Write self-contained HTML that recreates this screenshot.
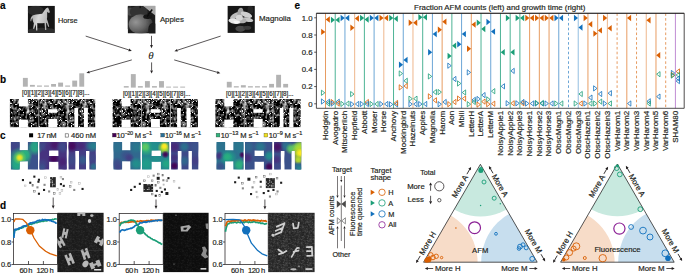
<!DOCTYPE html>
<html><head><meta charset="utf-8"><style>
html,body{margin:0;padding:0;background:#fff;overflow:hidden}
svg{display:block}
text{font-family:"Liberation Sans",sans-serif;stroke:#231f20;stroke-width:0.18px}
</style></head><body>
<svg width="685" height="277" viewBox="0 0 685 277">
<defs>
<filter id="nblur" x="0" y="0" width="100%" height="100%"><feGaussianBlur stdDeviation="0.25"/></filter>
<filter id="pblur" x="-20%" y="-20%" width="140%" height="140%"><feGaussianBlur stdDeviation="0.35"/></filter>
<linearGradient id="horseg" x1="0" y1="0" x2="1" y2="0.3"><stop offset="0" stop-color="#9a9a9a"/><stop offset="0.5" stop-color="#d8d8d8"/><stop offset="1" stop-color="#b0b0b0"/></linearGradient>
<radialGradient id="appleg" cx="0.3" cy="0.4" r="0.75"><stop offset="0" stop-color="#959595"/><stop offset="0.55" stop-color="#666"/><stop offset="1" stop-color="#2e2e2e"/></radialGradient>
<pattern id="noise" x="0" y="0" width="40" height="40" patternUnits="userSpaceOnUse"><rect width="40" height="40" fill="#000"/><rect x="0" y="0" width="1" height="1" fill="#353535"/><rect x="1" y="0" width="1" height="1" fill="#494949"/><rect x="4" y="0" width="1" height="1" fill="#666666"/><rect x="5" y="0" width="1" height="1" fill="#8f8f8f"/><rect x="6" y="0" width="1" height="1" fill="#121212"/><rect x="12" y="0" width="1" height="1" fill="#252525"/><rect x="13" y="0" width="1" height="1" fill="#131313"/><rect x="14" y="0" width="1" height="1" fill="#565656"/><rect x="15" y="0" width="1" height="1" fill="#4b4b4b"/><rect x="17" y="0" width="1" height="1" fill="#1d1d1d"/><rect x="18" y="0" width="1" height="1" fill="#2a2a2a"/><rect x="19" y="0" width="1" height="1" fill="#e4e4e4"/><rect x="20" y="0" width="1" height="1" fill="#171717"/><rect x="21" y="0" width="1" height="1" fill="#e9e9e9"/><rect x="22" y="0" width="1" height="1" fill="#161616"/><rect x="25" y="0" width="1" height="1" fill="#dfdfdf"/><rect x="26" y="0" width="1" height="1" fill="#ebebeb"/><rect x="28" y="0" width="1" height="1" fill="#343434"/><rect x="29" y="0" width="1" height="1" fill="#7e7e7e"/><rect x="30" y="0" width="1" height="1" fill="#999999"/><rect x="31" y="0" width="1" height="1" fill="#7f7f7f"/><rect x="32" y="0" width="1" height="1" fill="#9f9f9f"/><rect x="33" y="0" width="1" height="1" fill="#848484"/><rect x="34" y="0" width="1" height="1" fill="#141414"/><rect x="1" y="1" width="1" height="1" fill="#111111"/><rect x="3" y="1" width="1" height="1" fill="#1d1d1d"/><rect x="4" y="1" width="1" height="1" fill="#666666"/><rect x="5" y="1" width="1" height="1" fill="#898989"/><rect x="6" y="1" width="1" height="1" fill="#3a3a3a"/><rect x="9" y="1" width="1" height="1" fill="#0f0f0f"/><rect x="12" y="1" width="1" height="1" fill="#232323"/><rect x="13" y="1" width="1" height="1" fill="#090909"/><rect x="14" y="1" width="1" height="1" fill="#2f2f2f"/><rect x="15" y="1" width="1" height="1" fill="#454545"/><rect x="16" y="1" width="1" height="1" fill="#4b4b4b"/><rect x="17" y="1" width="1" height="1" fill="#5a5a5a"/><rect x="18" y="1" width="1" height="1" fill="#4d4d4d"/><rect x="19" y="1" width="1" height="1" fill="#272727"/><rect x="20" y="1" width="1" height="1" fill="#151515"/><rect x="21" y="1" width="1" height="1" fill="#484848"/><rect x="22" y="1" width="1" height="1" fill="#3f3f3f"/><rect x="23" y="1" width="1" height="1" fill="#3c3c3c"/><rect x="24" y="1" width="1" height="1" fill="#343434"/><rect x="25" y="1" width="1" height="1" fill="#0f0f0f"/><rect x="27" y="1" width="1" height="1" fill="#f1f1f1"/><rect x="28" y="1" width="1" height="1" fill="#6f6f6f"/><rect x="29" y="1" width="1" height="1" fill="#6b6b6b"/><rect x="30" y="1" width="1" height="1" fill="#757575"/><rect x="31" y="1" width="1" height="1" fill="#727272"/><rect x="32" y="1" width="1" height="1" fill="#646464"/><rect x="33" y="1" width="1" height="1" fill="#353535"/><rect x="1" y="2" width="1" height="1" fill="#111111"/><rect x="2" y="2" width="1" height="1" fill="#1a1a1a"/><rect x="3" y="2" width="1" height="1" fill="#545454"/><rect x="4" y="2" width="1" height="1" fill="#606060"/><rect x="5" y="2" width="1" height="1" fill="#747474"/><rect x="6" y="2" width="1" height="1" fill="#686868"/><rect x="7" y="2" width="1" height="1" fill="#1d1d1d"/><rect x="8" y="2" width="1" height="1" fill="#373737"/><rect x="9" y="2" width="1" height="1" fill="#474747"/><rect x="10" y="2" width="1" height="1" fill="#323232"/><rect x="11" y="2" width="1" height="1" fill="#484848"/><rect x="12" y="2" width="1" height="1" fill="#717171"/><rect x="13" y="2" width="1" height="1" fill="#656565"/><rect x="14" y="2" width="1" height="1" fill="#505050"/><rect x="15" y="2" width="1" height="1" fill="#676767"/><rect x="16" y="2" width="1" height="1" fill="#707070"/><rect x="17" y="2" width="1" height="1" fill="#575757"/><rect x="18" y="2" width="1" height="1" fill="#282828"/><rect x="20" y="2" width="1" height="1" fill="#080808"/><rect x="21" y="2" width="1" height="1" fill="#555555"/><rect x="22" y="2" width="1" height="1" fill="#7f7f7f"/><rect x="23" y="2" width="1" height="1" fill="#8d8d8d"/><rect x="24" y="2" width="1" height="1" fill="#838383"/><rect x="25" y="2" width="1" height="1" fill="#414141"/><rect x="27" y="2" width="1" height="1" fill="#202020"/><rect x="28" y="2" width="1" height="1" fill="#8b8b8b"/><rect x="29" y="2" width="1" height="1" fill="#5e5e5e"/><rect x="30" y="2" width="1" height="1" fill="#333333"/><rect x="31" y="2" width="1" height="1" fill="#2a2a2a"/><rect x="32" y="2" width="1" height="1" fill="#101010"/><rect x="35" y="2" width="1" height="1" fill="#545454"/><rect x="36" y="2" width="1" height="1" fill="#363636"/><rect x="1" y="3" width="1" height="1" fill="#5e5e5e"/><rect x="2" y="3" width="1" height="1" fill="#5d5d5d"/><rect x="3" y="3" width="1" height="1" fill="#3d3d3d"/><rect x="4" y="3" width="1" height="1" fill="#292929"/><rect x="5" y="3" width="1" height="1" fill="#f0f0f0"/><rect x="6" y="3" width="1" height="1" fill="#909090"/><rect x="7" y="3" width="1" height="1" fill="#131313"/><rect x="8" y="3" width="1" height="1" fill="#e0e0e0"/><rect x="10" y="3" width="1" height="1" fill="#1e1e1e"/><rect x="11" y="3" width="1" height="1" fill="#e4e4e4"/><rect x="12" y="3" width="1" height="1" fill="#676767"/><rect x="13" y="3" width="1" height="1" fill="#606060"/><rect x="14" y="3" width="1" height="1" fill="#151515"/><rect x="15" y="3" width="1" height="1" fill="#161616"/><rect x="16" y="3" width="1" height="1" fill="#f1f1f1"/><rect x="17" y="3" width="1" height="1" fill="#747474"/><rect x="18" y="3" width="1" height="1" fill="#1b1b1b"/><rect x="20" y="3" width="1" height="1" fill="#444444"/><rect x="21" y="3" width="1" height="1" fill="#545454"/><rect x="22" y="3" width="1" height="1" fill="#5f5f5f"/><rect x="23" y="3" width="1" height="1" fill="#626262"/><rect x="24" y="3" width="1" height="1" fill="#8c8c8c"/><rect x="25" y="3" width="1" height="1" fill="#868686"/><rect x="26" y="3" width="1" height="1" fill="#272727"/><rect x="27" y="3" width="1" height="1" fill="#141414"/><rect x="28" y="3" width="1" height="1" fill="#4f4f4f"/><rect x="29" y="3" width="1" height="1" fill="#111111"/><rect x="31" y="3" width="1" height="1" fill="#ececec"/><rect x="32" y="3" width="1" height="1" fill="#474747"/><rect x="33" y="3" width="1" height="1" fill="#1a1a1a"/><rect x="34" y="3" width="1" height="1" fill="#585858"/><rect x="35" y="3" width="1" height="1" fill="#858585"/><rect x="36" y="3" width="1" height="1" fill="#6e6e6e"/><rect x="0" y="4" width="1" height="1" fill="#454545"/><rect x="1" y="4" width="1" height="1" fill="#767676"/><rect x="2" y="4" width="1" height="1" fill="#5e5e5e"/><rect x="3" y="4" width="1" height="1" fill="#0c0c0c"/><rect x="5" y="4" width="1" height="1" fill="#686868"/><rect x="6" y="4" width="1" height="1" fill="#7a7a7a"/><rect x="9" y="4" width="1" height="1" fill="#353535"/><rect x="10" y="4" width="1" height="1" fill="#4e4e4e"/><rect x="11" y="4" width="1" height="1" fill="#1a1a1a"/><rect x="12" y="4" width="1" height="1" fill="#0b0b0b"/><rect x="13" y="4" width="1" height="1" fill="#2b2b2b"/><rect x="16" y="4" width="1" height="1" fill="#424242"/><rect x="17" y="4" width="1" height="1" fill="#dddddd"/><rect x="18" y="4" width="1" height="1" fill="#171717"/><rect x="20" y="4" width="1" height="1" fill="#616161"/><rect x="21" y="4" width="1" height="1" fill="#585858"/><rect x="22" y="4" width="1" height="1" fill="#535353"/><rect x="23" y="4" width="1" height="1" fill="#eaeaea"/><rect x="24" y="4" width="1" height="1" fill="#989898"/><rect x="25" y="4" width="1" height="1" fill="#787878"/><rect x="27" y="4" width="1" height="1" fill="#eaeaea"/><rect x="28" y="4" width="1" height="1" fill="#1e1e1e"/><rect x="32" y="4" width="1" height="1" fill="#595959"/><rect x="33" y="4" width="1" height="1" fill="#e4e4e4"/><rect x="34" y="4" width="1" height="1" fill="#545454"/><rect x="35" y="4" width="1" height="1" fill="#292929"/><rect x="36" y="4" width="1" height="1" fill="#2e2e2e"/><rect x="38" y="4" width="1" height="1" fill="#181818"/><rect x="39" y="4" width="1" height="1" fill="#292929"/><rect x="5" y="5" width="1" height="1" fill="#131313"/><rect x="6" y="5" width="1" height="1" fill="#414141"/><rect x="7" y="5" width="1" height="1" fill="#151515"/><rect x="8" y="5" width="1" height="1" fill="#212121"/><rect x="9" y="5" width="1" height="1" fill="#5d5d5d"/><rect x="10" y="5" width="1" height="1" fill="#606060"/><rect x="12" y="5" width="1" height="1" fill="#0b0b0b"/><rect x="13" y="5" width="1" height="1" fill="#393939"/><rect x="17" y="5" width="1" height="1" fill="#101010"/><rect x="19" y="5" width="1" height="1" fill="#e3e3e3"/><rect x="20" y="5" width="1" height="1" fill="#282828"/><rect x="21" y="5" width="1" height="1" fill="#222222"/><rect x="22" y="5" width="1" height="1" fill="#585858"/><rect x="23" y="5" width="1" height="1" fill="#8d8d8d"/><rect x="24" y="5" width="1" height="1" fill="#7e7e7e"/><rect x="25" y="5" width="1" height="1" fill="#4a4a4a"/><rect x="28" y="5" width="1" height="1" fill="#1e1e1e"/><rect x="29" y="5" width="1" height="1" fill="#090909"/><rect x="31" y="5" width="1" height="1" fill="#f0f0f0"/><rect x="32" y="5" width="1" height="1" fill="#0e0e0e"/><rect x="33" y="5" width="1" height="1" fill="#343434"/><rect x="34" y="5" width="1" height="1" fill="#242424"/><rect x="35" y="5" width="1" height="1" fill="#202020"/><rect x="36" y="5" width="1" height="1" fill="#4f4f4f"/><rect x="39" y="5" width="1" height="1" fill="#242424"/><rect x="0" y="6" width="1" height="1" fill="#1d1d1d"/><rect x="1" y="6" width="1" height="1" fill="#202020"/><rect x="6" y="6" width="1" height="1" fill="#3f3f3f"/><rect x="7" y="6" width="1" height="1" fill="#171717"/><rect x="8" y="6" width="1" height="1" fill="#292929"/><rect x="9" y="6" width="1" height="1" fill="#7f7f7f"/><rect x="10" y="6" width="1" height="1" fill="#7c7c7c"/><rect x="11" y="6" width="1" height="1" fill="#404040"/><rect x="12" y="6" width="1" height="1" fill="#3d3d3d"/><rect x="13" y="6" width="1" height="1" fill="#414141"/><rect x="14" y="6" width="1" height="1" fill="#101010"/><rect x="15" y="6" width="1" height="1" fill="#0f0f0f"/><rect x="16" y="6" width="1" height="1" fill="#0a0a0a"/><rect x="17" y="6" width="1" height="1" fill="#262626"/><rect x="19" y="6" width="1" height="1" fill="#4d4d4d"/><rect x="20" y="6" width="1" height="1" fill="#606060"/><rect x="21" y="6" width="1" height="1" fill="#272727"/><rect x="22" y="6" width="1" height="1" fill="#4f4f4f"/><rect x="23" y="6" width="1" height="1" fill="#666666"/><rect x="24" y="6" width="1" height="1" fill="#5c5c5c"/><rect x="25" y="6" width="1" height="1" fill="#1d1d1d"/><rect x="26" y="6" width="1" height="1" fill="#323232"/><rect x="27" y="6" width="1" height="1" fill="#737373"/><rect x="28" y="6" width="1" height="1" fill="#686868"/><rect x="29" y="6" width="1" height="1" fill="#101010"/><rect x="30" y="6" width="1" height="1" fill="#0b0b0b"/><rect x="31" y="6" width="1" height="1" fill="#e6e6e6"/><rect x="35" y="6" width="1" height="1" fill="#0c0c0c"/><rect x="36" y="6" width="1" height="1" fill="#353535"/><rect x="37" y="6" width="1" height="1" fill="#121212"/><rect x="38" y="6" width="1" height="1" fill="#101010"/><rect x="39" y="6" width="1" height="1" fill="#e0e0e0"/><rect x="0" y="7" width="1" height="1" fill="#505050"/><rect x="1" y="7" width="1" height="1" fill="#747474"/><rect x="2" y="7" width="1" height="1" fill="#696969"/><rect x="3" y="7" width="1" height="1" fill="#666666"/><rect x="4" y="7" width="1" height="1" fill="#535353"/><rect x="5" y="7" width="1" height="1" fill="#323232"/><rect x="6" y="7" width="1" height="1" fill="#717171"/><rect x="7" y="7" width="1" height="1" fill="#626262"/><rect x="8" y="7" width="1" height="1" fill="#595959"/><rect x="9" y="7" width="1" height="1" fill="#585858"/><rect x="10" y="7" width="1" height="1" fill="#232323"/><rect x="11" y="7" width="1" height="1" fill="#3f3f3f"/><rect x="12" y="7" width="1" height="1" fill="#303030"/><rect x="16" y="7" width="1" height="1" fill="#0f0f0f"/><rect x="17" y="7" width="1" height="1" fill="#434343"/><rect x="18" y="7" width="1" height="1" fill="#5e5e5e"/><rect x="19" y="7" width="1" height="1" fill="#9c9c9c"/><rect x="20" y="7" width="1" height="1" fill="#919191"/><rect x="21" y="7" width="1" height="1" fill="#363636"/><rect x="22" y="7" width="1" height="1" fill="#3c3c3c"/><rect x="23" y="7" width="1" height="1" fill="#4a4a4a"/><rect x="24" y="7" width="1" height="1" fill="#3c3c3c"/><rect x="25" y="7" width="1" height="1" fill="#2c2c2c"/><rect x="26" y="7" width="1" height="1" fill="#5a5a5a"/><rect x="27" y="7" width="1" height="1" fill="#a8a8a8"/><rect x="28" y="7" width="1" height="1" fill="#787878"/><rect x="29" y="7" width="1" height="1" fill="#1c1c1c"/><rect x="38" y="7" width="1" height="1" fill="#181818"/><rect x="39" y="7" width="1" height="1" fill="#4c4c4c"/><rect x="0" y="8" width="1" height="1" fill="#909090"/><rect x="1" y="8" width="1" height="1" fill="#777777"/><rect x="2" y="8" width="1" height="1" fill="#787878"/><rect x="3" y="8" width="1" height="1" fill="#747474"/><rect x="4" y="8" width="1" height="1" fill="#707070"/><rect x="5" y="8" width="1" height="1" fill="#4e4e4e"/><rect x="6" y="8" width="1" height="1" fill="#434343"/><rect x="7" y="8" width="1" height="1" fill="#3a3a3a"/><rect x="8" y="8" width="1" height="1" fill="#6a6a6a"/><rect x="9" y="8" width="1" height="1" fill="#e4e4e4"/><rect x="11" y="8" width="1" height="1" fill="#323232"/><rect x="12" y="8" width="1" height="1" fill="#414141"/><rect x="13" y="8" width="1" height="1" fill="#e3e3e3"/><rect x="14" y="8" width="1" height="1" fill="#f0f0f0"/><rect x="15" y="8" width="1" height="1" fill="#151515"/><rect x="17" y="8" width="1" height="1" fill="#383838"/><rect x="18" y="8" width="1" height="1" fill="#6a6a6a"/><rect x="19" y="8" width="1" height="1" fill="#717171"/><rect x="20" y="8" width="1" height="1" fill="#6a6a6a"/><rect x="21" y="8" width="1" height="1" fill="#666666"/><rect x="22" y="8" width="1" height="1" fill="#2e2e2e"/><rect x="23" y="8" width="1" height="1" fill="#292929"/><rect x="25" y="8" width="1" height="1" fill="#212121"/><rect x="26" y="8" width="1" height="1" fill="#686868"/><rect x="27" y="8" width="1" height="1" fill="#adadad"/><rect x="28" y="8" width="1" height="1" fill="#868686"/><rect x="29" y="8" width="1" height="1" fill="#080808"/><rect x="36" y="8" width="1" height="1" fill="#d9d9d9"/><rect x="38" y="8" width="1" height="1" fill="#0c0c0c"/><rect x="39" y="8" width="1" height="1" fill="#838383"/><rect x="0" y="9" width="1" height="1" fill="#8f8f8f"/><rect x="1" y="9" width="1" height="1" fill="#606060"/><rect x="2" y="9" width="1" height="1" fill="#525252"/><rect x="3" y="9" width="1" height="1" fill="#767676"/><rect x="4" y="9" width="1" height="1" fill="#ededed"/><rect x="5" y="9" width="1" height="1" fill="#3c3c3c"/><rect x="6" y="9" width="1" height="1" fill="#171717"/><rect x="8" y="9" width="1" height="1" fill="#3b3b3b"/><rect x="9" y="9" width="1" height="1" fill="#3b3b3b"/><rect x="11" y="9" width="1" height="1" fill="#252525"/><rect x="12" y="9" width="1" height="1" fill="#191919"/><rect x="13" y="9" width="1" height="1" fill="#252525"/><rect x="14" y="9" width="1" height="1" fill="#4b4b4b"/><rect x="15" y="9" width="1" height="1" fill="#444444"/><rect x="17" y="9" width="1" height="1" fill="#0a0a0a"/><rect x="18" y="9" width="1" height="1" fill="#2f2f2f"/><rect x="19" y="9" width="1" height="1" fill="#0d0d0d"/><rect x="20" y="9" width="1" height="1" fill="#0b0b0b"/><rect x="21" y="9" width="1" height="1" fill="#5c5c5c"/><rect x="22" y="9" width="1" height="1" fill="#2e2e2e"/><rect x="23" y="9" width="1" height="1" fill="#ececec"/><rect x="25" y="9" width="1" height="1" fill="#252525"/><rect x="26" y="9" width="1" height="1" fill="#6e6e6e"/><rect x="27" y="9" width="1" height="1" fill="#686868"/><rect x="28" y="9" width="1" height="1" fill="#454545"/><rect x="29" y="9" width="1" height="1" fill="#1c1c1c"/><rect x="30" y="9" width="1" height="1" fill="#4d4d4d"/><rect x="31" y="9" width="1" height="1" fill="#4d4d4d"/><rect x="32" y="9" width="1" height="1" fill="#2c2c2c"/><rect x="33" y="9" width="1" height="1" fill="#111111"/><rect x="34" y="9" width="1" height="1" fill="#0f0f0f"/><rect x="35" y="9" width="1" height="1" fill="#1a1a1a"/><rect x="36" y="9" width="1" height="1" fill="#f1f1f1"/><rect x="39" y="9" width="1" height="1" fill="#6c6c6c"/><rect x="0" y="10" width="1" height="1" fill="#656565"/><rect x="1" y="10" width="1" height="1" fill="#535353"/><rect x="2" y="10" width="1" height="1" fill="#747474"/><rect x="3" y="10" width="1" height="1" fill="#949494"/><rect x="4" y="10" width="1" height="1" fill="#5e5e5e"/><rect x="5" y="10" width="1" height="1" fill="#3b3b3b"/><rect x="6" y="10" width="1" height="1" fill="#333333"/><rect x="7" y="10" width="1" height="1" fill="#3b3b3b"/><rect x="8" y="10" width="1" height="1" fill="#7d7d7d"/><rect x="9" y="10" width="1" height="1" fill="#9f9f9f"/><rect x="10" y="10" width="1" height="1" fill="#717171"/><rect x="11" y="10" width="1" height="1" fill="#3c3c3c"/><rect x="12" y="10" width="1" height="1" fill="#161616"/><rect x="13" y="10" width="1" height="1" fill="#363636"/><rect x="14" y="10" width="1" height="1" fill="#666666"/><rect x="15" y="10" width="1" height="1" fill="#3b3b3b"/><rect x="21" y="10" width="1" height="1" fill="#565656"/><rect x="22" y="10" width="1" height="1" fill="#575757"/><rect x="23" y="10" width="1" height="1" fill="#151515"/><rect x="25" y="10" width="1" height="1" fill="#1b1b1b"/><rect x="26" y="10" width="1" height="1" fill="#393939"/><rect x="27" y="10" width="1" height="1" fill="#2c2c2c"/><rect x="29" y="10" width="1" height="1" fill="#dedede"/><rect x="30" y="10" width="1" height="1" fill="#5a5a5a"/><rect x="31" y="10" width="1" height="1" fill="#717171"/><rect x="32" y="10" width="1" height="1" fill="#797979"/><rect x="33" y="10" width="1" height="1" fill="#797979"/><rect x="34" y="10" width="1" height="1" fill="#494949"/><rect x="35" y="10" width="1" height="1" fill="#363636"/><rect x="36" y="10" width="1" height="1" fill="#131313"/><rect x="37" y="10" width="1" height="1" fill="#0e0e0e"/><rect x="38" y="10" width="1" height="1" fill="#212121"/><rect x="39" y="10" width="1" height="1" fill="#5f5f5f"/><rect x="0" y="11" width="1" height="1" fill="#1b1b1b"/><rect x="1" y="11" width="1" height="1" fill="#101010"/><rect x="2" y="11" width="1" height="1" fill="#5b5b5b"/><rect x="3" y="11" width="1" height="1" fill="#a1a1a1"/><rect x="4" y="11" width="1" height="1" fill="#909090"/><rect x="5" y="11" width="1" height="1" fill="#292929"/><rect x="7" y="11" width="1" height="1" fill="#373737"/><rect x="8" y="11" width="1" height="1" fill="#7a7a7a"/><rect x="9" y="11" width="1" height="1" fill="#898989"/><rect x="10" y="11" width="1" height="1" fill="#6e6e6e"/><rect x="11" y="11" width="1" height="1" fill="#515151"/><rect x="12" y="11" width="1" height="1" fill="#363636"/><rect x="13" y="11" width="1" height="1" fill="#202020"/><rect x="14" y="11" width="1" height="1" fill="#f0f0f0"/><rect x="15" y="11" width="1" height="1" fill="#353535"/><rect x="17" y="11" width="1" height="1" fill="#2e2e2e"/><rect x="21" y="11" width="1" height="1" fill="#4a4a4a"/><rect x="22" y="11" width="1" height="1" fill="#555555"/><rect x="23" y="11" width="1" height="1" fill="#4e4e4e"/><rect x="24" y="11" width="1" height="1" fill="#343434"/><rect x="25" y="11" width="1" height="1" fill="#171717"/><rect x="26" y="11" width="1" height="1" fill="#3c3c3c"/><rect x="27" y="11" width="1" height="1" fill="#4d4d4d"/><rect x="28" y="11" width="1" height="1" fill="#252525"/><rect x="29" y="11" width="1" height="1" fill="#464646"/><rect x="30" y="11" width="1" height="1" fill="#343434"/><rect x="31" y="11" width="1" height="1" fill="#4a4a4a"/><rect x="32" y="11" width="1" height="1" fill="#595959"/><rect x="33" y="11" width="1" height="1" fill="#7b7b7b"/><rect x="34" y="11" width="1" height="1" fill="#7a7a7a"/><rect x="35" y="11" width="1" height="1" fill="#484848"/><rect x="2" y="12" width="1" height="1" fill="#242424"/><rect x="3" y="12" width="1" height="1" fill="#5f5f5f"/><rect x="4" y="12" width="1" height="1" fill="#7c7c7c"/><rect x="5" y="12" width="1" height="1" fill="#e7e7e7"/><rect x="9" y="12" width="1" height="1" fill="#1b1b1b"/><rect x="10" y="12" width="1" height="1" fill="#717171"/><rect x="11" y="12" width="1" height="1" fill="#8c8c8c"/><rect x="12" y="12" width="1" height="1" fill="#464646"/><rect x="13" y="12" width="1" height="1" fill="#1f1f1f"/><rect x="14" y="12" width="1" height="1" fill="#545454"/><rect x="15" y="12" width="1" height="1" fill="#484848"/><rect x="16" y="12" width="1" height="1" fill="#515151"/><rect x="17" y="12" width="1" height="1" fill="#dbdbdb"/><rect x="18" y="12" width="1" height="1" fill="#2b2b2b"/><rect x="19" y="12" width="1" height="1" fill="#373737"/><rect x="20" y="12" width="1" height="1" fill="#0a0a0a"/><rect x="21" y="12" width="1" height="1" fill="#343434"/><rect x="22" y="12" width="1" height="1" fill="#676767"/><rect x="23" y="12" width="1" height="1" fill="#656565"/><rect x="24" y="12" width="1" height="1" fill="#4c4c4c"/><rect x="25" y="12" width="1" height="1" fill="#5a5a5a"/><rect x="26" y="12" width="1" height="1" fill="#e8e8e8"/><rect x="27" y="12" width="1" height="1" fill="#ececec"/><rect x="28" y="12" width="1" height="1" fill="#262626"/><rect x="29" y="12" width="1" height="1" fill="#474747"/><rect x="30" y="12" width="1" height="1" fill="#1d1d1d"/><rect x="31" y="12" width="1" height="1" fill="#434343"/><rect x="32" y="12" width="1" height="1" fill="#6a6a6a"/><rect x="33" y="12" width="1" height="1" fill="#3a3a3a"/><rect x="34" y="12" width="1" height="1" fill="#4d4d4d"/><rect x="35" y="12" width="1" height="1" fill="#282828"/><rect x="37" y="12" width="1" height="1" fill="#e6e6e6"/><rect x="0" y="13" width="1" height="1" fill="#f2f2f2"/><rect x="1" y="13" width="1" height="1" fill="#0d0d0d"/><rect x="2" y="13" width="1" height="1" fill="#565656"/><rect x="3" y="13" width="1" height="1" fill="#5a5a5a"/><rect x="4" y="13" width="1" height="1" fill="#767676"/><rect x="5" y="13" width="1" height="1" fill="#656565"/><rect x="6" y="13" width="1" height="1" fill="#383838"/><rect x="10" y="13" width="1" height="1" fill="#4f4f4f"/><rect x="11" y="13" width="1" height="1" fill="#787878"/><rect x="12" y="13" width="1" height="1" fill="#2d2d2d"/><rect x="13" y="13" width="1" height="1" fill="#080808"/><rect x="14" y="13" width="1" height="1" fill="#0a0a0a"/><rect x="15" y="13" width="1" height="1" fill="#444444"/><rect x="16" y="13" width="1" height="1" fill="#9c9c9c"/><rect x="17" y="13" width="1" height="1" fill="#bdbdbd"/><rect x="18" y="13" width="1" height="1" fill="#999999"/><rect x="19" y="13" width="1" height="1" fill="#8d8d8d"/><rect x="20" y="13" width="1" height="1" fill="#383838"/><rect x="22" y="13" width="1" height="1" fill="#202020"/><rect x="23" y="13" width="1" height="1" fill="#555555"/><rect x="24" y="13" width="1" height="1" fill="#474747"/><rect x="25" y="13" width="1" height="1" fill="#444444"/><rect x="26" y="13" width="1" height="1" fill="#2b2b2b"/><rect x="27" y="13" width="1" height="1" fill="#151515"/><rect x="28" y="13" width="1" height="1" fill="#454545"/><rect x="29" y="13" width="1" height="1" fill="#3d3d3d"/><rect x="30" y="13" width="1" height="1" fill="#373737"/><rect x="31" y="13" width="1" height="1" fill="#1c1c1c"/><rect x="32" y="13" width="1" height="1" fill="#505050"/><rect x="33" y="13" width="1" height="1" fill="#2e2e2e"/><rect x="34" y="13" width="1" height="1" fill="#343434"/><rect x="36" y="13" width="1" height="1" fill="#e3e3e3"/><rect x="38" y="13" width="1" height="1" fill="#171717"/><rect x="1" y="14" width="1" height="1" fill="#363636"/><rect x="2" y="14" width="1" height="1" fill="#595959"/><rect x="3" y="14" width="1" height="1" fill="#232323"/><rect x="4" y="14" width="1" height="1" fill="#626262"/><rect x="5" y="14" width="1" height="1" fill="#8c8c8c"/><rect x="6" y="14" width="1" height="1" fill="#707070"/><rect x="7" y="14" width="1" height="1" fill="#2f2f2f"/><rect x="8" y="14" width="1" height="1" fill="#3f3f3f"/><rect x="9" y="14" width="1" height="1" fill="#2e2e2e"/><rect x="10" y="14" width="1" height="1" fill="#4f4f4f"/><rect x="11" y="14" width="1" height="1" fill="#323232"/><rect x="12" y="14" width="1" height="1" fill="#0f0f0f"/><rect x="13" y="14" width="1" height="1" fill="#1e1e1e"/><rect x="14" y="14" width="1" height="1" fill="#171717"/><rect x="15" y="14" width="1" height="1" fill="#5c5c5c"/><rect x="16" y="14" width="1" height="1" fill="#818181"/><rect x="17" y="14" width="1" height="1" fill="#a9a9a9"/><rect x="18" y="14" width="1" height="1" fill="#a1a1a1"/><rect x="19" y="14" width="1" height="1" fill="#565656"/><rect x="23" y="14" width="1" height="1" fill="#232323"/><rect x="28" y="14" width="1" height="1" fill="#373737"/><rect x="29" y="14" width="1" height="1" fill="#343434"/><rect x="30" y="14" width="1" height="1" fill="#1d1d1d"/><rect x="34" y="14" width="1" height="1" fill="#1d1d1d"/><rect x="36" y="14" width="1" height="1" fill="#0f0f0f"/><rect x="37" y="14" width="1" height="1" fill="#515151"/><rect x="38" y="14" width="1" height="1" fill="#454545"/><rect x="1" y="15" width="1" height="1" fill="#dfdfdf"/><rect x="2" y="15" width="1" height="1" fill="#e8e8e8"/><rect x="4" y="15" width="1" height="1" fill="#595959"/><rect x="5" y="15" width="1" height="1" fill="#919191"/><rect x="6" y="15" width="1" height="1" fill="#e1e1e1"/><rect x="7" y="15" width="1" height="1" fill="#e2e2e2"/><rect x="8" y="15" width="1" height="1" fill="#5b5b5b"/><rect x="9" y="15" width="1" height="1" fill="#636363"/><rect x="10" y="15" width="1" height="1" fill="#303030"/><rect x="11" y="15" width="1" height="1" fill="#0c0c0c"/><rect x="12" y="15" width="1" height="1" fill="#dddddd"/><rect x="13" y="15" width="1" height="1" fill="#212121"/><rect x="14" y="15" width="1" height="1" fill="#5a5a5a"/><rect x="15" y="15" width="1" height="1" fill="#838383"/><rect x="16" y="15" width="1" height="1" fill="#4c4c4c"/><rect x="17" y="15" width="1" height="1" fill="#535353"/><rect x="18" y="15" width="1" height="1" fill="#7c7c7c"/><rect x="19" y="15" width="1" height="1" fill="#444444"/><rect x="21" y="15" width="1" height="1" fill="#eeeeee"/><rect x="23" y="15" width="1" height="1" fill="#232323"/><rect x="24" y="15" width="1" height="1" fill="#232323"/><rect x="25" y="15" width="1" height="1" fill="#2f2f2f"/><rect x="26" y="15" width="1" height="1" fill="#222222"/><rect x="27" y="15" width="1" height="1" fill="#0c0c0c"/><rect x="28" y="15" width="1" height="1" fill="#171717"/><rect x="29" y="15" width="1" height="1" fill="#e1e1e1"/><rect x="30" y="15" width="1" height="1" fill="#0f0f0f"/><rect x="34" y="15" width="1" height="1" fill="#161616"/><rect x="35" y="15" width="1" height="1" fill="#080808"/><rect x="36" y="15" width="1" height="1" fill="#1a1a1a"/><rect x="37" y="15" width="1" height="1" fill="#6b6b6b"/><rect x="38" y="15" width="1" height="1" fill="#777777"/><rect x="39" y="15" width="1" height="1" fill="#e1e1e1"/><rect x="0" y="16" width="1" height="1" fill="#232323"/><rect x="5" y="16" width="1" height="1" fill="#282828"/><rect x="6" y="16" width="1" height="1" fill="#747474"/><rect x="7" y="16" width="1" height="1" fill="#646464"/><rect x="8" y="16" width="1" height="1" fill="#6a6a6a"/><rect x="9" y="16" width="1" height="1" fill="#4e4e4e"/><rect x="11" y="16" width="1" height="1" fill="#0c0c0c"/><rect x="12" y="16" width="1" height="1" fill="#dadada"/><rect x="14" y="16" width="1" height="1" fill="#535353"/><rect x="15" y="16" width="1" height="1" fill="#838383"/><rect x="16" y="16" width="1" height="1" fill="#474747"/><rect x="17" y="16" width="1" height="1" fill="#373737"/><rect x="18" y="16" width="1" height="1" fill="#545454"/><rect x="19" y="16" width="1" height="1" fill="#101010"/><rect x="22" y="16" width="1" height="1" fill="#3d3d3d"/><rect x="23" y="16" width="1" height="1" fill="#ededed"/><rect x="24" y="16" width="1" height="1" fill="#3d3d3d"/><rect x="25" y="16" width="1" height="1" fill="#282828"/><rect x="26" y="16" width="1" height="1" fill="#0e0e0e"/><rect x="27" y="16" width="1" height="1" fill="#161616"/><rect x="28" y="16" width="1" height="1" fill="#2f2f2f"/><rect x="29" y="16" width="1" height="1" fill="#292929"/><rect x="31" y="16" width="1" height="1" fill="#ededed"/><rect x="32" y="16" width="1" height="1" fill="#1b1b1b"/><rect x="33" y="16" width="1" height="1" fill="#555555"/><rect x="34" y="16" width="1" height="1" fill="#454545"/><rect x="35" y="16" width="1" height="1" fill="#292929"/><rect x="36" y="16" width="1" height="1" fill="#4f4f4f"/><rect x="37" y="16" width="1" height="1" fill="#585858"/><rect x="38" y="16" width="1" height="1" fill="#555555"/><rect x="39" y="16" width="1" height="1" fill="#494949"/><rect x="2" y="17" width="1" height="1" fill="#1b1b1b"/><rect x="6" y="17" width="1" height="1" fill="#696969"/><rect x="7" y="17" width="1" height="1" fill="#7f7f7f"/><rect x="8" y="17" width="1" height="1" fill="#5f5f5f"/><rect x="9" y="17" width="1" height="1" fill="#5d5d5d"/><rect x="10" y="17" width="1" height="1" fill="#111111"/><rect x="13" y="17" width="1" height="1" fill="#090909"/><rect x="14" y="17" width="1" height="1" fill="#4c4c4c"/><rect x="15" y="17" width="1" height="1" fill="#323232"/><rect x="17" y="17" width="1" height="1" fill="#2a2a2a"/><rect x="18" y="17" width="1" height="1" fill="#191919"/><rect x="22" y="17" width="1" height="1" fill="#2a2a2a"/><rect x="23" y="17" width="1" height="1" fill="#414141"/><rect x="24" y="17" width="1" height="1" fill="#6a6a6a"/><rect x="25" y="17" width="1" height="1" fill="#212121"/><rect x="26" y="17" width="1" height="1" fill="#131313"/><rect x="31" y="17" width="1" height="1" fill="#121212"/><rect x="32" y="17" width="1" height="1" fill="#1e1e1e"/><rect x="33" y="17" width="1" height="1" fill="#838383"/><rect x="34" y="17" width="1" height="1" fill="#7e7e7e"/><rect x="35" y="17" width="1" height="1" fill="#7d7d7d"/><rect x="36" y="17" width="1" height="1" fill="#6e6e6e"/><rect x="37" y="17" width="1" height="1" fill="#525252"/><rect x="38" y="17" width="1" height="1" fill="#545454"/><rect x="39" y="17" width="1" height="1" fill="#ececec"/><rect x="0" y="18" width="1" height="1" fill="#191919"/><rect x="1" y="18" width="1" height="1" fill="#414141"/><rect x="2" y="18" width="1" height="1" fill="#373737"/><rect x="5" y="18" width="1" height="1" fill="#3e3e3e"/><rect x="6" y="18" width="1" height="1" fill="#636363"/><rect x="7" y="18" width="1" height="1" fill="#efefef"/><rect x="8" y="18" width="1" height="1" fill="#434343"/><rect x="9" y="18" width="1" height="1" fill="#686868"/><rect x="10" y="18" width="1" height="1" fill="#1a1a1a"/><rect x="13" y="18" width="1" height="1" fill="#4f4f4f"/><rect x="14" y="18" width="1" height="1" fill="#989898"/><rect x="15" y="18" width="1" height="1" fill="#545454"/><rect x="16" y="18" width="1" height="1" fill="#1b1b1b"/><rect x="17" y="18" width="1" height="1" fill="#303030"/><rect x="18" y="18" width="1" height="1" fill="#080808"/><rect x="19" y="18" width="1" height="1" fill="#252525"/><rect x="22" y="18" width="1" height="1" fill="#222222"/><rect x="23" y="18" width="1" height="1" fill="#666666"/><rect x="24" y="18" width="1" height="1" fill="#888888"/><rect x="25" y="18" width="1" height="1" fill="#3e3e3e"/><rect x="26" y="18" width="1" height="1" fill="#222222"/><rect x="27" y="18" width="1" height="1" fill="#0f0f0f"/><rect x="30" y="18" width="1" height="1" fill="#1f1f1f"/><rect x="33" y="18" width="1" height="1" fill="#464646"/><rect x="34" y="18" width="1" height="1" fill="#6c6c6c"/><rect x="35" y="18" width="1" height="1" fill="#5d5d5d"/><rect x="36" y="18" width="1" height="1" fill="#2a2a2a"/><rect x="37" y="18" width="1" height="1" fill="#727272"/><rect x="38" y="18" width="1" height="1" fill="#a1a1a1"/><rect x="39" y="18" width="1" height="1" fill="#595959"/><rect x="0" y="19" width="1" height="1" fill="#1a1a1a"/><rect x="1" y="19" width="1" height="1" fill="#585858"/><rect x="2" y="19" width="1" height="1" fill="#dadada"/><rect x="4" y="19" width="1" height="1" fill="#3e3e3e"/><rect x="5" y="19" width="1" height="1" fill="#818181"/><rect x="6" y="19" width="1" height="1" fill="#3e3e3e"/><rect x="7" y="19" width="1" height="1" fill="#3a3a3a"/><rect x="8" y="19" width="1" height="1" fill="#4c4c4c"/><rect x="9" y="19" width="1" height="1" fill="#4c4c4c"/><rect x="12" y="19" width="1" height="1" fill="#363636"/><rect x="13" y="19" width="1" height="1" fill="#707070"/><rect x="14" y="19" width="1" height="1" fill="#b8b8b8"/><rect x="15" y="19" width="1" height="1" fill="#929292"/><rect x="16" y="19" width="1" height="1" fill="#4e4e4e"/><rect x="17" y="19" width="1" height="1" fill="#404040"/><rect x="18" y="19" width="1" height="1" fill="#2d2d2d"/><rect x="19" y="19" width="1" height="1" fill="#585858"/><rect x="20" y="19" width="1" height="1" fill="#1b1b1b"/><rect x="22" y="19" width="1" height="1" fill="#4f4f4f"/><rect x="23" y="19" width="1" height="1" fill="#7e7e7e"/><rect x="24" y="19" width="1" height="1" fill="#656565"/><rect x="25" y="19" width="1" height="1" fill="#151515"/><rect x="26" y="19" width="1" height="1" fill="#282828"/><rect x="27" y="19" width="1" height="1" fill="#2a2a2a"/><rect x="28" y="19" width="1" height="1" fill="#343434"/><rect x="31" y="19" width="1" height="1" fill="#dbdbdb"/><rect x="33" y="19" width="1" height="1" fill="#dadada"/><rect x="34" y="19" width="1" height="1" fill="#545454"/><rect x="35" y="19" width="1" height="1" fill="#4d4d4d"/><rect x="36" y="19" width="1" height="1" fill="#3c3c3c"/><rect x="37" y="19" width="1" height="1" fill="#8a8a8a"/><rect x="38" y="19" width="1" height="1" fill="#e6e6e6"/><rect x="39" y="19" width="1" height="1" fill="#6a6a6a"/><rect x="0" y="20" width="1" height="1" fill="#101010"/><rect x="1" y="20" width="1" height="1" fill="#f2f2f2"/><rect x="2" y="20" width="1" height="1" fill="#585858"/><rect x="3" y="20" width="1" height="1" fill="#e6e6e6"/><rect x="4" y="20" width="1" height="1" fill="#7e7e7e"/><rect x="5" y="20" width="1" height="1" fill="#a0a0a0"/><rect x="6" y="20" width="1" height="1" fill="#464646"/><rect x="7" y="20" width="1" height="1" fill="#272727"/><rect x="8" y="20" width="1" height="1" fill="#2f2f2f"/><rect x="9" y="20" width="1" height="1" fill="#0d0d0d"/><rect x="12" y="20" width="1" height="1" fill="#f2f2f2"/><rect x="13" y="20" width="1" height="1" fill="#464646"/><rect x="14" y="20" width="1" height="1" fill="#a1a1a1"/><rect x="15" y="20" width="1" height="1" fill="#979797"/><rect x="16" y="20" width="1" height="1" fill="#393939"/><rect x="17" y="20" width="1" height="1" fill="#444444"/><rect x="18" y="20" width="1" height="1" fill="#868686"/><rect x="19" y="20" width="1" height="1" fill="#737373"/><rect x="20" y="20" width="1" height="1" fill="#181818"/><rect x="21" y="20" width="1" height="1" fill="#202020"/><rect x="22" y="20" width="1" height="1" fill="#545454"/><rect x="23" y="20" width="1" height="1" fill="#828282"/><rect x="24" y="20" width="1" height="1" fill="#6d6d6d"/><rect x="25" y="20" width="1" height="1" fill="#333333"/><rect x="26" y="20" width="1" height="1" fill="#333333"/><rect x="27" y="20" width="1" height="1" fill="#dcdcdc"/><rect x="28" y="20" width="1" height="1" fill="#484848"/><rect x="29" y="20" width="1" height="1" fill="#ededed"/><rect x="30" y="20" width="1" height="1" fill="#212121"/><rect x="31" y="20" width="1" height="1" fill="#191919"/><rect x="32" y="20" width="1" height="1" fill="#303030"/><rect x="33" y="20" width="1" height="1" fill="#0c0c0c"/><rect x="34" y="20" width="1" height="1" fill="#3c3c3c"/><rect x="35" y="20" width="1" height="1" fill="#6b6b6b"/><rect x="36" y="20" width="1" height="1" fill="#767676"/><rect x="37" y="20" width="1" height="1" fill="#535353"/><rect x="38" y="20" width="1" height="1" fill="#323232"/><rect x="39" y="20" width="1" height="1" fill="#171717"/><rect x="0" y="21" width="1" height="1" fill="#727272"/><rect x="1" y="21" width="1" height="1" fill="#868686"/><rect x="2" y="21" width="1" height="1" fill="#545454"/><rect x="3" y="21" width="1" height="1" fill="#333333"/><rect x="4" y="21" width="1" height="1" fill="#828282"/><rect x="5" y="21" width="1" height="1" fill="#787878"/><rect x="6" y="21" width="1" height="1" fill="#161616"/><rect x="7" y="21" width="1" height="1" fill="#181818"/><rect x="8" y="21" width="1" height="1" fill="#5d5d5d"/><rect x="9" y="21" width="1" height="1" fill="#e0e0e0"/><rect x="10" y="21" width="1" height="1" fill="#2f2f2f"/><rect x="13" y="21" width="1" height="1" fill="#4a4a4a"/><rect x="14" y="21" width="1" height="1" fill="#757575"/><rect x="15" y="21" width="1" height="1" fill="#535353"/><rect x="16" y="21" width="1" height="1" fill="#141414"/><rect x="17" y="21" width="1" height="1" fill="#3e3e3e"/><rect x="18" y="21" width="1" height="1" fill="#bebebe"/><rect x="19" y="21" width="1" height="1" fill="#a1a1a1"/><rect x="20" y="21" width="1" height="1" fill="#dfdfdf"/><rect x="22" y="21" width="1" height="1" fill="#2b2b2b"/><rect x="23" y="21" width="1" height="1" fill="#878787"/><rect x="24" y="21" width="1" height="1" fill="#989898"/><rect x="25" y="21" width="1" height="1" fill="#ececec"/><rect x="26" y="21" width="1" height="1" fill="#565656"/><rect x="27" y="21" width="1" height="1" fill="#474747"/><rect x="28" y="21" width="1" height="1" fill="#6d6d6d"/><rect x="29" y="21" width="1" height="1" fill="#3f3f3f"/><rect x="30" y="21" width="1" height="1" fill="#191919"/><rect x="31" y="21" width="1" height="1" fill="#3c3c3c"/><rect x="32" y="21" width="1" height="1" fill="#4e4e4e"/><rect x="33" y="21" width="1" height="1" fill="#e6e6e6"/><rect x="36" y="21" width="1" height="1" fill="#dfdfdf"/><rect x="0" y="22" width="1" height="1" fill="#a7a7a7"/><rect x="1" y="22" width="1" height="1" fill="#a1a1a1"/><rect x="2" y="22" width="1" height="1" fill="#545454"/><rect x="3" y="22" width="1" height="1" fill="#202020"/><rect x="4" y="22" width="1" height="1" fill="#656565"/><rect x="5" y="22" width="1" height="1" fill="#e1e1e1"/><rect x="6" y="22" width="1" height="1" fill="#585858"/><rect x="7" y="22" width="1" height="1" fill="#5a5a5a"/><rect x="8" y="22" width="1" height="1" fill="#949494"/><rect x="9" y="22" width="1" height="1" fill="#8e8e8e"/><rect x="10" y="22" width="1" height="1" fill="#6d6d6d"/><rect x="11" y="22" width="1" height="1" fill="#262626"/><rect x="13" y="22" width="1" height="1" fill="#5f5f5f"/><rect x="14" y="22" width="1" height="1" fill="#7f7f7f"/><rect x="15" y="22" width="1" height="1" fill="#393939"/><rect x="16" y="22" width="1" height="1" fill="#0f0f0f"/><rect x="17" y="22" width="1" height="1" fill="#7a7a7a"/><rect x="18" y="22" width="1" height="1" fill="#d1d1d1"/><rect x="19" y="22" width="1" height="1" fill="#a3a3a3"/><rect x="20" y="22" width="1" height="1" fill="#626262"/><rect x="21" y="22" width="1" height="1" fill="#535353"/><rect x="22" y="22" width="1" height="1" fill="#323232"/><rect x="23" y="22" width="1" height="1" fill="#5c5c5c"/><rect x="24" y="22" width="1" height="1" fill="#979797"/><rect x="25" y="22" width="1" height="1" fill="#b0b0b0"/><rect x="26" y="22" width="1" height="1" fill="#979797"/><rect x="27" y="22" width="1" height="1" fill="#808080"/><rect x="28" y="22" width="1" height="1" fill="#6f6f6f"/><rect x="29" y="22" width="1" height="1" fill="#ededed"/><rect x="31" y="22" width="1" height="1" fill="#4f4f4f"/><rect x="32" y="22" width="1" height="1" fill="#ededed"/><rect x="39" y="22" width="1" height="1" fill="#1e1e1e"/><rect x="0" y="23" width="1" height="1" fill="#6f6f6f"/><rect x="1" y="23" width="1" height="1" fill="#434343"/><rect x="2" y="23" width="1" height="1" fill="#666666"/><rect x="3" y="23" width="1" height="1" fill="#626262"/><rect x="4" y="23" width="1" height="1" fill="#939393"/><rect x="5" y="23" width="1" height="1" fill="#bbbbbb"/><rect x="6" y="23" width="1" height="1" fill="#7a7a7a"/><rect x="7" y="23" width="1" height="1" fill="#1f1f1f"/><rect x="8" y="23" width="1" height="1" fill="#444444"/><rect x="9" y="23" width="1" height="1" fill="#565656"/><rect x="10" y="23" width="1" height="1" fill="#ededed"/><rect x="11" y="23" width="1" height="1" fill="#dadada"/><rect x="12" y="23" width="1" height="1" fill="#313131"/><rect x="13" y="23" width="1" height="1" fill="#313131"/><rect x="14" y="23" width="1" height="1" fill="#272727"/><rect x="15" y="23" width="1" height="1" fill="#0c0c0c"/><rect x="16" y="23" width="1" height="1" fill="#090909"/><rect x="17" y="23" width="1" height="1" fill="#797979"/><rect x="18" y="23" width="1" height="1" fill="#858585"/><rect x="19" y="23" width="1" height="1" fill="#f0f0f0"/><rect x="20" y="23" width="1" height="1" fill="#5d5d5d"/><rect x="21" y="23" width="1" height="1" fill="#717171"/><rect x="22" y="23" width="1" height="1" fill="#ededed"/><rect x="23" y="23" width="1" height="1" fill="#2f2f2f"/><rect x="24" y="23" width="1" height="1" fill="#272727"/><rect x="25" y="23" width="1" height="1" fill="#343434"/><rect x="26" y="23" width="1" height="1" fill="#7a7a7a"/><rect x="27" y="23" width="1" height="1" fill="#a8a8a8"/><rect x="28" y="23" width="1" height="1" fill="#969696"/><rect x="29" y="23" width="1" height="1" fill="#3b3b3b"/><rect x="30" y="23" width="1" height="1" fill="#242424"/><rect x="31" y="23" width="1" height="1" fill="#4b4b4b"/><rect x="32" y="23" width="1" height="1" fill="#575757"/><rect x="33" y="23" width="1" height="1" fill="#0c0c0c"/><rect x="34" y="23" width="1" height="1" fill="#1d1d1d"/><rect x="35" y="23" width="1" height="1" fill="#303030"/><rect x="36" y="23" width="1" height="1" fill="#131313"/><rect x="39" y="23" width="1" height="1" fill="#1d1d1d"/><rect x="0" y="24" width="1" height="1" fill="#303030"/><rect x="2" y="24" width="1" height="1" fill="#505050"/><rect x="3" y="24" width="1" height="1" fill="#929292"/><rect x="4" y="24" width="1" height="1" fill="#b1b1b1"/><rect x="5" y="24" width="1" height="1" fill="#c7c7c7"/><rect x="6" y="24" width="1" height="1" fill="#909090"/><rect x="7" y="24" width="1" height="1" fill="#222222"/><rect x="8" y="24" width="1" height="1" fill="#111111"/><rect x="9" y="24" width="1" height="1" fill="#444444"/><rect x="10" y="24" width="1" height="1" fill="#171717"/><rect x="11" y="24" width="1" height="1" fill="#0e0e0e"/><rect x="12" y="24" width="1" height="1" fill="#404040"/><rect x="13" y="24" width="1" height="1" fill="#1a1a1a"/><rect x="15" y="24" width="1" height="1" fill="#dfdfdf"/><rect x="16" y="24" width="1" height="1" fill="#dedede"/><rect x="17" y="24" width="1" height="1" fill="#4e4e4e"/><rect x="18" y="24" width="1" height="1" fill="#0e0e0e"/><rect x="20" y="24" width="1" height="1" fill="#eaeaea"/><rect x="21" y="24" width="1" height="1" fill="#636363"/><rect x="22" y="24" width="1" height="1" fill="#727272"/><rect x="23" y="24" width="1" height="1" fill="#404040"/><rect x="24" y="24" width="1" height="1" fill="#232323"/><rect x="25" y="24" width="1" height="1" fill="#131313"/><rect x="26" y="24" width="1" height="1" fill="#4b4b4b"/><rect x="27" y="24" width="1" height="1" fill="#999999"/><rect x="28" y="24" width="1" height="1" fill="#dbdbdb"/><rect x="29" y="24" width="1" height="1" fill="#8c8c8c"/><rect x="30" y="24" width="1" height="1" fill="#7e7e7e"/><rect x="31" y="24" width="1" height="1" fill="#858585"/><rect x="32" y="24" width="1" height="1" fill="#8f8f8f"/><rect x="33" y="24" width="1" height="1" fill="#222222"/><rect x="35" y="24" width="1" height="1" fill="#121212"/><rect x="0" y="25" width="1" height="1" fill="#1b1b1b"/><rect x="2" y="25" width="1" height="1" fill="#272727"/><rect x="3" y="25" width="1" height="1" fill="#737373"/><rect x="4" y="25" width="1" height="1" fill="#a3a3a3"/><rect x="5" y="25" width="1" height="1" fill="#979797"/><rect x="6" y="25" width="1" height="1" fill="#5f5f5f"/><rect x="7" y="25" width="1" height="1" fill="#616161"/><rect x="8" y="25" width="1" height="1" fill="#181818"/><rect x="9" y="25" width="1" height="1" fill="#212121"/><rect x="10" y="25" width="1" height="1" fill="#414141"/><rect x="11" y="25" width="1" height="1" fill="#616161"/><rect x="12" y="25" width="1" height="1" fill="#686868"/><rect x="13" y="25" width="1" height="1" fill="#202020"/><rect x="20" y="25" width="1" height="1" fill="#343434"/><rect x="21" y="25" width="1" height="1" fill="#686868"/><rect x="22" y="25" width="1" height="1" fill="#454545"/><rect x="23" y="25" width="1" height="1" fill="#222222"/><rect x="24" y="25" width="1" height="1" fill="#343434"/><rect x="25" y="25" width="1" height="1" fill="#6d6d6d"/><rect x="26" y="25" width="1" height="1" fill="#9e9e9e"/><rect x="27" y="25" width="1" height="1" fill="#9f9f9f"/><rect x="28" y="25" width="1" height="1" fill="#999999"/><rect x="29" y="25" width="1" height="1" fill="#5e5e5e"/><rect x="30" y="25" width="1" height="1" fill="#4f4f4f"/><rect x="31" y="25" width="1" height="1" fill="#5f5f5f"/><rect x="32" y="25" width="1" height="1" fill="#8a8a8a"/><rect x="33" y="25" width="1" height="1" fill="#454545"/><rect x="34" y="25" width="1" height="1" fill="#3d3d3d"/><rect x="35" y="25" width="1" height="1" fill="#313131"/><rect x="38" y="25" width="1" height="1" fill="#0e0e0e"/><rect x="39" y="25" width="1" height="1" fill="#363636"/><rect x="0" y="26" width="1" height="1" fill="#2b2b2b"/><rect x="1" y="26" width="1" height="1" fill="#131313"/><rect x="2" y="26" width="1" height="1" fill="#4b4b4b"/><rect x="3" y="26" width="1" height="1" fill="#888888"/><rect x="4" y="26" width="1" height="1" fill="#aeaeae"/><rect x="5" y="26" width="1" height="1" fill="#727272"/><rect x="6" y="26" width="1" height="1" fill="#373737"/><rect x="7" y="26" width="1" height="1" fill="#606060"/><rect x="10" y="26" width="1" height="1" fill="#585858"/><rect x="11" y="26" width="1" height="1" fill="#838383"/><rect x="12" y="26" width="1" height="1" fill="#797979"/><rect x="13" y="26" width="1" height="1" fill="#2d2d2d"/><rect x="16" y="26" width="1" height="1" fill="#2c2c2c"/><rect x="21" y="26" width="1" height="1" fill="#373737"/><rect x="22" y="26" width="1" height="1" fill="#0e0e0e"/><rect x="23" y="26" width="1" height="1" fill="#121212"/><rect x="24" y="26" width="1" height="1" fill="#383838"/><rect x="25" y="26" width="1" height="1" fill="#565656"/><rect x="26" y="26" width="1" height="1" fill="#a0a0a0"/><rect x="27" y="26" width="1" height="1" fill="#9b9b9b"/><rect x="28" y="26" width="1" height="1" fill="#7d7d7d"/><rect x="29" y="26" width="1" height="1" fill="#3e3e3e"/><rect x="30" y="26" width="1" height="1" fill="#292929"/><rect x="31" y="26" width="1" height="1" fill="#313131"/><rect x="32" y="26" width="1" height="1" fill="#f2f2f2"/><rect x="35" y="26" width="1" height="1" fill="#3e3e3e"/><rect x="36" y="26" width="1" height="1" fill="#5a5a5a"/><rect x="37" y="26" width="1" height="1" fill="#3f3f3f"/><rect x="38" y="26" width="1" height="1" fill="#262626"/><rect x="39" y="26" width="1" height="1" fill="#333333"/><rect x="0" y="27" width="1" height="1" fill="#2d2d2d"/><rect x="1" y="27" width="1" height="1" fill="#262626"/><rect x="2" y="27" width="1" height="1" fill="#e2e2e2"/><rect x="3" y="27" width="1" height="1" fill="#888888"/><rect x="4" y="27" width="1" height="1" fill="#9f9f9f"/><rect x="5" y="27" width="1" height="1" fill="#8a8a8a"/><rect x="6" y="27" width="1" height="1" fill="#767676"/><rect x="7" y="27" width="1" height="1" fill="#606060"/><rect x="8" y="27" width="1" height="1" fill="#0c0c0c"/><rect x="10" y="27" width="1" height="1" fill="#e5e5e5"/><rect x="11" y="27" width="1" height="1" fill="#616161"/><rect x="12" y="27" width="1" height="1" fill="#8c8c8c"/><rect x="13" y="27" width="1" height="1" fill="#535353"/><rect x="14" y="27" width="1" height="1" fill="#1b1b1b"/><rect x="15" y="27" width="1" height="1" fill="#5a5a5a"/><rect x="16" y="27" width="1" height="1" fill="#5f5f5f"/><rect x="17" y="27" width="1" height="1" fill="#0f0f0f"/><rect x="23" y="27" width="1" height="1" fill="#434343"/><rect x="24" y="27" width="1" height="1" fill="#3c3c3c"/><rect x="25" y="27" width="1" height="1" fill="#454545"/><rect x="26" y="27" width="1" height="1" fill="#8b8b8b"/><rect x="27" y="27" width="1" height="1" fill="#949494"/><rect x="28" y="27" width="1" height="1" fill="#939393"/><rect x="29" y="27" width="1" height="1" fill="#464646"/><rect x="30" y="27" width="1" height="1" fill="#3d3d3d"/><rect x="31" y="27" width="1" height="1" fill="#e7e7e7"/><rect x="35" y="27" width="1" height="1" fill="#252525"/><rect x="36" y="27" width="1" height="1" fill="#6f6f6f"/><rect x="37" y="27" width="1" height="1" fill="#707070"/><rect x="38" y="27" width="1" height="1" fill="#696969"/><rect x="39" y="27" width="1" height="1" fill="#595959"/><rect x="1" y="28" width="1" height="1" fill="#484848"/><rect x="2" y="28" width="1" height="1" fill="#3f3f3f"/><rect x="3" y="28" width="1" height="1" fill="#4c4c4c"/><rect x="4" y="28" width="1" height="1" fill="#878787"/><rect x="5" y="28" width="1" height="1" fill="#8c8c8c"/><rect x="6" y="28" width="1" height="1" fill="#6b6b6b"/><rect x="7" y="28" width="1" height="1" fill="#6f6f6f"/><rect x="8" y="28" width="1" height="1" fill="#363636"/><rect x="10" y="28" width="1" height="1" fill="#2c2c2c"/><rect x="11" y="28" width="1" height="1" fill="#404040"/><rect x="12" y="28" width="1" height="1" fill="#7e7e7e"/><rect x="13" y="28" width="1" height="1" fill="#808080"/><rect x="14" y="28" width="1" height="1" fill="#686868"/><rect x="15" y="28" width="1" height="1" fill="#939393"/><rect x="16" y="28" width="1" height="1" fill="#5e5e5e"/><rect x="17" y="28" width="1" height="1" fill="#090909"/><rect x="18" y="28" width="1" height="1" fill="#2a2a2a"/><rect x="19" y="28" width="1" height="1" fill="#dbdbdb"/><rect x="20" y="28" width="1" height="1" fill="#4b4b4b"/><rect x="22" y="28" width="1" height="1" fill="#2e2e2e"/><rect x="23" y="28" width="1" height="1" fill="#363636"/><rect x="24" y="28" width="1" height="1" fill="#0e0e0e"/><rect x="25" y="28" width="1" height="1" fill="#424242"/><rect x="26" y="28" width="1" height="1" fill="#656565"/><rect x="27" y="28" width="1" height="1" fill="#858585"/><rect x="28" y="28" width="1" height="1" fill="#969696"/><rect x="29" y="28" width="1" height="1" fill="#242424"/><rect x="30" y="28" width="1" height="1" fill="#181818"/><rect x="31" y="28" width="1" height="1" fill="#181818"/><rect x="32" y="28" width="1" height="1" fill="#131313"/><rect x="34" y="28" width="1" height="1" fill="#242424"/><rect x="35" y="28" width="1" height="1" fill="#383838"/><rect x="36" y="28" width="1" height="1" fill="#272727"/><rect x="37" y="28" width="1" height="1" fill="#eaeaea"/><rect x="38" y="28" width="1" height="1" fill="#535353"/><rect x="39" y="28" width="1" height="1" fill="#0a0a0a"/><rect x="0" y="29" width="1" height="1" fill="#1a1a1a"/><rect x="1" y="29" width="1" height="1" fill="#646464"/><rect x="2" y="29" width="1" height="1" fill="#111111"/><rect x="3" y="29" width="1" height="1" fill="#181818"/><rect x="4" y="29" width="1" height="1" fill="#616161"/><rect x="5" y="29" width="1" height="1" fill="#f1f1f1"/><rect x="6" y="29" width="1" height="1" fill="#242424"/><rect x="7" y="29" width="1" height="1" fill="#373737"/><rect x="10" y="29" width="1" height="1" fill="#0b0b0b"/><rect x="12" y="29" width="1" height="1" fill="#161616"/><rect x="13" y="29" width="1" height="1" fill="#5a5a5a"/><rect x="14" y="29" width="1" height="1" fill="#585858"/><rect x="15" y="29" width="1" height="1" fill="#6b6b6b"/><rect x="16" y="29" width="1" height="1" fill="#5a5a5a"/><rect x="17" y="29" width="1" height="1" fill="#393939"/><rect x="18" y="29" width="1" height="1" fill="#848484"/><rect x="19" y="29" width="1" height="1" fill="#797979"/><rect x="20" y="29" width="1" height="1" fill="#e9e9e9"/><rect x="21" y="29" width="1" height="1" fill="#222222"/><rect x="22" y="29" width="1" height="1" fill="#5e5e5e"/><rect x="23" y="29" width="1" height="1" fill="#1a1a1a"/><rect x="25" y="29" width="1" height="1" fill="#1c1c1c"/><rect x="26" y="29" width="1" height="1" fill="#414141"/><rect x="27" y="29" width="1" height="1" fill="#a6a6a6"/><rect x="28" y="29" width="1" height="1" fill="#b5b5b5"/><rect x="29" y="29" width="1" height="1" fill="#2d2d2d"/><rect x="31" y="29" width="1" height="1" fill="#3b3b3b"/><rect x="32" y="29" width="1" height="1" fill="#767676"/><rect x="33" y="29" width="1" height="1" fill="#333333"/><rect x="34" y="29" width="1" height="1" fill="#202020"/><rect x="35" y="29" width="1" height="1" fill="#0c0c0c"/><rect x="36" y="29" width="1" height="1" fill="#212121"/><rect x="37" y="29" width="1" height="1" fill="#545454"/><rect x="38" y="29" width="1" height="1" fill="#181818"/><rect x="0" y="30" width="1" height="1" fill="#646464"/><rect x="1" y="30" width="1" height="1" fill="#6f6f6f"/><rect x="2" y="30" width="1" height="1" fill="#f0f0f0"/><rect x="4" y="30" width="1" height="1" fill="#232323"/><rect x="5" y="30" width="1" height="1" fill="#686868"/><rect x="6" y="30" width="1" height="1" fill="#2f2f2f"/><rect x="10" y="30" width="1" height="1" fill="#141414"/><rect x="13" y="30" width="1" height="1" fill="#262626"/><rect x="14" y="30" width="1" height="1" fill="#323232"/><rect x="15" y="30" width="1" height="1" fill="#2a2a2a"/><rect x="16" y="30" width="1" height="1" fill="#2f2f2f"/><rect x="17" y="30" width="1" height="1" fill="#636363"/><rect x="18" y="30" width="1" height="1" fill="#989898"/><rect x="19" y="30" width="1" height="1" fill="#5e5e5e"/><rect x="20" y="30" width="1" height="1" fill="#161616"/><rect x="21" y="30" width="1" height="1" fill="#535353"/><rect x="22" y="30" width="1" height="1" fill="#6c6c6c"/><rect x="26" y="30" width="1" height="1" fill="#252525"/><rect x="27" y="30" width="1" height="1" fill="#b4b4b4"/><rect x="28" y="30" width="1" height="1" fill="#d4d4d4"/><rect x="29" y="30" width="1" height="1" fill="#686868"/><rect x="30" y="30" width="1" height="1" fill="#3f3f3f"/><rect x="31" y="30" width="1" height="1" fill="#7e7e7e"/><rect x="32" y="30" width="1" height="1" fill="#9b9b9b"/><rect x="33" y="30" width="1" height="1" fill="#585858"/><rect x="34" y="30" width="1" height="1" fill="#303030"/><rect x="35" y="30" width="1" height="1" fill="#0a0a0a"/><rect x="36" y="30" width="1" height="1" fill="#2a2a2a"/><rect x="37" y="30" width="1" height="1" fill="#1a1a1a"/><rect x="39" y="30" width="1" height="1" fill="#3d3d3d"/><rect x="0" y="31" width="1" height="1" fill="#eeeeee"/><rect x="1" y="31" width="1" height="1" fill="#676767"/><rect x="2" y="31" width="1" height="1" fill="#f1f1f1"/><rect x="3" y="31" width="1" height="1" fill="#0d0d0d"/><rect x="5" y="31" width="1" height="1" fill="#5d5d5d"/><rect x="6" y="31" width="1" height="1" fill="#5e5e5e"/><rect x="10" y="31" width="1" height="1" fill="#1e1e1e"/><rect x="11" y="31" width="1" height="1" fill="#202020"/><rect x="13" y="31" width="1" height="1" fill="#494949"/><rect x="14" y="31" width="1" height="1" fill="#616161"/><rect x="15" y="31" width="1" height="1" fill="#404040"/><rect x="16" y="31" width="1" height="1" fill="#2e2e2e"/><rect x="17" y="31" width="1" height="1" fill="#dddddd"/><rect x="18" y="31" width="1" height="1" fill="#424242"/><rect x="19" y="31" width="1" height="1" fill="#242424"/><rect x="25" y="31" width="1" height="1" fill="#161616"/><rect x="26" y="31" width="1" height="1" fill="#616161"/><rect x="27" y="31" width="1" height="1" fill="#dcdcdc"/><rect x="28" y="31" width="1" height="1" fill="#dedede"/><rect x="29" y="31" width="1" height="1" fill="#8b8b8b"/><rect x="30" y="31" width="1" height="1" fill="#717171"/><rect x="31" y="31" width="1" height="1" fill="#7a7a7a"/><rect x="32" y="31" width="1" height="1" fill="#7b7b7b"/><rect x="33" y="31" width="1" height="1" fill="#616161"/><rect x="34" y="31" width="1" height="1" fill="#535353"/><rect x="35" y="31" width="1" height="1" fill="#191919"/><rect x="36" y="31" width="1" height="1" fill="#414141"/><rect x="37" y="31" width="1" height="1" fill="#090909"/><rect x="39" y="31" width="1" height="1" fill="#3d3d3d"/><rect x="0" y="32" width="1" height="1" fill="#2b2b2b"/><rect x="1" y="32" width="1" height="1" fill="#5c5c5c"/><rect x="2" y="32" width="1" height="1" fill="#616161"/><rect x="4" y="32" width="1" height="1" fill="#e7e7e7"/><rect x="5" y="32" width="1" height="1" fill="#0e0e0e"/><rect x="6" y="32" width="1" height="1" fill="#2b2b2b"/><rect x="7" y="32" width="1" height="1" fill="#171717"/><rect x="8" y="32" width="1" height="1" fill="#333333"/><rect x="11" y="32" width="1" height="1" fill="#dfdfdf"/><rect x="12" y="32" width="1" height="1" fill="#393939"/><rect x="13" y="32" width="1" height="1" fill="#272727"/><rect x="14" y="32" width="1" height="1" fill="#4b4b4b"/><rect x="15" y="32" width="1" height="1" fill="#666666"/><rect x="16" y="32" width="1" height="1" fill="#444444"/><rect x="18" y="32" width="1" height="1" fill="#252525"/><rect x="19" y="32" width="1" height="1" fill="#404040"/><rect x="23" y="32" width="1" height="1" fill="#f0f0f0"/><rect x="25" y="32" width="1" height="1" fill="#252525"/><rect x="26" y="32" width="1" height="1" fill="#9c9c9c"/><rect x="27" y="32" width="1" height="1" fill="#d4d4d4"/><rect x="28" y="32" width="1" height="1" fill="#b2b2b2"/><rect x="29" y="32" width="1" height="1" fill="#515151"/><rect x="30" y="32" width="1" height="1" fill="#292929"/><rect x="32" y="32" width="1" height="1" fill="#ebebeb"/><rect x="33" y="32" width="1" height="1" fill="#313131"/><rect x="34" y="32" width="1" height="1" fill="#424242"/><rect x="35" y="32" width="1" height="1" fill="#111111"/><rect x="36" y="32" width="1" height="1" fill="#1b1b1b"/><rect x="37" y="32" width="1" height="1" fill="#0d0d0d"/><rect x="38" y="32" width="1" height="1" fill="#151515"/><rect x="39" y="32" width="1" height="1" fill="#1b1b1b"/><rect x="1" y="33" width="1" height="1" fill="#515151"/><rect x="2" y="33" width="1" height="1" fill="#7d7d7d"/><rect x="3" y="33" width="1" height="1" fill="#dfdfdf"/><rect x="4" y="33" width="1" height="1" fill="#434343"/><rect x="5" y="33" width="1" height="1" fill="#2f2f2f"/><rect x="7" y="33" width="1" height="1" fill="#181818"/><rect x="8" y="33" width="1" height="1" fill="#ececec"/><rect x="9" y="33" width="1" height="1" fill="#393939"/><rect x="10" y="33" width="1" height="1" fill="#1a1a1a"/><rect x="11" y="33" width="1" height="1" fill="#414141"/><rect x="12" y="33" width="1" height="1" fill="#5a5a5a"/><rect x="13" y="33" width="1" height="1" fill="#1c1c1c"/><rect x="14" y="33" width="1" height="1" fill="#545454"/><rect x="15" y="33" width="1" height="1" fill="#474747"/><rect x="16" y="33" width="1" height="1" fill="#393939"/><rect x="18" y="33" width="1" height="1" fill="#4a4a4a"/><rect x="19" y="33" width="1" height="1" fill="#474747"/><rect x="23" y="33" width="1" height="1" fill="#393939"/><rect x="25" y="33" width="1" height="1" fill="#171717"/><rect x="26" y="33" width="1" height="1" fill="#7f7f7f"/><rect x="27" y="33" width="1" height="1" fill="#787878"/><rect x="28" y="33" width="1" height="1" fill="#616161"/><rect x="29" y="33" width="1" height="1" fill="#292929"/><rect x="30" y="33" width="1" height="1" fill="#f0f0f0"/><rect x="33" y="33" width="1" height="1" fill="#0a0a0a"/><rect x="34" y="33" width="1" height="1" fill="#efefef"/><rect x="35" y="33" width="1" height="1" fill="#272727"/><rect x="37" y="33" width="1" height="1" fill="#121212"/><rect x="38" y="33" width="1" height="1" fill="#2e2e2e"/><rect x="39" y="33" width="1" height="1" fill="#111111"/><rect x="0" y="34" width="1" height="1" fill="#090909"/><rect x="1" y="34" width="1" height="1" fill="#494949"/><rect x="2" y="34" width="1" height="1" fill="#7f7f7f"/><rect x="3" y="34" width="1" height="1" fill="#626262"/><rect x="4" y="34" width="1" height="1" fill="#505050"/><rect x="5" y="34" width="1" height="1" fill="#4a4a4a"/><rect x="6" y="34" width="1" height="1" fill="#f2f2f2"/><rect x="8" y="34" width="1" height="1" fill="#4c4c4c"/><rect x="9" y="34" width="1" height="1" fill="#565656"/><rect x="10" y="34" width="1" height="1" fill="#0f0f0f"/><rect x="12" y="34" width="1" height="1" fill="#303030"/><rect x="13" y="34" width="1" height="1" fill="#131313"/><rect x="14" y="34" width="1" height="1" fill="#383838"/><rect x="15" y="34" width="1" height="1" fill="#1a1a1a"/><rect x="16" y="34" width="1" height="1" fill="#0b0b0b"/><rect x="18" y="34" width="1" height="1" fill="#636363"/><rect x="19" y="34" width="1" height="1" fill="#676767"/><rect x="20" y="34" width="1" height="1" fill="#333333"/><rect x="21" y="34" width="1" height="1" fill="#4e4e4e"/><rect x="22" y="34" width="1" height="1" fill="#6b6b6b"/><rect x="23" y="34" width="1" height="1" fill="#777777"/><rect x="26" y="34" width="1" height="1" fill="#626262"/><rect x="27" y="34" width="1" height="1" fill="#2b2b2b"/><rect x="28" y="34" width="1" height="1" fill="#1f1f1f"/><rect x="29" y="34" width="1" height="1" fill="#dddddd"/><rect x="30" y="34" width="1" height="1" fill="#2b2b2b"/><rect x="34" y="34" width="1" height="1" fill="#545454"/><rect x="35" y="34" width="1" height="1" fill="#575757"/><rect x="36" y="34" width="1" height="1" fill="#3c3c3c"/><rect x="37" y="34" width="1" height="1" fill="#7d7d7d"/><rect x="38" y="34" width="1" height="1" fill="#7d7d7d"/><rect x="39" y="34" width="1" height="1" fill="#333333"/><rect x="0" y="35" width="1" height="1" fill="#414141"/><rect x="1" y="35" width="1" height="1" fill="#1d1d1d"/><rect x="2" y="35" width="1" height="1" fill="#3d3d3d"/><rect x="3" y="35" width="1" height="1" fill="#5b5b5b"/><rect x="4" y="35" width="1" height="1" fill="#414141"/><rect x="5" y="35" width="1" height="1" fill="#1f1f1f"/><rect x="9" y="35" width="1" height="1" fill="#1e1e1e"/><rect x="12" y="35" width="1" height="1" fill="#212121"/><rect x="15" y="35" width="1" height="1" fill="#3e3e3e"/><rect x="16" y="35" width="1" height="1" fill="#0e0e0e"/><rect x="18" y="35" width="1" height="1" fill="#2c2c2c"/><rect x="19" y="35" width="1" height="1" fill="#151515"/><rect x="20" y="35" width="1" height="1" fill="#0d0d0d"/><rect x="21" y="35" width="1" height="1" fill="#585858"/><rect x="22" y="35" width="1" height="1" fill="#434343"/><rect x="23" y="35" width="1" height="1" fill="#414141"/><rect x="25" y="35" width="1" height="1" fill="#181818"/><rect x="26" y="35" width="1" height="1" fill="#6a6a6a"/><rect x="27" y="35" width="1" height="1" fill="#171717"/><rect x="29" y="35" width="1" height="1" fill="#2f2f2f"/><rect x="30" y="35" width="1" height="1" fill="#343434"/><rect x="31" y="35" width="1" height="1" fill="#090909"/><rect x="34" y="35" width="1" height="1" fill="#131313"/><rect x="35" y="35" width="1" height="1" fill="#4d4d4d"/><rect x="36" y="35" width="1" height="1" fill="#828282"/><rect x="37" y="35" width="1" height="1" fill="#8f8f8f"/><rect x="38" y="35" width="1" height="1" fill="#6c6c6c"/><rect x="39" y="35" width="1" height="1" fill="#666666"/><rect x="0" y="36" width="1" height="1" fill="#ebebeb"/><rect x="1" y="36" width="1" height="1" fill="#363636"/><rect x="2" y="36" width="1" height="1" fill="#3d3d3d"/><rect x="3" y="36" width="1" height="1" fill="#141414"/><rect x="4" y="36" width="1" height="1" fill="#111111"/><rect x="6" y="36" width="1" height="1" fill="#0c0c0c"/><rect x="7" y="36" width="1" height="1" fill="#404040"/><rect x="8" y="36" width="1" height="1" fill="#323232"/><rect x="9" y="36" width="1" height="1" fill="#1b1b1b"/><rect x="12" y="36" width="1" height="1" fill="#424242"/><rect x="13" y="36" width="1" height="1" fill="#323232"/><rect x="14" y="36" width="1" height="1" fill="#1d1d1d"/><rect x="15" y="36" width="1" height="1" fill="#545454"/><rect x="16" y="36" width="1" height="1" fill="#333333"/><rect x="17" y="36" width="1" height="1" fill="#5b5b5b"/><rect x="18" y="36" width="1" height="1" fill="#5a5a5a"/><rect x="19" y="36" width="1" height="1" fill="#363636"/><rect x="20" y="36" width="1" height="1" fill="#0a0a0a"/><rect x="21" y="36" width="1" height="1" fill="#2a2a2a"/><rect x="22" y="36" width="1" height="1" fill="#1b1b1b"/><rect x="25" y="36" width="1" height="1" fill="#4b4b4b"/><rect x="26" y="36" width="1" height="1" fill="#757575"/><rect x="29" y="36" width="1" height="1" fill="#494949"/><rect x="30" y="36" width="1" height="1" fill="#464646"/><rect x="31" y="36" width="1" height="1" fill="#282828"/><rect x="32" y="36" width="1" height="1" fill="#4e4e4e"/><rect x="33" y="36" width="1" height="1" fill="#191919"/><rect x="35" y="36" width="1" height="1" fill="#232323"/><rect x="36" y="36" width="1" height="1" fill="#505050"/><rect x="37" y="36" width="1" height="1" fill="#282828"/><rect x="1" y="37" width="1" height="1" fill="#424242"/><rect x="2" y="37" width="1" height="1" fill="#353535"/><rect x="6" y="37" width="1" height="1" fill="#4c4c4c"/><rect x="7" y="37" width="1" height="1" fill="#4a4a4a"/><rect x="8" y="37" width="1" height="1" fill="#535353"/><rect x="9" y="37" width="1" height="1" fill="#414141"/><rect x="11" y="37" width="1" height="1" fill="#e1e1e1"/><rect x="12" y="37" width="1" height="1" fill="#535353"/><rect x="13" y="37" width="1" height="1" fill="#434343"/><rect x="14" y="37" width="1" height="1" fill="#707070"/><rect x="15" y="37" width="1" height="1" fill="#5d5d5d"/><rect x="16" y="37" width="1" height="1" fill="#565656"/><rect x="17" y="37" width="1" height="1" fill="#828282"/><rect x="18" y="37" width="1" height="1" fill="#4b4b4b"/><rect x="19" y="37" width="1" height="1" fill="#474747"/><rect x="20" y="37" width="1" height="1" fill="#ececec"/><rect x="21" y="37" width="1" height="1" fill="#1f1f1f"/><rect x="25" y="37" width="1" height="1" fill="#636363"/><rect x="26" y="37" width="1" height="1" fill="#868686"/><rect x="29" y="37" width="1" height="1" fill="#4a4a4a"/><rect x="30" y="37" width="1" height="1" fill="#949494"/><rect x="31" y="37" width="1" height="1" fill="#939393"/><rect x="32" y="37" width="1" height="1" fill="#949494"/><rect x="33" y="37" width="1" height="1" fill="#4c4c4c"/><rect x="35" y="37" width="1" height="1" fill="#ededed"/><rect x="36" y="37" width="1" height="1" fill="#222222"/><rect x="37" y="37" width="1" height="1" fill="#151515"/><rect x="1" y="38" width="1" height="1" fill="#3b3b3b"/><rect x="2" y="38" width="1" height="1" fill="#575757"/><rect x="3" y="38" width="1" height="1" fill="#dadada"/><rect x="4" y="38" width="1" height="1" fill="#151515"/><rect x="5" y="38" width="1" height="1" fill="#e1e1e1"/><rect x="6" y="38" width="1" height="1" fill="#505050"/><rect x="7" y="38" width="1" height="1" fill="#1b1b1b"/><rect x="8" y="38" width="1" height="1" fill="#272727"/><rect x="9" y="38" width="1" height="1" fill="#343434"/><rect x="10" y="38" width="1" height="1" fill="#1a1a1a"/><rect x="11" y="38" width="1" height="1" fill="#515151"/><rect x="12" y="38" width="1" height="1" fill="#323232"/><rect x="13" y="38" width="1" height="1" fill="#434343"/><rect x="14" y="38" width="1" height="1" fill="#9a9a9a"/><rect x="15" y="38" width="1" height="1" fill="#6b6b6b"/><rect x="16" y="38" width="1" height="1" fill="#4a4a4a"/><rect x="17" y="38" width="1" height="1" fill="#575757"/><rect x="18" y="38" width="1" height="1" fill="#343434"/><rect x="19" y="38" width="1" height="1" fill="#1a1a1a"/><rect x="20" y="38" width="1" height="1" fill="#323232"/><rect x="21" y="38" width="1" height="1" fill="#414141"/><rect x="22" y="38" width="1" height="1" fill="#1c1c1c"/><rect x="23" y="38" width="1" height="1" fill="#080808"/><rect x="25" y="38" width="1" height="1" fill="#141414"/><rect x="26" y="38" width="1" height="1" fill="#505050"/><rect x="28" y="38" width="1" height="1" fill="#161616"/><rect x="29" y="38" width="1" height="1" fill="#202020"/><rect x="30" y="38" width="1" height="1" fill="#e0e0e0"/><rect x="31" y="38" width="1" height="1" fill="#585858"/><rect x="32" y="38" width="1" height="1" fill="#656565"/><rect x="33" y="38" width="1" height="1" fill="#2a2a2a"/><rect x="0" y="39" width="1" height="1" fill="#4d4d4d"/><rect x="1" y="39" width="1" height="1" fill="#5d5d5d"/><rect x="2" y="39" width="1" height="1" fill="#252525"/><rect x="4" y="39" width="1" height="1" fill="#1a1a1a"/><rect x="5" y="39" width="1" height="1" fill="#717171"/><rect x="6" y="39" width="1" height="1" fill="#3a3a3a"/><rect x="7" y="39" width="1" height="1" fill="#141414"/><rect x="8" y="39" width="1" height="1" fill="#272727"/><rect x="9" y="39" width="1" height="1" fill="#383838"/><rect x="10" y="39" width="1" height="1" fill="#333333"/><rect x="11" y="39" width="1" height="1" fill="#434343"/><rect x="12" y="39" width="1" height="1" fill="#2e2e2e"/><rect x="13" y="39" width="1" height="1" fill="#3e3e3e"/><rect x="14" y="39" width="1" height="1" fill="#9d9d9d"/><rect x="15" y="39" width="1" height="1" fill="#878787"/><rect x="16" y="39" width="1" height="1" fill="#1d1d1d"/><rect x="17" y="39" width="1" height="1" fill="#181818"/><rect x="18" y="39" width="1" height="1" fill="#3c3c3c"/><rect x="19" y="39" width="1" height="1" fill="#181818"/><rect x="20" y="39" width="1" height="1" fill="#e8e8e8"/><rect x="21" y="39" width="1" height="1" fill="#2d2d2d"/><rect x="22" y="39" width="1" height="1" fill="#1e1e1e"/><rect x="28" y="39" width="1" height="1" fill="#212121"/><rect x="29" y="39" width="1" height="1" fill="#3b3b3b"/><rect x="30" y="39" width="1" height="1" fill="#4b4b4b"/><rect x="31" y="39" width="1" height="1" fill="#2d2d2d"/><rect x="32" y="39" width="1" height="1" fill="#6a6a6a"/><rect x="33" y="39" width="1" height="1" fill="#636363"/></pattern>
<pattern id="afmn" width="24" height="24" patternUnits="userSpaceOnUse"><rect x="0.0" y="0.0" width="0.8" height="0.8" fill="#000" fill-opacity="0.21"/><rect x="0.0" y="1.6" width="0.8" height="0.8" fill="#000" fill-opacity="0.20"/><rect x="0.0" y="3.2" width="0.8" height="0.8" fill="#fff" fill-opacity="0.13"/><rect x="0.0" y="5.6" width="0.8" height="0.8" fill="#fff" fill-opacity="0.10"/><rect x="0.0" y="6.4" width="0.8" height="0.8" fill="#fff" fill-opacity="0.17"/><rect x="0.0" y="8.0" width="0.8" height="0.8" fill="#fff" fill-opacity="0.20"/><rect x="0.0" y="11.2" width="0.8" height="0.8" fill="#fff" fill-opacity="0.05"/><rect x="0.0" y="12.8" width="0.8" height="0.8" fill="#fff" fill-opacity="0.08"/><rect x="0.0" y="13.6" width="0.8" height="0.8" fill="#fff" fill-opacity="0.05"/><rect x="0.0" y="14.4" width="0.8" height="0.8" fill="#000" fill-opacity="0.19"/><rect x="0.0" y="17.6" width="0.8" height="0.8" fill="#000" fill-opacity="0.23"/><rect x="0.0" y="18.4" width="0.8" height="0.8" fill="#000" fill-opacity="0.16"/><rect x="0.0" y="22.4" width="0.8" height="0.8" fill="#000" fill-opacity="0.15"/><rect x="0.0" y="23.2" width="0.8" height="0.8" fill="#fff" fill-opacity="0.06"/><rect x="0.8" y="0.8" width="0.8" height="0.8" fill="#000" fill-opacity="0.27"/><rect x="0.8" y="1.6" width="0.8" height="0.8" fill="#000" fill-opacity="0.29"/><rect x="0.8" y="3.2" width="0.8" height="0.8" fill="#fff" fill-opacity="0.08"/><rect x="0.8" y="4.8" width="0.8" height="0.8" fill="#000" fill-opacity="0.30"/><rect x="0.8" y="5.6" width="0.8" height="0.8" fill="#000" fill-opacity="0.11"/><rect x="0.8" y="8.0" width="0.8" height="0.8" fill="#fff" fill-opacity="0.06"/><rect x="0.8" y="8.8" width="0.8" height="0.8" fill="#000" fill-opacity="0.29"/><rect x="0.8" y="10.4" width="0.8" height="0.8" fill="#fff" fill-opacity="0.09"/><rect x="0.8" y="11.2" width="0.8" height="0.8" fill="#fff" fill-opacity="0.06"/><rect x="0.8" y="12.8" width="0.8" height="0.8" fill="#fff" fill-opacity="0.13"/><rect x="0.8" y="13.6" width="0.8" height="0.8" fill="#000" fill-opacity="0.14"/><rect x="0.8" y="15.2" width="0.8" height="0.8" fill="#fff" fill-opacity="0.15"/><rect x="0.8" y="16.0" width="0.8" height="0.8" fill="#fff" fill-opacity="0.11"/><rect x="0.8" y="16.8" width="0.8" height="0.8" fill="#fff" fill-opacity="0.09"/><rect x="0.8" y="19.2" width="0.8" height="0.8" fill="#000" fill-opacity="0.28"/><rect x="0.8" y="20.0" width="0.8" height="0.8" fill="#fff" fill-opacity="0.11"/><rect x="0.8" y="22.4" width="0.8" height="0.8" fill="#fff" fill-opacity="0.20"/><rect x="0.8" y="23.2" width="0.8" height="0.8" fill="#fff" fill-opacity="0.09"/><rect x="1.6" y="0.8" width="0.8" height="0.8" fill="#000" fill-opacity="0.16"/><rect x="1.6" y="1.6" width="0.8" height="0.8" fill="#fff" fill-opacity="0.06"/><rect x="1.6" y="3.2" width="0.8" height="0.8" fill="#fff" fill-opacity="0.14"/><rect x="1.6" y="4.0" width="0.8" height="0.8" fill="#000" fill-opacity="0.19"/><rect x="1.6" y="5.6" width="0.8" height="0.8" fill="#000" fill-opacity="0.21"/><rect x="1.6" y="7.2" width="0.8" height="0.8" fill="#fff" fill-opacity="0.07"/><rect x="1.6" y="9.6" width="0.8" height="0.8" fill="#fff" fill-opacity="0.08"/><rect x="1.6" y="12.0" width="0.8" height="0.8" fill="#fff" fill-opacity="0.19"/><rect x="1.6" y="14.4" width="0.8" height="0.8" fill="#000" fill-opacity="0.12"/><rect x="1.6" y="15.2" width="0.8" height="0.8" fill="#fff" fill-opacity="0.19"/><rect x="1.6" y="16.0" width="0.8" height="0.8" fill="#fff" fill-opacity="0.16"/><rect x="1.6" y="16.8" width="0.8" height="0.8" fill="#fff" fill-opacity="0.17"/><rect x="1.6" y="18.4" width="0.8" height="0.8" fill="#fff" fill-opacity="0.08"/><rect x="1.6" y="20.0" width="0.8" height="0.8" fill="#fff" fill-opacity="0.08"/><rect x="1.6" y="23.2" width="0.8" height="0.8" fill="#fff" fill-opacity="0.19"/><rect x="2.4" y="0.0" width="0.8" height="0.8" fill="#fff" fill-opacity="0.05"/><rect x="2.4" y="0.8" width="0.8" height="0.8" fill="#fff" fill-opacity="0.12"/><rect x="2.4" y="1.6" width="0.8" height="0.8" fill="#fff" fill-opacity="0.08"/><rect x="2.4" y="2.4" width="0.8" height="0.8" fill="#000" fill-opacity="0.21"/><rect x="2.4" y="3.2" width="0.8" height="0.8" fill="#fff" fill-opacity="0.10"/><rect x="2.4" y="8.0" width="0.8" height="0.8" fill="#fff" fill-opacity="0.06"/><rect x="2.4" y="8.8" width="0.8" height="0.8" fill="#fff" fill-opacity="0.19"/><rect x="2.4" y="11.2" width="0.8" height="0.8" fill="#fff" fill-opacity="0.15"/><rect x="2.4" y="12.0" width="0.8" height="0.8" fill="#000" fill-opacity="0.25"/><rect x="2.4" y="12.8" width="0.8" height="0.8" fill="#000" fill-opacity="0.30"/><rect x="2.4" y="13.6" width="0.8" height="0.8" fill="#fff" fill-opacity="0.13"/><rect x="2.4" y="19.2" width="0.8" height="0.8" fill="#000" fill-opacity="0.24"/><rect x="2.4" y="21.6" width="0.8" height="0.8" fill="#000" fill-opacity="0.26"/><rect x="3.2" y="0.8" width="0.8" height="0.8" fill="#000" fill-opacity="0.22"/><rect x="3.2" y="2.4" width="0.8" height="0.8" fill="#fff" fill-opacity="0.15"/><rect x="3.2" y="5.6" width="0.8" height="0.8" fill="#000" fill-opacity="0.25"/><rect x="3.2" y="7.2" width="0.8" height="0.8" fill="#000" fill-opacity="0.27"/><rect x="3.2" y="8.0" width="0.8" height="0.8" fill="#fff" fill-opacity="0.16"/><rect x="3.2" y="8.8" width="0.8" height="0.8" fill="#fff" fill-opacity="0.14"/><rect x="3.2" y="9.6" width="0.8" height="0.8" fill="#000" fill-opacity="0.15"/><rect x="3.2" y="11.2" width="0.8" height="0.8" fill="#000" fill-opacity="0.22"/><rect x="3.2" y="12.8" width="0.8" height="0.8" fill="#fff" fill-opacity="0.05"/><rect x="3.2" y="13.6" width="0.8" height="0.8" fill="#000" fill-opacity="0.24"/><rect x="3.2" y="14.4" width="0.8" height="0.8" fill="#fff" fill-opacity="0.08"/><rect x="3.2" y="16.8" width="0.8" height="0.8" fill="#000" fill-opacity="0.28"/><rect x="3.2" y="17.6" width="0.8" height="0.8" fill="#000" fill-opacity="0.23"/><rect x="3.2" y="18.4" width="0.8" height="0.8" fill="#fff" fill-opacity="0.11"/><rect x="3.2" y="21.6" width="0.8" height="0.8" fill="#000" fill-opacity="0.22"/><rect x="3.2" y="22.4" width="0.8" height="0.8" fill="#000" fill-opacity="0.13"/><rect x="3.2" y="23.2" width="0.8" height="0.8" fill="#000" fill-opacity="0.27"/><rect x="4.0" y="2.4" width="0.8" height="0.8" fill="#fff" fill-opacity="0.08"/><rect x="4.0" y="3.2" width="0.8" height="0.8" fill="#000" fill-opacity="0.16"/><rect x="4.0" y="4.0" width="0.8" height="0.8" fill="#fff" fill-opacity="0.11"/><rect x="4.0" y="5.6" width="0.8" height="0.8" fill="#000" fill-opacity="0.16"/><rect x="4.0" y="8.0" width="0.8" height="0.8" fill="#000" fill-opacity="0.11"/><rect x="4.0" y="8.8" width="0.8" height="0.8" fill="#fff" fill-opacity="0.18"/><rect x="4.0" y="9.6" width="0.8" height="0.8" fill="#fff" fill-opacity="0.16"/><rect x="4.0" y="11.2" width="0.8" height="0.8" fill="#000" fill-opacity="0.26"/><rect x="4.0" y="12.0" width="0.8" height="0.8" fill="#fff" fill-opacity="0.07"/><rect x="4.0" y="12.8" width="0.8" height="0.8" fill="#000" fill-opacity="0.10"/><rect x="4.0" y="14.4" width="0.8" height="0.8" fill="#fff" fill-opacity="0.07"/><rect x="4.0" y="15.2" width="0.8" height="0.8" fill="#fff" fill-opacity="0.14"/><rect x="4.0" y="16.0" width="0.8" height="0.8" fill="#000" fill-opacity="0.23"/><rect x="4.0" y="20.0" width="0.8" height="0.8" fill="#fff" fill-opacity="0.12"/><rect x="4.0" y="20.8" width="0.8" height="0.8" fill="#fff" fill-opacity="0.05"/><rect x="4.0" y="21.6" width="0.8" height="0.8" fill="#000" fill-opacity="0.24"/><rect x="4.0" y="22.4" width="0.8" height="0.8" fill="#fff" fill-opacity="0.09"/><rect x="4.0" y="23.2" width="0.8" height="0.8" fill="#000" fill-opacity="0.24"/><rect x="4.8" y="2.4" width="0.8" height="0.8" fill="#000" fill-opacity="0.26"/><rect x="4.8" y="4.0" width="0.8" height="0.8" fill="#fff" fill-opacity="0.19"/><rect x="4.8" y="5.6" width="0.8" height="0.8" fill="#fff" fill-opacity="0.12"/><rect x="4.8" y="8.0" width="0.8" height="0.8" fill="#000" fill-opacity="0.21"/><rect x="4.8" y="11.2" width="0.8" height="0.8" fill="#000" fill-opacity="0.23"/><rect x="4.8" y="12.0" width="0.8" height="0.8" fill="#fff" fill-opacity="0.16"/><rect x="4.8" y="15.2" width="0.8" height="0.8" fill="#fff" fill-opacity="0.18"/><rect x="4.8" y="19.2" width="0.8" height="0.8" fill="#000" fill-opacity="0.28"/><rect x="4.8" y="20.8" width="0.8" height="0.8" fill="#000" fill-opacity="0.12"/><rect x="4.8" y="21.6" width="0.8" height="0.8" fill="#000" fill-opacity="0.21"/><rect x="4.8" y="23.2" width="0.8" height="0.8" fill="#000" fill-opacity="0.11"/><rect x="5.6" y="0.8" width="0.8" height="0.8" fill="#fff" fill-opacity="0.17"/><rect x="5.6" y="1.6" width="0.8" height="0.8" fill="#fff" fill-opacity="0.10"/><rect x="5.6" y="3.2" width="0.8" height="0.8" fill="#fff" fill-opacity="0.07"/><rect x="5.6" y="8.0" width="0.8" height="0.8" fill="#000" fill-opacity="0.29"/><rect x="5.6" y="8.8" width="0.8" height="0.8" fill="#fff" fill-opacity="0.08"/><rect x="5.6" y="10.4" width="0.8" height="0.8" fill="#fff" fill-opacity="0.16"/><rect x="5.6" y="14.4" width="0.8" height="0.8" fill="#000" fill-opacity="0.18"/><rect x="5.6" y="16.8" width="0.8" height="0.8" fill="#fff" fill-opacity="0.18"/><rect x="5.6" y="20.0" width="0.8" height="0.8" fill="#fff" fill-opacity="0.13"/><rect x="5.6" y="22.4" width="0.8" height="0.8" fill="#fff" fill-opacity="0.20"/><rect x="6.4" y="0.0" width="0.8" height="0.8" fill="#000" fill-opacity="0.26"/><rect x="6.4" y="1.6" width="0.8" height="0.8" fill="#000" fill-opacity="0.24"/><rect x="6.4" y="2.4" width="0.8" height="0.8" fill="#fff" fill-opacity="0.13"/><rect x="6.4" y="3.2" width="0.8" height="0.8" fill="#000" fill-opacity="0.29"/><rect x="6.4" y="4.8" width="0.8" height="0.8" fill="#fff" fill-opacity="0.12"/><rect x="6.4" y="5.6" width="0.8" height="0.8" fill="#fff" fill-opacity="0.12"/><rect x="6.4" y="8.0" width="0.8" height="0.8" fill="#000" fill-opacity="0.16"/><rect x="6.4" y="8.8" width="0.8" height="0.8" fill="#fff" fill-opacity="0.14"/><rect x="6.4" y="10.4" width="0.8" height="0.8" fill="#fff" fill-opacity="0.17"/><rect x="6.4" y="11.2" width="0.8" height="0.8" fill="#fff" fill-opacity="0.08"/><rect x="6.4" y="12.0" width="0.8" height="0.8" fill="#fff" fill-opacity="0.15"/><rect x="6.4" y="12.8" width="0.8" height="0.8" fill="#000" fill-opacity="0.17"/><rect x="6.4" y="14.4" width="0.8" height="0.8" fill="#fff" fill-opacity="0.16"/><rect x="6.4" y="15.2" width="0.8" height="0.8" fill="#fff" fill-opacity="0.13"/><rect x="6.4" y="16.0" width="0.8" height="0.8" fill="#fff" fill-opacity="0.08"/><rect x="6.4" y="17.6" width="0.8" height="0.8" fill="#000" fill-opacity="0.18"/><rect x="6.4" y="18.4" width="0.8" height="0.8" fill="#000" fill-opacity="0.21"/><rect x="6.4" y="19.2" width="0.8" height="0.8" fill="#fff" fill-opacity="0.08"/><rect x="7.2" y="0.8" width="0.8" height="0.8" fill="#fff" fill-opacity="0.16"/><rect x="7.2" y="3.2" width="0.8" height="0.8" fill="#000" fill-opacity="0.16"/><rect x="7.2" y="4.8" width="0.8" height="0.8" fill="#fff" fill-opacity="0.20"/><rect x="7.2" y="6.4" width="0.8" height="0.8" fill="#fff" fill-opacity="0.09"/><rect x="7.2" y="8.0" width="0.8" height="0.8" fill="#fff" fill-opacity="0.06"/><rect x="7.2" y="9.6" width="0.8" height="0.8" fill="#000" fill-opacity="0.26"/><rect x="7.2" y="10.4" width="0.8" height="0.8" fill="#fff" fill-opacity="0.11"/><rect x="7.2" y="12.0" width="0.8" height="0.8" fill="#fff" fill-opacity="0.08"/><rect x="7.2" y="15.2" width="0.8" height="0.8" fill="#fff" fill-opacity="0.13"/><rect x="7.2" y="18.4" width="0.8" height="0.8" fill="#fff" fill-opacity="0.06"/><rect x="7.2" y="19.2" width="0.8" height="0.8" fill="#fff" fill-opacity="0.06"/><rect x="7.2" y="22.4" width="0.8" height="0.8" fill="#fff" fill-opacity="0.08"/><rect x="7.2" y="23.2" width="0.8" height="0.8" fill="#fff" fill-opacity="0.18"/><rect x="8.0" y="1.6" width="0.8" height="0.8" fill="#fff" fill-opacity="0.06"/><rect x="8.0" y="3.2" width="0.8" height="0.8" fill="#000" fill-opacity="0.25"/><rect x="8.0" y="4.0" width="0.8" height="0.8" fill="#000" fill-opacity="0.19"/><rect x="8.0" y="5.6" width="0.8" height="0.8" fill="#000" fill-opacity="0.22"/><rect x="8.0" y="6.4" width="0.8" height="0.8" fill="#fff" fill-opacity="0.16"/><rect x="8.0" y="8.0" width="0.8" height="0.8" fill="#fff" fill-opacity="0.12"/><rect x="8.0" y="9.6" width="0.8" height="0.8" fill="#000" fill-opacity="0.14"/><rect x="8.0" y="10.4" width="0.8" height="0.8" fill="#fff" fill-opacity="0.13"/><rect x="8.0" y="11.2" width="0.8" height="0.8" fill="#fff" fill-opacity="0.18"/><rect x="8.0" y="15.2" width="0.8" height="0.8" fill="#000" fill-opacity="0.22"/><rect x="8.0" y="18.4" width="0.8" height="0.8" fill="#fff" fill-opacity="0.19"/><rect x="8.0" y="21.6" width="0.8" height="0.8" fill="#000" fill-opacity="0.28"/><rect x="8.8" y="1.6" width="0.8" height="0.8" fill="#000" fill-opacity="0.24"/><rect x="8.8" y="2.4" width="0.8" height="0.8" fill="#fff" fill-opacity="0.10"/><rect x="8.8" y="3.2" width="0.8" height="0.8" fill="#000" fill-opacity="0.10"/><rect x="8.8" y="4.0" width="0.8" height="0.8" fill="#000" fill-opacity="0.23"/><rect x="8.8" y="5.6" width="0.8" height="0.8" fill="#fff" fill-opacity="0.19"/><rect x="8.8" y="7.2" width="0.8" height="0.8" fill="#000" fill-opacity="0.23"/><rect x="8.8" y="9.6" width="0.8" height="0.8" fill="#000" fill-opacity="0.30"/><rect x="8.8" y="13.6" width="0.8" height="0.8" fill="#fff" fill-opacity="0.14"/><rect x="8.8" y="15.2" width="0.8" height="0.8" fill="#fff" fill-opacity="0.11"/><rect x="8.8" y="16.0" width="0.8" height="0.8" fill="#fff" fill-opacity="0.08"/><rect x="8.8" y="16.8" width="0.8" height="0.8" fill="#000" fill-opacity="0.12"/><rect x="8.8" y="17.6" width="0.8" height="0.8" fill="#fff" fill-opacity="0.19"/><rect x="9.6" y="0.0" width="0.8" height="0.8" fill="#fff" fill-opacity="0.14"/><rect x="9.6" y="1.6" width="0.8" height="0.8" fill="#fff" fill-opacity="0.19"/><rect x="9.6" y="2.4" width="0.8" height="0.8" fill="#fff" fill-opacity="0.12"/><rect x="9.6" y="3.2" width="0.8" height="0.8" fill="#fff" fill-opacity="0.12"/><rect x="9.6" y="4.8" width="0.8" height="0.8" fill="#fff" fill-opacity="0.19"/><rect x="9.6" y="5.6" width="0.8" height="0.8" fill="#000" fill-opacity="0.21"/><rect x="9.6" y="7.2" width="0.8" height="0.8" fill="#000" fill-opacity="0.16"/><rect x="9.6" y="9.6" width="0.8" height="0.8" fill="#fff" fill-opacity="0.16"/><rect x="9.6" y="10.4" width="0.8" height="0.8" fill="#fff" fill-opacity="0.05"/><rect x="9.6" y="11.2" width="0.8" height="0.8" fill="#fff" fill-opacity="0.06"/><rect x="9.6" y="12.0" width="0.8" height="0.8" fill="#fff" fill-opacity="0.16"/><rect x="9.6" y="12.8" width="0.8" height="0.8" fill="#000" fill-opacity="0.28"/><rect x="9.6" y="14.4" width="0.8" height="0.8" fill="#fff" fill-opacity="0.20"/><rect x="9.6" y="16.0" width="0.8" height="0.8" fill="#fff" fill-opacity="0.19"/><rect x="9.6" y="16.8" width="0.8" height="0.8" fill="#000" fill-opacity="0.20"/><rect x="9.6" y="18.4" width="0.8" height="0.8" fill="#fff" fill-opacity="0.13"/><rect x="9.6" y="20.8" width="0.8" height="0.8" fill="#000" fill-opacity="0.30"/><rect x="9.6" y="23.2" width="0.8" height="0.8" fill="#fff" fill-opacity="0.14"/><rect x="10.4" y="0.0" width="0.8" height="0.8" fill="#000" fill-opacity="0.14"/><rect x="10.4" y="0.8" width="0.8" height="0.8" fill="#fff" fill-opacity="0.13"/><rect x="10.4" y="1.6" width="0.8" height="0.8" fill="#fff" fill-opacity="0.12"/><rect x="10.4" y="3.2" width="0.8" height="0.8" fill="#000" fill-opacity="0.15"/><rect x="10.4" y="4.8" width="0.8" height="0.8" fill="#000" fill-opacity="0.26"/><rect x="10.4" y="8.8" width="0.8" height="0.8" fill="#fff" fill-opacity="0.07"/><rect x="10.4" y="12.0" width="0.8" height="0.8" fill="#000" fill-opacity="0.15"/><rect x="10.4" y="16.8" width="0.8" height="0.8" fill="#fff" fill-opacity="0.09"/><rect x="10.4" y="20.0" width="0.8" height="0.8" fill="#fff" fill-opacity="0.06"/><rect x="10.4" y="20.8" width="0.8" height="0.8" fill="#fff" fill-opacity="0.11"/><rect x="10.4" y="22.4" width="0.8" height="0.8" fill="#fff" fill-opacity="0.13"/><rect x="10.4" y="23.2" width="0.8" height="0.8" fill="#fff" fill-opacity="0.06"/><rect x="11.2" y="2.4" width="0.8" height="0.8" fill="#000" fill-opacity="0.20"/><rect x="11.2" y="3.2" width="0.8" height="0.8" fill="#fff" fill-opacity="0.10"/><rect x="11.2" y="5.6" width="0.8" height="0.8" fill="#fff" fill-opacity="0.07"/><rect x="11.2" y="8.8" width="0.8" height="0.8" fill="#fff" fill-opacity="0.11"/><rect x="11.2" y="9.6" width="0.8" height="0.8" fill="#fff" fill-opacity="0.17"/><rect x="11.2" y="10.4" width="0.8" height="0.8" fill="#000" fill-opacity="0.23"/><rect x="11.2" y="12.0" width="0.8" height="0.8" fill="#000" fill-opacity="0.21"/><rect x="11.2" y="14.4" width="0.8" height="0.8" fill="#000" fill-opacity="0.17"/><rect x="11.2" y="15.2" width="0.8" height="0.8" fill="#fff" fill-opacity="0.18"/><rect x="11.2" y="16.0" width="0.8" height="0.8" fill="#fff" fill-opacity="0.06"/><rect x="11.2" y="17.6" width="0.8" height="0.8" fill="#000" fill-opacity="0.24"/><rect x="11.2" y="18.4" width="0.8" height="0.8" fill="#fff" fill-opacity="0.17"/><rect x="11.2" y="19.2" width="0.8" height="0.8" fill="#fff" fill-opacity="0.08"/><rect x="11.2" y="20.8" width="0.8" height="0.8" fill="#fff" fill-opacity="0.10"/><rect x="11.2" y="23.2" width="0.8" height="0.8" fill="#fff" fill-opacity="0.07"/><rect x="12.0" y="0.0" width="0.8" height="0.8" fill="#000" fill-opacity="0.25"/><rect x="12.0" y="0.8" width="0.8" height="0.8" fill="#000" fill-opacity="0.12"/><rect x="12.0" y="5.6" width="0.8" height="0.8" fill="#000" fill-opacity="0.26"/><rect x="12.0" y="6.4" width="0.8" height="0.8" fill="#000" fill-opacity="0.16"/><rect x="12.0" y="7.2" width="0.8" height="0.8" fill="#000" fill-opacity="0.29"/><rect x="12.0" y="8.8" width="0.8" height="0.8" fill="#fff" fill-opacity="0.10"/><rect x="12.0" y="9.6" width="0.8" height="0.8" fill="#000" fill-opacity="0.17"/><rect x="12.0" y="10.4" width="0.8" height="0.8" fill="#000" fill-opacity="0.18"/><rect x="12.0" y="11.2" width="0.8" height="0.8" fill="#fff" fill-opacity="0.13"/><rect x="12.0" y="15.2" width="0.8" height="0.8" fill="#fff" fill-opacity="0.16"/><rect x="12.0" y="16.8" width="0.8" height="0.8" fill="#fff" fill-opacity="0.05"/><rect x="12.0" y="22.4" width="0.8" height="0.8" fill="#fff" fill-opacity="0.13"/><rect x="12.8" y="0.0" width="0.8" height="0.8" fill="#fff" fill-opacity="0.06"/><rect x="12.8" y="2.4" width="0.8" height="0.8" fill="#fff" fill-opacity="0.15"/><rect x="12.8" y="3.2" width="0.8" height="0.8" fill="#fff" fill-opacity="0.16"/><rect x="12.8" y="4.8" width="0.8" height="0.8" fill="#fff" fill-opacity="0.08"/><rect x="12.8" y="8.0" width="0.8" height="0.8" fill="#000" fill-opacity="0.17"/><rect x="12.8" y="10.4" width="0.8" height="0.8" fill="#000" fill-opacity="0.21"/><rect x="12.8" y="13.6" width="0.8" height="0.8" fill="#000" fill-opacity="0.27"/><rect x="12.8" y="22.4" width="0.8" height="0.8" fill="#000" fill-opacity="0.18"/><rect x="12.8" y="23.2" width="0.8" height="0.8" fill="#fff" fill-opacity="0.16"/><rect x="13.6" y="0.8" width="0.8" height="0.8" fill="#000" fill-opacity="0.13"/><rect x="13.6" y="1.6" width="0.8" height="0.8" fill="#fff" fill-opacity="0.11"/><rect x="13.6" y="2.4" width="0.8" height="0.8" fill="#fff" fill-opacity="0.20"/><rect x="13.6" y="3.2" width="0.8" height="0.8" fill="#fff" fill-opacity="0.10"/><rect x="13.6" y="4.0" width="0.8" height="0.8" fill="#fff" fill-opacity="0.15"/><rect x="13.6" y="5.6" width="0.8" height="0.8" fill="#fff" fill-opacity="0.06"/><rect x="13.6" y="6.4" width="0.8" height="0.8" fill="#000" fill-opacity="0.22"/><rect x="13.6" y="8.0" width="0.8" height="0.8" fill="#fff" fill-opacity="0.07"/><rect x="13.6" y="8.8" width="0.8" height="0.8" fill="#fff" fill-opacity="0.08"/><rect x="13.6" y="9.6" width="0.8" height="0.8" fill="#fff" fill-opacity="0.16"/><rect x="13.6" y="11.2" width="0.8" height="0.8" fill="#fff" fill-opacity="0.08"/><rect x="13.6" y="12.0" width="0.8" height="0.8" fill="#fff" fill-opacity="0.08"/><rect x="13.6" y="13.6" width="0.8" height="0.8" fill="#000" fill-opacity="0.21"/><rect x="13.6" y="15.2" width="0.8" height="0.8" fill="#000" fill-opacity="0.15"/><rect x="13.6" y="17.6" width="0.8" height="0.8" fill="#000" fill-opacity="0.21"/><rect x="13.6" y="19.2" width="0.8" height="0.8" fill="#000" fill-opacity="0.14"/><rect x="13.6" y="20.0" width="0.8" height="0.8" fill="#fff" fill-opacity="0.19"/><rect x="13.6" y="21.6" width="0.8" height="0.8" fill="#000" fill-opacity="0.21"/><rect x="13.6" y="23.2" width="0.8" height="0.8" fill="#fff" fill-opacity="0.20"/><rect x="14.4" y="0.8" width="0.8" height="0.8" fill="#fff" fill-opacity="0.05"/><rect x="14.4" y="1.6" width="0.8" height="0.8" fill="#000" fill-opacity="0.17"/><rect x="14.4" y="4.8" width="0.8" height="0.8" fill="#fff" fill-opacity="0.07"/><rect x="14.4" y="5.6" width="0.8" height="0.8" fill="#000" fill-opacity="0.15"/><rect x="14.4" y="9.6" width="0.8" height="0.8" fill="#fff" fill-opacity="0.13"/><rect x="14.4" y="10.4" width="0.8" height="0.8" fill="#fff" fill-opacity="0.17"/><rect x="14.4" y="11.2" width="0.8" height="0.8" fill="#fff" fill-opacity="0.17"/><rect x="14.4" y="13.6" width="0.8" height="0.8" fill="#fff" fill-opacity="0.09"/><rect x="14.4" y="15.2" width="0.8" height="0.8" fill="#fff" fill-opacity="0.12"/><rect x="14.4" y="16.0" width="0.8" height="0.8" fill="#000" fill-opacity="0.29"/><rect x="14.4" y="18.4" width="0.8" height="0.8" fill="#000" fill-opacity="0.26"/><rect x="14.4" y="19.2" width="0.8" height="0.8" fill="#000" fill-opacity="0.28"/><rect x="14.4" y="20.0" width="0.8" height="0.8" fill="#fff" fill-opacity="0.17"/><rect x="14.4" y="20.8" width="0.8" height="0.8" fill="#fff" fill-opacity="0.13"/><rect x="14.4" y="22.4" width="0.8" height="0.8" fill="#fff" fill-opacity="0.17"/><rect x="14.4" y="23.2" width="0.8" height="0.8" fill="#000" fill-opacity="0.16"/><rect x="15.2" y="0.0" width="0.8" height="0.8" fill="#fff" fill-opacity="0.10"/><rect x="15.2" y="0.8" width="0.8" height="0.8" fill="#000" fill-opacity="0.24"/><rect x="15.2" y="1.6" width="0.8" height="0.8" fill="#000" fill-opacity="0.24"/><rect x="15.2" y="2.4" width="0.8" height="0.8" fill="#fff" fill-opacity="0.11"/><rect x="15.2" y="3.2" width="0.8" height="0.8" fill="#000" fill-opacity="0.29"/><rect x="15.2" y="5.6" width="0.8" height="0.8" fill="#fff" fill-opacity="0.11"/><rect x="15.2" y="7.2" width="0.8" height="0.8" fill="#fff" fill-opacity="0.13"/><rect x="15.2" y="8.0" width="0.8" height="0.8" fill="#000" fill-opacity="0.10"/><rect x="15.2" y="10.4" width="0.8" height="0.8" fill="#fff" fill-opacity="0.14"/><rect x="15.2" y="11.2" width="0.8" height="0.8" fill="#fff" fill-opacity="0.11"/><rect x="15.2" y="12.8" width="0.8" height="0.8" fill="#fff" fill-opacity="0.10"/><rect x="15.2" y="13.6" width="0.8" height="0.8" fill="#000" fill-opacity="0.23"/><rect x="15.2" y="14.4" width="0.8" height="0.8" fill="#fff" fill-opacity="0.08"/><rect x="15.2" y="16.0" width="0.8" height="0.8" fill="#000" fill-opacity="0.29"/><rect x="15.2" y="18.4" width="0.8" height="0.8" fill="#000" fill-opacity="0.27"/><rect x="15.2" y="19.2" width="0.8" height="0.8" fill="#fff" fill-opacity="0.07"/><rect x="15.2" y="20.0" width="0.8" height="0.8" fill="#fff" fill-opacity="0.15"/><rect x="15.2" y="21.6" width="0.8" height="0.8" fill="#fff" fill-opacity="0.11"/><rect x="16.0" y="0.0" width="0.8" height="0.8" fill="#fff" fill-opacity="0.08"/><rect x="16.0" y="0.8" width="0.8" height="0.8" fill="#fff" fill-opacity="0.07"/><rect x="16.0" y="1.6" width="0.8" height="0.8" fill="#000" fill-opacity="0.11"/><rect x="16.0" y="3.2" width="0.8" height="0.8" fill="#000" fill-opacity="0.20"/><rect x="16.0" y="6.4" width="0.8" height="0.8" fill="#000" fill-opacity="0.17"/><rect x="16.0" y="7.2" width="0.8" height="0.8" fill="#000" fill-opacity="0.10"/><rect x="16.0" y="8.0" width="0.8" height="0.8" fill="#000" fill-opacity="0.24"/><rect x="16.0" y="12.0" width="0.8" height="0.8" fill="#fff" fill-opacity="0.10"/><rect x="16.0" y="12.8" width="0.8" height="0.8" fill="#000" fill-opacity="0.23"/><rect x="16.0" y="13.6" width="0.8" height="0.8" fill="#fff" fill-opacity="0.11"/><rect x="16.0" y="17.6" width="0.8" height="0.8" fill="#fff" fill-opacity="0.16"/><rect x="16.0" y="20.0" width="0.8" height="0.8" fill="#000" fill-opacity="0.20"/><rect x="16.0" y="20.8" width="0.8" height="0.8" fill="#fff" fill-opacity="0.16"/><rect x="16.8" y="0.8" width="0.8" height="0.8" fill="#fff" fill-opacity="0.19"/><rect x="16.8" y="2.4" width="0.8" height="0.8" fill="#fff" fill-opacity="0.06"/><rect x="16.8" y="3.2" width="0.8" height="0.8" fill="#fff" fill-opacity="0.14"/><rect x="16.8" y="4.8" width="0.8" height="0.8" fill="#000" fill-opacity="0.29"/><rect x="16.8" y="5.6" width="0.8" height="0.8" fill="#000" fill-opacity="0.19"/><rect x="16.8" y="6.4" width="0.8" height="0.8" fill="#fff" fill-opacity="0.20"/><rect x="16.8" y="7.2" width="0.8" height="0.8" fill="#fff" fill-opacity="0.19"/><rect x="16.8" y="10.4" width="0.8" height="0.8" fill="#fff" fill-opacity="0.19"/><rect x="16.8" y="13.6" width="0.8" height="0.8" fill="#fff" fill-opacity="0.17"/><rect x="16.8" y="14.4" width="0.8" height="0.8" fill="#fff" fill-opacity="0.18"/><rect x="16.8" y="15.2" width="0.8" height="0.8" fill="#fff" fill-opacity="0.14"/><rect x="16.8" y="16.8" width="0.8" height="0.8" fill="#fff" fill-opacity="0.13"/><rect x="16.8" y="17.6" width="0.8" height="0.8" fill="#fff" fill-opacity="0.05"/><rect x="16.8" y="18.4" width="0.8" height="0.8" fill="#fff" fill-opacity="0.20"/><rect x="16.8" y="20.8" width="0.8" height="0.8" fill="#000" fill-opacity="0.23"/><rect x="16.8" y="22.4" width="0.8" height="0.8" fill="#000" fill-opacity="0.22"/><rect x="17.6" y="0.0" width="0.8" height="0.8" fill="#fff" fill-opacity="0.08"/><rect x="17.6" y="0.8" width="0.8" height="0.8" fill="#000" fill-opacity="0.13"/><rect x="17.6" y="1.6" width="0.8" height="0.8" fill="#000" fill-opacity="0.21"/><rect x="17.6" y="2.4" width="0.8" height="0.8" fill="#fff" fill-opacity="0.13"/><rect x="17.6" y="3.2" width="0.8" height="0.8" fill="#fff" fill-opacity="0.14"/><rect x="17.6" y="4.0" width="0.8" height="0.8" fill="#000" fill-opacity="0.23"/><rect x="17.6" y="4.8" width="0.8" height="0.8" fill="#fff" fill-opacity="0.15"/><rect x="17.6" y="5.6" width="0.8" height="0.8" fill="#fff" fill-opacity="0.19"/><rect x="17.6" y="7.2" width="0.8" height="0.8" fill="#000" fill-opacity="0.18"/><rect x="17.6" y="11.2" width="0.8" height="0.8" fill="#000" fill-opacity="0.30"/><rect x="17.6" y="13.6" width="0.8" height="0.8" fill="#000" fill-opacity="0.19"/><rect x="17.6" y="17.6" width="0.8" height="0.8" fill="#000" fill-opacity="0.28"/><rect x="17.6" y="18.4" width="0.8" height="0.8" fill="#000" fill-opacity="0.11"/><rect x="17.6" y="23.2" width="0.8" height="0.8" fill="#000" fill-opacity="0.22"/><rect x="18.4" y="0.0" width="0.8" height="0.8" fill="#fff" fill-opacity="0.07"/><rect x="18.4" y="0.8" width="0.8" height="0.8" fill="#000" fill-opacity="0.20"/><rect x="18.4" y="1.6" width="0.8" height="0.8" fill="#000" fill-opacity="0.11"/><rect x="18.4" y="4.0" width="0.8" height="0.8" fill="#fff" fill-opacity="0.10"/><rect x="18.4" y="4.8" width="0.8" height="0.8" fill="#000" fill-opacity="0.15"/><rect x="18.4" y="5.6" width="0.8" height="0.8" fill="#fff" fill-opacity="0.19"/><rect x="18.4" y="8.8" width="0.8" height="0.8" fill="#000" fill-opacity="0.26"/><rect x="18.4" y="9.6" width="0.8" height="0.8" fill="#fff" fill-opacity="0.16"/><rect x="18.4" y="12.0" width="0.8" height="0.8" fill="#fff" fill-opacity="0.17"/><rect x="18.4" y="12.8" width="0.8" height="0.8" fill="#fff" fill-opacity="0.13"/><rect x="18.4" y="14.4" width="0.8" height="0.8" fill="#fff" fill-opacity="0.09"/><rect x="18.4" y="15.2" width="0.8" height="0.8" fill="#fff" fill-opacity="0.10"/><rect x="18.4" y="16.0" width="0.8" height="0.8" fill="#fff" fill-opacity="0.18"/><rect x="18.4" y="17.6" width="0.8" height="0.8" fill="#000" fill-opacity="0.17"/><rect x="18.4" y="19.2" width="0.8" height="0.8" fill="#fff" fill-opacity="0.05"/><rect x="18.4" y="20.8" width="0.8" height="0.8" fill="#000" fill-opacity="0.20"/><rect x="18.4" y="23.2" width="0.8" height="0.8" fill="#000" fill-opacity="0.14"/><rect x="19.2" y="0.0" width="0.8" height="0.8" fill="#fff" fill-opacity="0.19"/><rect x="19.2" y="1.6" width="0.8" height="0.8" fill="#fff" fill-opacity="0.18"/><rect x="19.2" y="2.4" width="0.8" height="0.8" fill="#000" fill-opacity="0.19"/><rect x="19.2" y="3.2" width="0.8" height="0.8" fill="#fff" fill-opacity="0.18"/><rect x="19.2" y="4.8" width="0.8" height="0.8" fill="#fff" fill-opacity="0.14"/><rect x="19.2" y="5.6" width="0.8" height="0.8" fill="#fff" fill-opacity="0.18"/><rect x="19.2" y="6.4" width="0.8" height="0.8" fill="#fff" fill-opacity="0.07"/><rect x="19.2" y="8.0" width="0.8" height="0.8" fill="#000" fill-opacity="0.28"/><rect x="19.2" y="10.4" width="0.8" height="0.8" fill="#fff" fill-opacity="0.15"/><rect x="19.2" y="12.0" width="0.8" height="0.8" fill="#000" fill-opacity="0.12"/><rect x="19.2" y="12.8" width="0.8" height="0.8" fill="#fff" fill-opacity="0.10"/><rect x="19.2" y="14.4" width="0.8" height="0.8" fill="#fff" fill-opacity="0.08"/><rect x="19.2" y="15.2" width="0.8" height="0.8" fill="#fff" fill-opacity="0.15"/><rect x="19.2" y="16.8" width="0.8" height="0.8" fill="#000" fill-opacity="0.23"/><rect x="19.2" y="19.2" width="0.8" height="0.8" fill="#fff" fill-opacity="0.10"/><rect x="19.2" y="21.6" width="0.8" height="0.8" fill="#fff" fill-opacity="0.15"/><rect x="19.2" y="22.4" width="0.8" height="0.8" fill="#fff" fill-opacity="0.20"/><rect x="19.2" y="23.2" width="0.8" height="0.8" fill="#000" fill-opacity="0.21"/><rect x="20.0" y="0.8" width="0.8" height="0.8" fill="#fff" fill-opacity="0.14"/><rect x="20.0" y="1.6" width="0.8" height="0.8" fill="#fff" fill-opacity="0.09"/><rect x="20.0" y="3.2" width="0.8" height="0.8" fill="#fff" fill-opacity="0.09"/><rect x="20.0" y="4.8" width="0.8" height="0.8" fill="#fff" fill-opacity="0.09"/><rect x="20.0" y="6.4" width="0.8" height="0.8" fill="#fff" fill-opacity="0.18"/><rect x="20.0" y="8.0" width="0.8" height="0.8" fill="#fff" fill-opacity="0.12"/><rect x="20.0" y="9.6" width="0.8" height="0.8" fill="#000" fill-opacity="0.29"/><rect x="20.0" y="10.4" width="0.8" height="0.8" fill="#000" fill-opacity="0.14"/><rect x="20.0" y="12.8" width="0.8" height="0.8" fill="#000" fill-opacity="0.23"/><rect x="20.0" y="19.2" width="0.8" height="0.8" fill="#fff" fill-opacity="0.17"/><rect x="20.0" y="20.0" width="0.8" height="0.8" fill="#fff" fill-opacity="0.14"/><rect x="20.0" y="20.8" width="0.8" height="0.8" fill="#fff" fill-opacity="0.12"/><rect x="20.8" y="0.0" width="0.8" height="0.8" fill="#fff" fill-opacity="0.12"/><rect x="20.8" y="0.8" width="0.8" height="0.8" fill="#fff" fill-opacity="0.14"/><rect x="20.8" y="1.6" width="0.8" height="0.8" fill="#000" fill-opacity="0.11"/><rect x="20.8" y="5.6" width="0.8" height="0.8" fill="#fff" fill-opacity="0.07"/><rect x="20.8" y="6.4" width="0.8" height="0.8" fill="#fff" fill-opacity="0.12"/><rect x="20.8" y="7.2" width="0.8" height="0.8" fill="#000" fill-opacity="0.19"/><rect x="20.8" y="8.0" width="0.8" height="0.8" fill="#fff" fill-opacity="0.17"/><rect x="20.8" y="8.8" width="0.8" height="0.8" fill="#fff" fill-opacity="0.19"/><rect x="20.8" y="12.0" width="0.8" height="0.8" fill="#fff" fill-opacity="0.07"/><rect x="20.8" y="12.8" width="0.8" height="0.8" fill="#000" fill-opacity="0.11"/><rect x="20.8" y="13.6" width="0.8" height="0.8" fill="#000" fill-opacity="0.22"/><rect x="20.8" y="15.2" width="0.8" height="0.8" fill="#fff" fill-opacity="0.14"/><rect x="20.8" y="16.0" width="0.8" height="0.8" fill="#fff" fill-opacity="0.17"/><rect x="20.8" y="16.8" width="0.8" height="0.8" fill="#fff" fill-opacity="0.09"/><rect x="20.8" y="17.6" width="0.8" height="0.8" fill="#fff" fill-opacity="0.15"/><rect x="20.8" y="20.0" width="0.8" height="0.8" fill="#fff" fill-opacity="0.11"/><rect x="20.8" y="20.8" width="0.8" height="0.8" fill="#000" fill-opacity="0.14"/><rect x="20.8" y="22.4" width="0.8" height="0.8" fill="#fff" fill-opacity="0.12"/><rect x="21.6" y="0.8" width="0.8" height="0.8" fill="#fff" fill-opacity="0.12"/><rect x="21.6" y="2.4" width="0.8" height="0.8" fill="#fff" fill-opacity="0.09"/><rect x="21.6" y="4.0" width="0.8" height="0.8" fill="#fff" fill-opacity="0.11"/><rect x="21.6" y="4.8" width="0.8" height="0.8" fill="#fff" fill-opacity="0.11"/><rect x="21.6" y="5.6" width="0.8" height="0.8" fill="#fff" fill-opacity="0.06"/><rect x="21.6" y="8.8" width="0.8" height="0.8" fill="#fff" fill-opacity="0.09"/><rect x="21.6" y="10.4" width="0.8" height="0.8" fill="#fff" fill-opacity="0.12"/><rect x="21.6" y="12.0" width="0.8" height="0.8" fill="#000" fill-opacity="0.17"/><rect x="21.6" y="14.4" width="0.8" height="0.8" fill="#fff" fill-opacity="0.11"/><rect x="21.6" y="16.0" width="0.8" height="0.8" fill="#fff" fill-opacity="0.10"/><rect x="21.6" y="20.0" width="0.8" height="0.8" fill="#000" fill-opacity="0.18"/><rect x="21.6" y="21.6" width="0.8" height="0.8" fill="#000" fill-opacity="0.26"/><rect x="21.6" y="22.4" width="0.8" height="0.8" fill="#fff" fill-opacity="0.10"/><rect x="21.6" y="23.2" width="0.8" height="0.8" fill="#fff" fill-opacity="0.13"/><rect x="22.4" y="0.0" width="0.8" height="0.8" fill="#fff" fill-opacity="0.08"/><rect x="22.4" y="0.8" width="0.8" height="0.8" fill="#fff" fill-opacity="0.12"/><rect x="22.4" y="1.6" width="0.8" height="0.8" fill="#000" fill-opacity="0.19"/><rect x="22.4" y="4.8" width="0.8" height="0.8" fill="#fff" fill-opacity="0.11"/><rect x="22.4" y="5.6" width="0.8" height="0.8" fill="#fff" fill-opacity="0.15"/><rect x="22.4" y="6.4" width="0.8" height="0.8" fill="#000" fill-opacity="0.15"/><rect x="22.4" y="7.2" width="0.8" height="0.8" fill="#fff" fill-opacity="0.08"/><rect x="22.4" y="8.0" width="0.8" height="0.8" fill="#fff" fill-opacity="0.11"/><rect x="22.4" y="10.4" width="0.8" height="0.8" fill="#fff" fill-opacity="0.10"/><rect x="22.4" y="11.2" width="0.8" height="0.8" fill="#fff" fill-opacity="0.19"/><rect x="22.4" y="12.0" width="0.8" height="0.8" fill="#000" fill-opacity="0.25"/><rect x="22.4" y="14.4" width="0.8" height="0.8" fill="#fff" fill-opacity="0.10"/><rect x="22.4" y="15.2" width="0.8" height="0.8" fill="#000" fill-opacity="0.12"/><rect x="22.4" y="16.8" width="0.8" height="0.8" fill="#000" fill-opacity="0.25"/><rect x="22.4" y="18.4" width="0.8" height="0.8" fill="#fff" fill-opacity="0.11"/><rect x="22.4" y="19.2" width="0.8" height="0.8" fill="#fff" fill-opacity="0.06"/><rect x="22.4" y="20.0" width="0.8" height="0.8" fill="#fff" fill-opacity="0.14"/><rect x="22.4" y="20.8" width="0.8" height="0.8" fill="#fff" fill-opacity="0.10"/><rect x="22.4" y="21.6" width="0.8" height="0.8" fill="#000" fill-opacity="0.21"/><rect x="22.4" y="22.4" width="0.8" height="0.8" fill="#fff" fill-opacity="0.16"/><rect x="22.4" y="23.2" width="0.8" height="0.8" fill="#fff" fill-opacity="0.16"/><rect x="23.2" y="0.8" width="0.8" height="0.8" fill="#fff" fill-opacity="0.08"/><rect x="23.2" y="1.6" width="0.8" height="0.8" fill="#fff" fill-opacity="0.16"/><rect x="23.2" y="2.4" width="0.8" height="0.8" fill="#000" fill-opacity="0.18"/><rect x="23.2" y="4.0" width="0.8" height="0.8" fill="#fff" fill-opacity="0.09"/><rect x="23.2" y="4.8" width="0.8" height="0.8" fill="#000" fill-opacity="0.14"/><rect x="23.2" y="5.6" width="0.8" height="0.8" fill="#fff" fill-opacity="0.05"/><rect x="23.2" y="9.6" width="0.8" height="0.8" fill="#fff" fill-opacity="0.15"/><rect x="23.2" y="11.2" width="0.8" height="0.8" fill="#fff" fill-opacity="0.15"/><rect x="23.2" y="14.4" width="0.8" height="0.8" fill="#fff" fill-opacity="0.14"/><rect x="23.2" y="15.2" width="0.8" height="0.8" fill="#fff" fill-opacity="0.11"/><rect x="23.2" y="16.0" width="0.8" height="0.8" fill="#000" fill-opacity="0.11"/><rect x="23.2" y="16.8" width="0.8" height="0.8" fill="#000" fill-opacity="0.17"/><rect x="23.2" y="17.6" width="0.8" height="0.8" fill="#000" fill-opacity="0.16"/><rect x="23.2" y="18.4" width="0.8" height="0.8" fill="#fff" fill-opacity="0.11"/><rect x="23.2" y="19.2" width="0.8" height="0.8" fill="#000" fill-opacity="0.13"/><rect x="23.2" y="20.8" width="0.8" height="0.8" fill="#fff" fill-opacity="0.06"/><rect x="23.2" y="21.6" width="0.8" height="0.8" fill="#000" fill-opacity="0.18"/><rect x="23.2" y="22.4" width="0.8" height="0.8" fill="#fff" fill-opacity="0.14"/></pattern>
<clipPath id="ch1"><path d="M10.80,141.90h8.80v27.70h-8.80zM27.90,141.90h10.10v27.70h-10.10zM19.60,150.30h8.30v11.00h-8.30zM39.50,141.90h27.20v8.70h-27.20zM39.50,150.60h9.60v19.00h-9.60zM58.40,150.60h8.30v19.00h-8.30zM49.10,156.10h9.30v5.60h-9.30zM68.60,141.90h27.20v9.00h-27.20zM68.60,150.90h6.70v18.70h-6.70zM79.00,150.90h7.00v18.70h-7.00zM89.40,150.90h6.40v18.70h-6.40z"/></clipPath>
<radialGradient id="ch1b0" cx="13.8" cy="145.9" r="7" gradientUnits="userSpaceOnUse"><stop offset="0" stop-color="#414487" stop-opacity="1"/><stop offset="0.4" stop-color="#414487" stop-opacity="0.85"/><stop offset="1" stop-color="#414487" stop-opacity="0"/></radialGradient>
<radialGradient id="ch1b1" cx="20.8" cy="144.9" r="5" gradientUnits="userSpaceOnUse"><stop offset="0" stop-color="#3e4a89" stop-opacity="1"/><stop offset="0.4" stop-color="#3e4a89" stop-opacity="0.85"/><stop offset="1" stop-color="#3e4a89" stop-opacity="0"/></radialGradient>
<radialGradient id="ch1b2" cx="34.8" cy="147.9" r="8" gradientUnits="userSpaceOnUse"><stop offset="0" stop-color="#2aa882" stop-opacity="1"/><stop offset="0.4" stop-color="#2aa882" stop-opacity="0.85"/><stop offset="1" stop-color="#2aa882" stop-opacity="0"/></radialGradient>
<radialGradient id="ch1b3" cx="34.8" cy="144.9" r="5" gradientUnits="userSpaceOnUse"><stop offset="0" stop-color="#27a285" stop-opacity="1"/><stop offset="0.4" stop-color="#27a285" stop-opacity="0.85"/><stop offset="1" stop-color="#27a285" stop-opacity="0"/></radialGradient>
<radialGradient id="ch1b4" cx="24.8" cy="152.9" r="5" gradientUnits="userSpaceOnUse"><stop offset="0" stop-color="#35b779" stop-opacity="1"/><stop offset="0.4" stop-color="#35b779" stop-opacity="0.85"/><stop offset="1" stop-color="#35b779" stop-opacity="0"/></radialGradient>
<radialGradient id="ch1b5" cx="34.8" cy="163.9" r="7" gradientUnits="userSpaceOnUse"><stop offset="0" stop-color="#3b528b" stop-opacity="1"/><stop offset="0.4" stop-color="#3b528b" stop-opacity="0.85"/><stop offset="1" stop-color="#3b528b" stop-opacity="0"/></radialGradient>
<radialGradient id="ch1b6" cx="15.8" cy="167.9" r="6" gradientUnits="userSpaceOnUse"><stop offset="0" stop-color="#21918c" stop-opacity="1"/><stop offset="0.4" stop-color="#21918c" stop-opacity="0.85"/><stop offset="1" stop-color="#21918c" stop-opacity="0"/></radialGradient>
<radialGradient id="ch1b7" cx="19.8" cy="158.9" r="12" gradientUnits="userSpaceOnUse"><stop offset="0" stop-color="#2fb47c" stop-opacity="1"/><stop offset="0.4" stop-color="#2fb47c" stop-opacity="0.85"/><stop offset="1" stop-color="#2fb47c" stop-opacity="0"/></radialGradient>
<radialGradient id="ch1b8" cx="16.8" cy="163.9" r="7" gradientUnits="userSpaceOnUse"><stop offset="0" stop-color="#22a884" stop-opacity="1"/><stop offset="0.4" stop-color="#22a884" stop-opacity="0.85"/><stop offset="1" stop-color="#22a884" stop-opacity="0"/></radialGradient>
<radialGradient id="ch1b9" cx="25.8" cy="154.9" r="7" gradientUnits="userSpaceOnUse"><stop offset="0" stop-color="#29af7f" stop-opacity="1"/><stop offset="0.4" stop-color="#29af7f" stop-opacity="0.85"/><stop offset="1" stop-color="#29af7f" stop-opacity="0"/></radialGradient>
<radialGradient id="ch1b10" cx="19.8" cy="157.70000000000002" r="7" gradientUnits="userSpaceOnUse"><stop offset="0" stop-color="#7ad151" stop-opacity="1"/><stop offset="0.4" stop-color="#7ad151" stop-opacity="0.85"/><stop offset="1" stop-color="#7ad151" stop-opacity="0"/></radialGradient>
<radialGradient id="ch1b11" cx="19.6" cy="157.70000000000002" r="4.0" gradientUnits="userSpaceOnUse"><stop offset="0" stop-color="#f4e424" stop-opacity="1"/><stop offset="0.4" stop-color="#f4e424" stop-opacity="0.85"/><stop offset="1" stop-color="#f4e424" stop-opacity="0"/></radialGradient>
<radialGradient id="ch1b12" cx="42.8" cy="145.9" r="6" gradientUnits="userSpaceOnUse"><stop offset="0" stop-color="#3f4788" stop-opacity="1"/><stop offset="0.4" stop-color="#3f4788" stop-opacity="0.85"/><stop offset="1" stop-color="#3f4788" stop-opacity="0"/></radialGradient>
<radialGradient id="ch1b13" cx="48.8" cy="146.9" r="5" gradientUnits="userSpaceOnUse"><stop offset="0" stop-color="#46307e" stop-opacity="1"/><stop offset="0.4" stop-color="#46307e" stop-opacity="0.85"/><stop offset="1" stop-color="#46307e" stop-opacity="0"/></radialGradient>
<radialGradient id="ch1b14" cx="54.8" cy="144.9" r="6" gradientUnits="userSpaceOnUse"><stop offset="0" stop-color="#481769" stop-opacity="1"/><stop offset="0.4" stop-color="#481769" stop-opacity="0.85"/><stop offset="1" stop-color="#481769" stop-opacity="0"/></radialGradient>
<radialGradient id="ch1b15" cx="62.8" cy="146.9" r="7" gradientUnits="userSpaceOnUse"><stop offset="0" stop-color="#3e4a89" stop-opacity="1"/><stop offset="0.4" stop-color="#3e4a89" stop-opacity="0.85"/><stop offset="1" stop-color="#3e4a89" stop-opacity="0"/></radialGradient>
<radialGradient id="ch1b16" cx="66.8" cy="146.9" r="4" gradientUnits="userSpaceOnUse"><stop offset="0" stop-color="#3f4788" stop-opacity="1"/><stop offset="0.4" stop-color="#3f4788" stop-opacity="0.85"/><stop offset="1" stop-color="#3f4788" stop-opacity="0"/></radialGradient>
<radialGradient id="ch1b17" cx="42.8" cy="163.9" r="6" gradientUnits="userSpaceOnUse"><stop offset="0" stop-color="#414487" stop-opacity="1"/><stop offset="0.4" stop-color="#414487" stop-opacity="0.85"/><stop offset="1" stop-color="#414487" stop-opacity="0"/></radialGradient>
<radialGradient id="ch1b18" cx="41.8" cy="167.9" r="5" gradientUnits="userSpaceOnUse"><stop offset="0" stop-color="#3b528b" stop-opacity="1"/><stop offset="0.4" stop-color="#3b528b" stop-opacity="0.85"/><stop offset="1" stop-color="#3b528b" stop-opacity="0"/></radialGradient>
<radialGradient id="ch1b19" cx="53.8" cy="158.9" r="6" gradientUnits="userSpaceOnUse"><stop offset="0" stop-color="#450559" stop-opacity="1"/><stop offset="0.4" stop-color="#450559" stop-opacity="0.85"/><stop offset="1" stop-color="#450559" stop-opacity="0"/></radialGradient>
<radialGradient id="ch1b20" cx="62.8" cy="161.9" r="6" gradientUnits="userSpaceOnUse"><stop offset="0" stop-color="#482173" stop-opacity="1"/><stop offset="0.4" stop-color="#482173" stop-opacity="0.85"/><stop offset="1" stop-color="#482173" stop-opacity="0"/></radialGradient>
<radialGradient id="ch1b21" cx="64.8" cy="167.9" r="4" gradientUnits="userSpaceOnUse"><stop offset="0" stop-color="#46337f" stop-opacity="1"/><stop offset="0.4" stop-color="#46337f" stop-opacity="0.85"/><stop offset="1" stop-color="#46337f" stop-opacity="0"/></radialGradient>
<radialGradient id="ch1b22" cx="71.8" cy="145.9" r="7" gradientUnits="userSpaceOnUse"><stop offset="0" stop-color="#46085c" stop-opacity="1"/><stop offset="0.4" stop-color="#46085c" stop-opacity="0.85"/><stop offset="1" stop-color="#46085c" stop-opacity="0"/></radialGradient>
<radialGradient id="ch1b23" cx="80.8" cy="145.9" r="6" gradientUnits="userSpaceOnUse"><stop offset="0" stop-color="#482878" stop-opacity="1"/><stop offset="0.4" stop-color="#482878" stop-opacity="0.85"/><stop offset="1" stop-color="#482878" stop-opacity="0"/></radialGradient>
<radialGradient id="ch1b24" cx="91.8" cy="145.9" r="7" gradientUnits="userSpaceOnUse"><stop offset="0" stop-color="#2a788e" stop-opacity="1"/><stop offset="0.4" stop-color="#2a788e" stop-opacity="0.85"/><stop offset="1" stop-color="#2a788e" stop-opacity="0"/></radialGradient>
<radialGradient id="ch1b25" cx="94.8" cy="145.9" r="5" gradientUnits="userSpaceOnUse"><stop offset="0" stop-color="#27808e" stop-opacity="1"/><stop offset="0.4" stop-color="#27808e" stop-opacity="0.85"/><stop offset="1" stop-color="#27808e" stop-opacity="0"/></radialGradient>
<radialGradient id="ch1b26" cx="71.8" cy="159.9" r="7" gradientUnits="userSpaceOnUse"><stop offset="0" stop-color="#3e4a89" stop-opacity="1"/><stop offset="0.4" stop-color="#3e4a89" stop-opacity="0.85"/><stop offset="1" stop-color="#3e4a89" stop-opacity="0"/></radialGradient>
<radialGradient id="ch1b27" cx="82.8" cy="159.9" r="6" gradientUnits="userSpaceOnUse"><stop offset="0" stop-color="#365d8d" stop-opacity="1"/><stop offset="0.4" stop-color="#365d8d" stop-opacity="0.85"/><stop offset="1" stop-color="#365d8d" stop-opacity="0"/></radialGradient>
<radialGradient id="ch1b28" cx="92.8" cy="157.9" r="6" gradientUnits="userSpaceOnUse"><stop offset="0" stop-color="#3f4788" stop-opacity="1"/><stop offset="0.4" stop-color="#3f4788" stop-opacity="0.85"/><stop offset="1" stop-color="#3f4788" stop-opacity="0"/></radialGradient>
<radialGradient id="ch1b29" cx="93.8" cy="166.9" r="5" gradientUnits="userSpaceOnUse"><stop offset="0" stop-color="#2d708e" stop-opacity="1"/><stop offset="0.4" stop-color="#2d708e" stop-opacity="0.85"/><stop offset="1" stop-color="#2d708e" stop-opacity="0"/></radialGradient>
<clipPath id="ch2"><path d="M113.30,141.90h8.80v27.70h-8.80zM130.40,141.90h10.10v27.70h-10.10zM122.10,150.30h8.30v11.00h-8.30zM142.00,141.90h27.20v8.70h-27.20zM142.00,150.60h9.60v19.00h-9.60zM160.90,150.60h8.30v19.00h-8.30zM151.60,156.10h9.30v5.60h-9.30zM171.10,141.90h27.20v9.00h-27.20zM171.10,150.90h6.70v18.70h-6.70zM181.50,150.90h7.00v18.70h-7.00zM191.90,150.90h6.40v18.70h-6.40z"/></clipPath>
<radialGradient id="ch2b0" cx="117.3" cy="146.9" r="7" gradientUnits="userSpaceOnUse"><stop offset="0" stop-color="#2c718e" stop-opacity="1"/><stop offset="0.4" stop-color="#2c718e" stop-opacity="0.85"/><stop offset="1" stop-color="#2c718e" stop-opacity="0"/></radialGradient>
<radialGradient id="ch2b1" cx="117.3" cy="163.9" r="7" gradientUnits="userSpaceOnUse"><stop offset="0" stop-color="#3e4a89" stop-opacity="1"/><stop offset="0.4" stop-color="#3e4a89" stop-opacity="0.85"/><stop offset="1" stop-color="#3e4a89" stop-opacity="0"/></radialGradient>
<radialGradient id="ch2b2" cx="118.3" cy="167.9" r="5" gradientUnits="userSpaceOnUse"><stop offset="0" stop-color="#414487" stop-opacity="1"/><stop offset="0.4" stop-color="#414487" stop-opacity="0.85"/><stop offset="1" stop-color="#414487" stop-opacity="0"/></radialGradient>
<radialGradient id="ch2b3" cx="126.3" cy="155.9" r="7" gradientUnits="userSpaceOnUse"><stop offset="0" stop-color="#3b528b" stop-opacity="1"/><stop offset="0.4" stop-color="#3b528b" stop-opacity="0.85"/><stop offset="1" stop-color="#3b528b" stop-opacity="0"/></radialGradient>
<radialGradient id="ch2b4" cx="129.3" cy="157.9" r="5" gradientUnits="userSpaceOnUse"><stop offset="0" stop-color="#433e85" stop-opacity="1"/><stop offset="0.4" stop-color="#433e85" stop-opacity="0.85"/><stop offset="1" stop-color="#433e85" stop-opacity="0"/></radialGradient>
<radialGradient id="ch2b5" cx="136.3" cy="146.9" r="7" gradientUnits="userSpaceOnUse"><stop offset="0" stop-color="#2a788e" stop-opacity="1"/><stop offset="0.4" stop-color="#2a788e" stop-opacity="0.85"/><stop offset="1" stop-color="#2a788e" stop-opacity="0"/></radialGradient>
<radialGradient id="ch2b6" cx="136.3" cy="163.9" r="7" gradientUnits="userSpaceOnUse"><stop offset="0" stop-color="#22908c" stop-opacity="1"/><stop offset="0.4" stop-color="#22908c" stop-opacity="0.85"/><stop offset="1" stop-color="#22908c" stop-opacity="0"/></radialGradient>
<radialGradient id="ch2b7" cx="146.3" cy="147.9" r="8" gradientUnits="userSpaceOnUse"><stop offset="0" stop-color="#35b779" stop-opacity="1"/><stop offset="0.4" stop-color="#35b779" stop-opacity="0.85"/><stop offset="1" stop-color="#35b779" stop-opacity="0"/></radialGradient>
<radialGradient id="ch2b8" cx="145.3" cy="146.9" r="5" gradientUnits="userSpaceOnUse"><stop offset="0" stop-color="#5ec962" stop-opacity="1"/><stop offset="0.4" stop-color="#5ec962" stop-opacity="0.85"/><stop offset="1" stop-color="#5ec962" stop-opacity="0"/></radialGradient>
<radialGradient id="ch2b9" cx="154.3" cy="146.9" r="6" gradientUnits="userSpaceOnUse"><stop offset="0" stop-color="#21918c" stop-opacity="1"/><stop offset="0.4" stop-color="#21918c" stop-opacity="0.85"/><stop offset="1" stop-color="#21918c" stop-opacity="0"/></radialGradient>
<radialGradient id="ch2b10" cx="146.3" cy="163.9" r="8" gradientUnits="userSpaceOnUse"><stop offset="0" stop-color="#1f9e89" stop-opacity="1"/><stop offset="0.4" stop-color="#1f9e89" stop-opacity="0.85"/><stop offset="1" stop-color="#1f9e89" stop-opacity="0"/></radialGradient>
<radialGradient id="ch2b11" cx="156.3" cy="158.9" r="6" gradientUnits="userSpaceOnUse"><stop offset="0" stop-color="#21918c" stop-opacity="1"/><stop offset="0.4" stop-color="#21918c" stop-opacity="0.85"/><stop offset="1" stop-color="#21918c" stop-opacity="0"/></radialGradient>
<radialGradient id="ch2b12" cx="166.3" cy="163.9" r="6" gradientUnits="userSpaceOnUse"><stop offset="0" stop-color="#22a884" stop-opacity="1"/><stop offset="0.4" stop-color="#22a884" stop-opacity="0.85"/><stop offset="1" stop-color="#22a884" stop-opacity="0"/></radialGradient>
<radialGradient id="ch2b13" cx="164.3" cy="147.9" r="7" gradientUnits="userSpaceOnUse"><stop offset="0" stop-color="#b5de2b" stop-opacity="1"/><stop offset="0.4" stop-color="#b5de2b" stop-opacity="0.85"/><stop offset="1" stop-color="#b5de2b" stop-opacity="0"/></radialGradient>
<radialGradient id="ch2b14" cx="164.3" cy="146.4" r="4" gradientUnits="userSpaceOnUse"><stop offset="0" stop-color="#fde725" stop-opacity="1"/><stop offset="0.4" stop-color="#fde725" stop-opacity="0.85"/><stop offset="1" stop-color="#fde725" stop-opacity="0"/></radialGradient>
<radialGradient id="ch2b15" cx="164.3" cy="145.9" r="2.5" gradientUnits="userSpaceOnUse"><stop offset="0" stop-color="#fde725" stop-opacity="1"/><stop offset="0.4" stop-color="#fde725" stop-opacity="0.85"/><stop offset="1" stop-color="#fde725" stop-opacity="0"/></radialGradient>
<radialGradient id="ch2b16" cx="165.3" cy="154.4" r="4" gradientUnits="userSpaceOnUse"><stop offset="0" stop-color="#440154" stop-opacity="1"/><stop offset="0.4" stop-color="#440154" stop-opacity="0.85"/><stop offset="1" stop-color="#440154" stop-opacity="0"/></radialGradient>
<radialGradient id="ch2b17" cx="174.3" cy="146.9" r="7" gradientUnits="userSpaceOnUse"><stop offset="0" stop-color="#482878" stop-opacity="1"/><stop offset="0.4" stop-color="#482878" stop-opacity="0.85"/><stop offset="1" stop-color="#482878" stop-opacity="0"/></radialGradient>
<radialGradient id="ch2b18" cx="184.3" cy="146.9" r="6" gradientUnits="userSpaceOnUse"><stop offset="0" stop-color="#2c728e" stop-opacity="1"/><stop offset="0.4" stop-color="#2c728e" stop-opacity="0.85"/><stop offset="1" stop-color="#2c728e" stop-opacity="0"/></radialGradient>
<radialGradient id="ch2b19" cx="195.3" cy="146.9" r="7" gradientUnits="userSpaceOnUse"><stop offset="0" stop-color="#3b528b" stop-opacity="1"/><stop offset="0.4" stop-color="#3b528b" stop-opacity="0.85"/><stop offset="1" stop-color="#3b528b" stop-opacity="0"/></radialGradient>
<radialGradient id="ch2b20" cx="174.3" cy="165.9" r="5" gradientUnits="userSpaceOnUse"><stop offset="0" stop-color="#440154" stop-opacity="1"/><stop offset="0.4" stop-color="#440154" stop-opacity="0.85"/><stop offset="1" stop-color="#440154" stop-opacity="0"/></radialGradient>
<radialGradient id="ch2b21" cx="174.3" cy="157.9" r="5" gradientUnits="userSpaceOnUse"><stop offset="0" stop-color="#46327e" stop-opacity="1"/><stop offset="0.4" stop-color="#46327e" stop-opacity="0.85"/><stop offset="1" stop-color="#46327e" stop-opacity="0"/></radialGradient>
<radialGradient id="ch2b22" cx="184.3" cy="160.9" r="6" gradientUnits="userSpaceOnUse"><stop offset="0" stop-color="#31688e" stop-opacity="1"/><stop offset="0.4" stop-color="#31688e" stop-opacity="0.85"/><stop offset="1" stop-color="#31688e" stop-opacity="0"/></radialGradient>
<radialGradient id="ch2b23" cx="195.3" cy="160.9" r="6" gradientUnits="userSpaceOnUse"><stop offset="0" stop-color="#433e85" stop-opacity="1"/><stop offset="0.4" stop-color="#433e85" stop-opacity="0.85"/><stop offset="1" stop-color="#433e85" stop-opacity="0"/></radialGradient>
<clipPath id="ch3"><path d="M216.30,141.90h8.80v27.70h-8.80zM233.40,141.90h10.10v27.70h-10.10zM225.10,150.30h8.30v11.00h-8.30zM245.00,141.90h27.20v8.70h-27.20zM245.00,150.60h9.60v19.00h-9.60zM263.90,150.60h8.30v19.00h-8.30zM254.60,156.10h9.30v5.60h-9.30zM274.10,141.90h27.20v9.00h-27.20zM274.10,150.90h6.70v18.70h-6.70zM284.50,150.90h7.00v18.70h-7.00zM294.90,150.90h6.40v18.70h-6.40z"/></clipPath>
<radialGradient id="ch3b0" cx="221.3" cy="146.9" r="7" gradientUnits="userSpaceOnUse"><stop offset="0" stop-color="#2c728e" stop-opacity="1"/><stop offset="0.4" stop-color="#2c728e" stop-opacity="0.85"/><stop offset="1" stop-color="#2c728e" stop-opacity="0"/></radialGradient>
<radialGradient id="ch3b1" cx="219.3" cy="155.9" r="5" gradientUnits="userSpaceOnUse"><stop offset="0" stop-color="#46307e" stop-opacity="1"/><stop offset="0.4" stop-color="#46307e" stop-opacity="0.85"/><stop offset="1" stop-color="#46307e" stop-opacity="0"/></radialGradient>
<radialGradient id="ch3b2" cx="228.3" cy="157.9" r="9" gradientUnits="userSpaceOnUse"><stop offset="0" stop-color="#1f9e89" stop-opacity="1"/><stop offset="0.4" stop-color="#1f9e89" stop-opacity="0.85"/><stop offset="1" stop-color="#1f9e89" stop-opacity="0"/></radialGradient>
<radialGradient id="ch3b3" cx="227.3" cy="156.9" r="5" gradientUnits="userSpaceOnUse"><stop offset="0" stop-color="#29af7f" stop-opacity="1"/><stop offset="0.4" stop-color="#29af7f" stop-opacity="0.85"/><stop offset="1" stop-color="#29af7f" stop-opacity="0"/></radialGradient>
<radialGradient id="ch3b4" cx="220.3" cy="166.9" r="6" gradientUnits="userSpaceOnUse"><stop offset="0" stop-color="#3b528b" stop-opacity="1"/><stop offset="0.4" stop-color="#3b528b" stop-opacity="0.85"/><stop offset="1" stop-color="#3b528b" stop-opacity="0"/></radialGradient>
<radialGradient id="ch3b5" cx="239.3" cy="146.9" r="7" gradientUnits="userSpaceOnUse"><stop offset="0" stop-color="#2a788e" stop-opacity="1"/><stop offset="0.4" stop-color="#2a788e" stop-opacity="0.85"/><stop offset="1" stop-color="#2a788e" stop-opacity="0"/></radialGradient>
<radialGradient id="ch3b6" cx="242.3" cy="154.9" r="3.5" gradientUnits="userSpaceOnUse"><stop offset="0" stop-color="#440154" stop-opacity="1"/><stop offset="0.4" stop-color="#440154" stop-opacity="0.85"/><stop offset="1" stop-color="#440154" stop-opacity="0"/></radialGradient>
<radialGradient id="ch3b7" cx="239.3" cy="164.9" r="7" gradientUnits="userSpaceOnUse"><stop offset="0" stop-color="#2db27d" stop-opacity="1"/><stop offset="0.4" stop-color="#2db27d" stop-opacity="0.85"/><stop offset="1" stop-color="#2db27d" stop-opacity="0"/></radialGradient>
<radialGradient id="ch3b8" cx="248.3" cy="146.9" r="7" gradientUnits="userSpaceOnUse"><stop offset="0" stop-color="#31688e" stop-opacity="1"/><stop offset="0.4" stop-color="#31688e" stop-opacity="0.85"/><stop offset="1" stop-color="#31688e" stop-opacity="0"/></radialGradient>
<radialGradient id="ch3b9" cx="247.3" cy="157.9" r="6" gradientUnits="userSpaceOnUse"><stop offset="0" stop-color="#472d7b" stop-opacity="1"/><stop offset="0.4" stop-color="#472d7b" stop-opacity="0.85"/><stop offset="1" stop-color="#472d7b" stop-opacity="0"/></radialGradient>
<radialGradient id="ch3b10" cx="247.3" cy="166.9" r="6" gradientUnits="userSpaceOnUse"><stop offset="0" stop-color="#3b528b" stop-opacity="1"/><stop offset="0.4" stop-color="#3b528b" stop-opacity="0.85"/><stop offset="1" stop-color="#3b528b" stop-opacity="0"/></radialGradient>
<radialGradient id="ch3b11" cx="260.3" cy="146.9" r="7" gradientUnits="userSpaceOnUse"><stop offset="0" stop-color="#2a788e" stop-opacity="1"/><stop offset="0.4" stop-color="#2a788e" stop-opacity="0.85"/><stop offset="1" stop-color="#2a788e" stop-opacity="0"/></radialGradient>
<radialGradient id="ch3b12" cx="259.3" cy="157.9" r="5" gradientUnits="userSpaceOnUse"><stop offset="0" stop-color="#3b528b" stop-opacity="1"/><stop offset="0.4" stop-color="#3b528b" stop-opacity="0.85"/><stop offset="1" stop-color="#3b528b" stop-opacity="0"/></radialGradient>
<radialGradient id="ch3b13" cx="269.3" cy="155.9" r="6" gradientUnits="userSpaceOnUse"><stop offset="0" stop-color="#21918c" stop-opacity="1"/><stop offset="0.4" stop-color="#21918c" stop-opacity="0.85"/><stop offset="1" stop-color="#21918c" stop-opacity="0"/></radialGradient>
<radialGradient id="ch3b14" cx="269.3" cy="166.9" r="5" gradientUnits="userSpaceOnUse"><stop offset="0" stop-color="#440154" stop-opacity="1"/><stop offset="0.4" stop-color="#440154" stop-opacity="0.85"/><stop offset="1" stop-color="#440154" stop-opacity="0"/></radialGradient>
<radialGradient id="ch3b15" cx="277.3" cy="146.9" r="7" gradientUnits="userSpaceOnUse"><stop offset="0" stop-color="#471063" stop-opacity="1"/><stop offset="0.4" stop-color="#471063" stop-opacity="0.85"/><stop offset="1" stop-color="#471063" stop-opacity="0"/></radialGradient>
<radialGradient id="ch3b16" cx="276.3" cy="159.9" r="6" gradientUnits="userSpaceOnUse"><stop offset="0" stop-color="#46327e" stop-opacity="1"/><stop offset="0.4" stop-color="#46327e" stop-opacity="0.85"/><stop offset="1" stop-color="#46327e" stop-opacity="0"/></radialGradient>
<radialGradient id="ch3b17" cx="277.3" cy="166.9" r="5" gradientUnits="userSpaceOnUse"><stop offset="0" stop-color="#3e4a89" stop-opacity="1"/><stop offset="0.4" stop-color="#3e4a89" stop-opacity="0.85"/><stop offset="1" stop-color="#3e4a89" stop-opacity="0"/></radialGradient>
<radialGradient id="ch3b18" cx="286.3" cy="145.9" r="6" gradientUnits="userSpaceOnUse"><stop offset="0" stop-color="#2c728e" stop-opacity="1"/><stop offset="0.4" stop-color="#2c728e" stop-opacity="0.85"/><stop offset="1" stop-color="#2c728e" stop-opacity="0"/></radialGradient>
<radialGradient id="ch3b19" cx="286.3" cy="159.9" r="6" gradientUnits="userSpaceOnUse"><stop offset="0" stop-color="#3b528b" stop-opacity="1"/><stop offset="0.4" stop-color="#3b528b" stop-opacity="0.85"/><stop offset="1" stop-color="#3b528b" stop-opacity="0"/></radialGradient>
<radialGradient id="ch3b20" cx="291.3" cy="148.9" r="6" gradientUnits="userSpaceOnUse"><stop offset="0" stop-color="#5ec962" stop-opacity="1"/><stop offset="0.4" stop-color="#5ec962" stop-opacity="0.85"/><stop offset="1" stop-color="#5ec962" stop-opacity="0"/></radialGradient>
<radialGradient id="ch3b21" cx="296.3" cy="146.9" r="5" gradientUnits="userSpaceOnUse"><stop offset="0" stop-color="#7ad151" stop-opacity="1"/><stop offset="0.4" stop-color="#7ad151" stop-opacity="0.85"/><stop offset="1" stop-color="#7ad151" stop-opacity="0"/></radialGradient>
<radialGradient id="ch3b22" cx="300.3" cy="145.9" r="6" gradientUnits="userSpaceOnUse"><stop offset="0" stop-color="#a0da39" stop-opacity="1"/><stop offset="0.4" stop-color="#a0da39" stop-opacity="0.85"/><stop offset="1" stop-color="#a0da39" stop-opacity="0"/></radialGradient>
<radialGradient id="ch3b23" cx="299.3" cy="152.9" r="8" gradientUnits="userSpaceOnUse"><stop offset="0" stop-color="#c8e020" stop-opacity="1"/><stop offset="0.4" stop-color="#c8e020" stop-opacity="0.85"/><stop offset="1" stop-color="#c8e020" stop-opacity="0"/></radialGradient>
<radialGradient id="ch3b24" cx="300.3" cy="152.9" r="4.5" gradientUnits="userSpaceOnUse"><stop offset="0" stop-color="#fde725" stop-opacity="1"/><stop offset="0.4" stop-color="#fde725" stop-opacity="0.85"/><stop offset="1" stop-color="#fde725" stop-opacity="0"/></radialGradient>
<radialGradient id="ch3b25" cx="298.3" cy="159.9" r="5" gradientUnits="userSpaceOnUse"><stop offset="0" stop-color="#b8de29" stop-opacity="1"/><stop offset="0.4" stop-color="#b8de29" stop-opacity="0.85"/><stop offset="1" stop-color="#b8de29" stop-opacity="0"/></radialGradient>
<radialGradient id="ch3b26" cx="298.3" cy="166.9" r="5" gradientUnits="userSpaceOnUse"><stop offset="0" stop-color="#2a788e" stop-opacity="1"/><stop offset="0.4" stop-color="#2a788e" stop-opacity="0.85"/><stop offset="1" stop-color="#2a788e" stop-opacity="0"/></radialGradient>
<radialGradient id="ch3b27" cx="299.3" cy="168.9" r="3" gradientUnits="userSpaceOnUse"><stop offset="0" stop-color="#25858e" stop-opacity="1"/><stop offset="0.4" stop-color="#25858e" stop-opacity="0.85"/><stop offset="1" stop-color="#25858e" stop-opacity="0"/></radialGradient>
<clipPath id="tri480"><polygon points="480.4,164.3 423.59999999999997,262.2 537.1999999999999,262.2"/></clipPath>
<clipPath id="tri617"><polygon points="617.4,164.0 560.6,262.2 674.1999999999999,262.2"/></clipPath>
</defs>
<rect width="685" height="277" fill="#fff"/>
<text x="0" y="8.8" font-size="10" font-weight="bold" fill="#000">a</text>
<text x="0" y="83" font-size="10" font-weight="bold" fill="#000">b</text>
<text x="0" y="138.6" font-size="10" font-weight="bold" fill="#000">c</text>
<text x="0" y="208.5" font-size="10" font-weight="bold" fill="#000">d</text>
<text x="294.6" y="8.8" font-size="10" font-weight="bold" fill="#000">e</text>
<svg x="27.7" y="5.7" width="27.2" height="27.2" overflow="hidden"><g filter="url(#pblur)">
<rect width="27.2" height="27.2" fill="#161616"/>
<ellipse cx="8" cy="5" rx="8" ry="5" fill="#2a2a2a"/><ellipse cx="14" cy="25" rx="14" ry="3" fill="#2e2e2e"/>
<path d="M2.8,15.5 C2.5,12 4,9.5 6.4,9.2 C9,8.8 12,8.6 14.4,8.1 C16,6 17,4 18.5,2.5 L20.3,1.8 L21.2,3.5 L22.3,6.6 L21,7.3 L19.6,6 C19.2,8.5 19.8,11 19.2,13.3 L20.2,16 L21.5,20.8 L20.6,21.2 L18.9,17 L18.4,17.2 L18.6,24.3 L17.4,24.4 L16.8,17.2 C14,17.6 11,17.6 9.6,17.2 L9.6,24.8 L8.5,24.8 L8,18.5 L6.5,23 L5.4,23 L6.2,17.5 C5.2,16 4.8,14 4.8,12.4 C4,13.5 3.5,14.5 3.6,15.6 Z" fill="url(#horseg)"/>
</g></svg>
<svg x="127.7" y="5.7" width="27.8" height="27.8" overflow="hidden"><g filter="url(#pblur)">
<rect width="27.8" height="27.8" fill="#1e1e1e"/>
<polygon points="15,0 28,0 28,10" fill="#a8a8a8"/>
<ellipse cx="1.5" cy="12" rx="5.5" ry="12" fill="#2c2c2c"/><ellipse cx="2.5" cy="6" rx="3" ry="4" fill="#4a4a4a"/>
<ellipse cx="11" cy="6" rx="9" ry="6" fill="#333"/>
<ellipse cx="13" cy="18.5" rx="12" ry="10" fill="url(#appleg)"/>
<ellipse cx="20" cy="11" rx="4.5" ry="2.2" fill="#151515"/>
<ellipse cx="25.5" cy="24" rx="5" ry="7" fill="#1a1a1a"/>
<path d="M19.5,10.5 L24.5,3.8" stroke="#0c0c0c" stroke-width="1.5"/>
<rect x="11.8" y="0" width="1.3" height="2.5" fill="#111"/>
</g></svg>
<svg x="227.4" y="5.7" width="27.5" height="27.2" overflow="hidden"><g filter="url(#pblur)">
<rect width="27.5" height="27.2" fill="#141414"/>
<ellipse cx="13" cy="23" rx="5" ry="3" fill="#4a4a4a"/><ellipse cx="20" cy="22" rx="4" ry="2" fill="#3a3a3a"/><ellipse cx="23" cy="4" rx="3" ry="4" fill="#262626"/>
<ellipse cx="8" cy="10" rx="6" ry="2.6" fill="#bcbcbc" transform="rotate(-30 8 10)"/>
<ellipse cx="13" cy="7" rx="5" ry="3" fill="#a4a4a4" transform="rotate(-80 13 7)"/>
<ellipse cx="19" cy="9" rx="6" ry="2.6" fill="#cfcfcf" transform="rotate(20 19 9)"/>
<ellipse cx="20" cy="14" rx="6" ry="2.2" fill="#c6c6c6" transform="rotate(10 20 14)"/>
<ellipse cx="14" cy="15" rx="5" ry="2.6" fill="#b0b0b0" transform="rotate(0 14 15)"/>
<ellipse cx="7" cy="15.5" rx="6" ry="2.6" fill="#e6e6e6" transform="rotate(10 7 15.5)"/>
<ellipse cx="12" cy="12" rx="3.5" ry="3" fill="#d6d6d6" transform="rotate(0 12 12)"/>
<ellipse cx="9" cy="16.3" rx="3" ry="1.3" fill="#f6f6f6" transform="rotate(5 9 16.3)"/>
</g></svg>
<text x="57.9" y="22.6" font-size="7.7" fill="#231f20" textLength="19.6" lengthAdjust="spacingAndGlyphs">Horse</text>
<text x="159.9" y="21.6" font-size="7.9" fill="#231f20" textLength="24.0" lengthAdjust="spacingAndGlyphs">Apples</text>
<text x="259.0" y="21.1" font-size="7.9" fill="#231f20" textLength="31.9" lengthAdjust="spacingAndGlyphs">Magnolia</text>
<text x="148.2" y="58.8" font-size="11" style="font-family:'Liberation Serif',serif;font-style:italic;stroke-width:0.1px" fill="#231f20">θ</text>
<line x1="85.7" y1="36.1" x2="128.75" y2="49.92" stroke="#231f20" stroke-width="0.75"/>
<polygon points="131.80,50.90 128.33,51.25 129.18,48.59" fill="#231f20"/>
<line x1="151.5" y1="35.8" x2="151.50" y2="45.00" stroke="#231f20" stroke-width="0.75"/>
<polygon points="151.50,48.20 150.10,45.00 152.90,45.00" fill="#231f20"/>
<line x1="220.6" y1="36.1" x2="177.44" y2="50.21" stroke="#231f20" stroke-width="0.75"/>
<polygon points="174.40,51.20 177.01,48.88 177.88,51.54" fill="#231f20"/>
<line x1="131.8" y1="59.9" x2="89.48" y2="72.02" stroke="#231f20" stroke-width="0.75"/>
<polygon points="86.40,72.90 89.09,70.67 89.86,73.37" fill="#231f20"/>
<line x1="151.6" y1="62.4" x2="151.60" y2="70.40" stroke="#231f20" stroke-width="0.75"/>
<polygon points="151.60,73.60 150.20,70.40 153.00,70.40" fill="#231f20"/>
<line x1="174.2" y1="59.9" x2="217.23" y2="72.31" stroke="#231f20" stroke-width="0.75"/>
<polygon points="220.30,73.20 216.84,73.66 217.61,70.97" fill="#231f20"/>
<rect x="22.90" y="77.90" width="4.9" height="8.80" fill="#b3b3b3"/>
<rect x="29.95" y="84.90" width="4.9" height="1.80" fill="#b3b3b3"/>
<rect x="37.00" y="85.50" width="4.9" height="1.20" fill="#b3b3b3"/>
<rect x="44.05" y="85.50" width="4.9" height="1.20" fill="#b3b3b3"/>
<rect x="51.10" y="84.00" width="4.9" height="2.70" fill="#b3b3b3"/>
<rect x="58.15" y="82.60" width="4.9" height="4.10" fill="#b3b3b3"/>
<rect x="65.20" y="85.50" width="4.9" height="1.20" fill="#b3b3b3"/>
<rect x="72.25" y="80.60" width="4.9" height="6.10" fill="#b3b3b3"/>
<rect x="79.30" y="73.30" width="4.9" height="13.40" fill="#b3b3b3"/>
<rect x="123.80" y="86.10" width="4.9" height="1.50" fill="#b3b3b3"/>
<rect x="130.85" y="74.10" width="4.9" height="13.50" fill="#b3b3b3"/>
<rect x="137.90" y="86.10" width="4.9" height="1.50" fill="#b3b3b3"/>
<rect x="144.95" y="81.10" width="4.9" height="6.50" fill="#b3b3b3"/>
<rect x="152.00" y="86.10" width="4.9" height="1.50" fill="#b3b3b3"/>
<rect x="159.05" y="81.10" width="4.9" height="6.50" fill="#b3b3b3"/>
<rect x="166.10" y="86.60" width="4.9" height="1.00" fill="#b3b3b3"/>
<rect x="173.15" y="86.60" width="4.9" height="1.00" fill="#b3b3b3"/>
<rect x="180.20" y="86.60" width="4.9" height="1.00" fill="#b3b3b3"/>
<rect x="226.80" y="81.80" width="4.9" height="5.70" fill="#b3b3b3"/>
<rect x="233.85" y="86.20" width="4.9" height="1.30" fill="#b3b3b3"/>
<rect x="240.90" y="85.20" width="4.9" height="2.30" fill="#b3b3b3"/>
<rect x="247.95" y="86.20" width="4.9" height="1.30" fill="#b3b3b3"/>
<rect x="255.00" y="86.20" width="4.9" height="1.30" fill="#b3b3b3"/>
<rect x="262.05" y="86.20" width="4.9" height="1.30" fill="#b3b3b3"/>
<rect x="269.10" y="83.90" width="4.9" height="3.60" fill="#b3b3b3"/>
<rect x="276.15" y="74.80" width="4.9" height="12.70" fill="#b3b3b3"/>
<rect x="283.20" y="83.90" width="4.9" height="3.60" fill="#b3b3b3"/>
<text x="22.0" y="95.4" font-size="6.3" fill="#231f20" textLength="67.5" lengthAdjust="spacingAndGlyphs">[0][1][2][3][4][5][6][7][8]...</text>
<text x="122.9" y="95.8" font-size="6.3" fill="#231f20" textLength="67.5" lengthAdjust="spacingAndGlyphs">[0][1][2][3][4][5][6][7][8]...</text>
<text x="226.0" y="95.8" font-size="6.3" fill="#231f20" textLength="67.5" lengthAdjust="spacingAndGlyphs">[0][1][2][3][4][5][6][7][8]...</text>
<rect x="9.9" y="99.0" width="85.3" height="28.2" fill="url(#noise)" filter="url(#nblur)"/>
<rect x="18.90" y="99.00" width="9" height="7.4" fill="#fff"/>
<rect x="18.90" y="119.60" width="9" height="7.6" fill="#fff"/>
<rect x="48.00" y="109.20" width="9.2" height="3.6" fill="#fff"/>
<rect x="48.30" y="119.00" width="8.9" height="8.2" fill="#fff"/>
<rect x="74.40" y="108.00" width="3.7" height="19.2" fill="#fff"/>
<rect x="83.90" y="108.00" width="4.0" height="19.2" fill="#fff"/>
<rect x="38.40" y="99.0" width="0.8" height="28.2" fill="#b4b4b4"/>
<rect x="67.30" y="99.0" width="0.8" height="28.2" fill="#b4b4b4"/>
<rect x="112.6" y="99.0" width="85.3" height="28.2" fill="url(#noise)" filter="url(#nblur)"/>
<rect x="121.60" y="99.00" width="9" height="7.4" fill="#fff"/>
<rect x="121.60" y="119.60" width="9" height="7.6" fill="#fff"/>
<rect x="150.70" y="109.20" width="9.2" height="3.6" fill="#fff"/>
<rect x="151.00" y="119.00" width="8.9" height="8.2" fill="#fff"/>
<rect x="177.10" y="108.00" width="3.7" height="19.2" fill="#fff"/>
<rect x="186.60" y="108.00" width="4.0" height="19.2" fill="#fff"/>
<rect x="141.10" y="99.0" width="0.8" height="28.2" fill="#b4b4b4"/>
<rect x="170.00" y="99.0" width="0.8" height="28.2" fill="#b4b4b4"/>
<rect x="215.3" y="99.0" width="85.3" height="28.2" fill="url(#noise)" filter="url(#nblur)"/>
<rect x="224.30" y="99.00" width="9" height="7.4" fill="#fff"/>
<rect x="224.30" y="119.60" width="9" height="7.6" fill="#fff"/>
<rect x="253.40" y="109.20" width="9.2" height="3.6" fill="#fff"/>
<rect x="253.70" y="119.00" width="8.9" height="8.2" fill="#fff"/>
<rect x="279.80" y="108.00" width="3.7" height="19.2" fill="#fff"/>
<rect x="289.30" y="108.00" width="4.0" height="19.2" fill="#fff"/>
<rect x="243.80" y="99.0" width="0.8" height="28.2" fill="#b4b4b4"/>
<rect x="272.70" y="99.0" width="0.8" height="28.2" fill="#b4b4b4"/>
<rect x="29.1" y="133.3" width="4" height="4" fill="#000"/>
<text x="37.2" y="137.6" font-size="7.6" fill="#231f20" textLength="19.5" lengthAdjust="spacing">17 nM</text>
<rect x="65.2" y="133.8" width="3.2" height="3.3" fill="#fff" stroke="#555" stroke-width="0.6"/>
<text x="71.1" y="137.6" font-size="7.6" fill="#231f20" textLength="25.0" lengthAdjust="spacing">460 nM</text>
<rect x="112.4" y="133.2" width="3.8" height="3.8" fill="#440154" stroke="#333" stroke-width="0.3"/>
<text x="116.6" y="137.6" font-size="7.6" fill="#231f20" textLength="35.4" lengthAdjust="spacing">10<tspan dy="-2.9" font-size="5.6">−20</tspan><tspan dy="2.9"> M s</tspan><tspan dy="-2.9" font-size="5.6">−1</tspan></text>
<rect x="160.8" y="133.2" width="3.8" height="3.8" fill="#2a6f96" stroke="#333" stroke-width="0.3"/>
<text x="165.0" y="137.6" font-size="7.6" fill="#231f20" textLength="36.0" lengthAdjust="spacing">10<tspan dy="-2.9" font-size="5.6">−16</tspan><tspan dy="2.9"> M s</tspan><tspan dy="-2.9" font-size="5.6">−1</tspan></text>
<rect x="216.1" y="133.2" width="3.8" height="3.8" fill="#2fb47c" stroke="#333" stroke-width="0.3"/>
<text x="220.7" y="137.6" font-size="7.6" fill="#231f20" textLength="37.8" lengthAdjust="spacing">10<tspan dy="-2.9" font-size="5.6">−13</tspan><tspan dy="2.9"> M s</tspan><tspan dy="-2.9" font-size="5.6">−1</tspan></text>
<rect x="264.0" y="133.2" width="3.8" height="3.8" fill="#f0e020" stroke="#333" stroke-width="0.3"/>
<text x="268.7" y="137.6" font-size="7.6" fill="#231f20" textLength="33.6" lengthAdjust="spacing">10<tspan dy="-2.9" font-size="5.6">−9</tspan><tspan dy="2.9"> M s</tspan><tspan dy="-2.9" font-size="5.6">−1</tspan></text>
<g clip-path="url(#ch1)">
<rect x="10.8" y="141.9" width="28.5" height="28" fill="#3b528b"/>
<rect x="39.3" y="141.9" width="28.9" height="28" fill="#46337f"/>
<rect x="68.2" y="141.9" width="28.6" height="28" fill="#433e85"/>
<rect x="6.80" y="138.90" width="14" height="14" fill="url(#ch1b0)"/>
<rect x="15.80" y="139.90" width="10" height="10" fill="url(#ch1b1)"/>
<rect x="26.80" y="139.90" width="16" height="16" fill="url(#ch1b2)"/>
<rect x="29.80" y="139.90" width="10" height="10" fill="url(#ch1b3)"/>
<rect x="19.80" y="147.90" width="10" height="10" fill="url(#ch1b4)"/>
<rect x="27.80" y="156.90" width="14" height="14" fill="url(#ch1b5)"/>
<rect x="9.80" y="161.90" width="12" height="12" fill="url(#ch1b6)"/>
<rect x="7.80" y="146.90" width="24" height="24" fill="url(#ch1b7)"/>
<rect x="9.80" y="156.90" width="14" height="14" fill="url(#ch1b8)"/>
<rect x="18.80" y="147.90" width="14" height="14" fill="url(#ch1b9)"/>
<rect x="12.80" y="150.70" width="14" height="14" fill="url(#ch1b10)"/>
<rect x="15.60" y="153.70" width="8.0" height="8.0" fill="url(#ch1b11)"/>
<rect x="36.80" y="139.90" width="12" height="12" fill="url(#ch1b12)"/>
<rect x="43.80" y="141.90" width="10" height="10" fill="url(#ch1b13)"/>
<rect x="48.80" y="138.90" width="12" height="12" fill="url(#ch1b14)"/>
<rect x="55.80" y="139.90" width="14" height="14" fill="url(#ch1b15)"/>
<rect x="62.80" y="142.90" width="8" height="8" fill="url(#ch1b16)"/>
<rect x="36.80" y="157.90" width="12" height="12" fill="url(#ch1b17)"/>
<rect x="36.80" y="162.90" width="10" height="10" fill="url(#ch1b18)"/>
<rect x="47.80" y="152.90" width="12" height="12" fill="url(#ch1b19)"/>
<rect x="56.80" y="155.90" width="12" height="12" fill="url(#ch1b20)"/>
<rect x="60.80" y="163.90" width="8" height="8" fill="url(#ch1b21)"/>
<rect x="64.80" y="138.90" width="14" height="14" fill="url(#ch1b22)"/>
<rect x="74.80" y="139.90" width="12" height="12" fill="url(#ch1b23)"/>
<rect x="84.80" y="138.90" width="14" height="14" fill="url(#ch1b24)"/>
<rect x="89.80" y="140.90" width="10" height="10" fill="url(#ch1b25)"/>
<rect x="64.80" y="152.90" width="14" height="14" fill="url(#ch1b26)"/>
<rect x="76.80" y="153.90" width="12" height="12" fill="url(#ch1b27)"/>
<rect x="86.80" y="151.90" width="12" height="12" fill="url(#ch1b28)"/>
<rect x="88.80" y="161.90" width="10" height="10" fill="url(#ch1b29)"/>
</g>
<g clip-path="url(#ch2)">
<rect x="113.3" y="141.9" width="28.5" height="28" fill="#31688e"/>
<rect x="141.8" y="141.9" width="28.9" height="28" fill="#25858e"/>
<rect x="170.7" y="141.9" width="28.6" height="28" fill="#3e4a89"/>
<rect x="110.30" y="139.90" width="14" height="14" fill="url(#ch2b0)"/>
<rect x="110.30" y="156.90" width="14" height="14" fill="url(#ch2b1)"/>
<rect x="113.30" y="162.90" width="10" height="10" fill="url(#ch2b2)"/>
<rect x="119.30" y="148.90" width="14" height="14" fill="url(#ch2b3)"/>
<rect x="124.30" y="152.90" width="10" height="10" fill="url(#ch2b4)"/>
<rect x="129.30" y="139.90" width="14" height="14" fill="url(#ch2b5)"/>
<rect x="129.30" y="156.90" width="14" height="14" fill="url(#ch2b6)"/>
<rect x="138.30" y="139.90" width="16" height="16" fill="url(#ch2b7)"/>
<rect x="140.30" y="141.90" width="10" height="10" fill="url(#ch2b8)"/>
<rect x="148.30" y="140.90" width="12" height="12" fill="url(#ch2b9)"/>
<rect x="138.30" y="155.90" width="16" height="16" fill="url(#ch2b10)"/>
<rect x="150.30" y="152.90" width="12" height="12" fill="url(#ch2b11)"/>
<rect x="160.30" y="157.90" width="12" height="12" fill="url(#ch2b12)"/>
<rect x="157.30" y="140.90" width="14" height="14" fill="url(#ch2b13)"/>
<rect x="160.30" y="142.40" width="8" height="8" fill="url(#ch2b14)"/>
<rect x="161.80" y="143.40" width="5.0" height="5.0" fill="url(#ch2b15)"/>
<rect x="161.30" y="150.40" width="8" height="8" fill="url(#ch2b16)"/>
<rect x="167.30" y="139.90" width="14" height="14" fill="url(#ch2b17)"/>
<rect x="178.30" y="140.90" width="12" height="12" fill="url(#ch2b18)"/>
<rect x="188.30" y="139.90" width="14" height="14" fill="url(#ch2b19)"/>
<rect x="169.30" y="160.90" width="10" height="10" fill="url(#ch2b20)"/>
<rect x="169.30" y="152.90" width="10" height="10" fill="url(#ch2b21)"/>
<rect x="178.30" y="154.90" width="12" height="12" fill="url(#ch2b22)"/>
<rect x="189.30" y="154.90" width="12" height="12" fill="url(#ch2b23)"/>
</g>
<g clip-path="url(#ch3)">
<rect x="216.3" y="141.9" width="28.5" height="28" fill="#2c728e"/>
<rect x="244.8" y="141.9" width="28.9" height="28" fill="#3b528b"/>
<rect x="273.7" y="141.9" width="28.6" height="28" fill="#3b528b"/>
<rect x="214.30" y="139.90" width="14" height="14" fill="url(#ch3b0)"/>
<rect x="214.30" y="150.90" width="10" height="10" fill="url(#ch3b1)"/>
<rect x="219.30" y="148.90" width="18" height="18" fill="url(#ch3b2)"/>
<rect x="222.30" y="151.90" width="10" height="10" fill="url(#ch3b3)"/>
<rect x="214.30" y="160.90" width="12" height="12" fill="url(#ch3b4)"/>
<rect x="232.30" y="139.90" width="14" height="14" fill="url(#ch3b5)"/>
<rect x="238.80" y="151.40" width="7.0" height="7.0" fill="url(#ch3b6)"/>
<rect x="232.30" y="157.90" width="14" height="14" fill="url(#ch3b7)"/>
<rect x="241.30" y="139.90" width="14" height="14" fill="url(#ch3b8)"/>
<rect x="241.30" y="151.90" width="12" height="12" fill="url(#ch3b9)"/>
<rect x="241.30" y="160.90" width="12" height="12" fill="url(#ch3b10)"/>
<rect x="253.30" y="139.90" width="14" height="14" fill="url(#ch3b11)"/>
<rect x="254.30" y="152.90" width="10" height="10" fill="url(#ch3b12)"/>
<rect x="263.30" y="149.90" width="12" height="12" fill="url(#ch3b13)"/>
<rect x="264.30" y="161.90" width="10" height="10" fill="url(#ch3b14)"/>
<rect x="270.30" y="139.90" width="14" height="14" fill="url(#ch3b15)"/>
<rect x="270.30" y="153.90" width="12" height="12" fill="url(#ch3b16)"/>
<rect x="272.30" y="161.90" width="10" height="10" fill="url(#ch3b17)"/>
<rect x="280.30" y="139.90" width="12" height="12" fill="url(#ch3b18)"/>
<rect x="280.30" y="153.90" width="12" height="12" fill="url(#ch3b19)"/>
<rect x="285.30" y="142.90" width="12" height="12" fill="url(#ch3b20)"/>
<rect x="291.30" y="141.90" width="10" height="10" fill="url(#ch3b21)"/>
<rect x="294.30" y="139.90" width="12" height="12" fill="url(#ch3b22)"/>
<rect x="291.30" y="144.90" width="16" height="16" fill="url(#ch3b23)"/>
<rect x="295.80" y="148.40" width="9.0" height="9.0" fill="url(#ch3b24)"/>
<rect x="293.30" y="154.90" width="10" height="10" fill="url(#ch3b25)"/>
<rect x="293.30" y="161.90" width="10" height="10" fill="url(#ch3b26)"/>
<rect x="296.30" y="165.90" width="6" height="6" fill="url(#ch3b27)"/>
</g>
<rect x="21.9" y="179.0" width="2.1" height="2.1" fill="#1e1e1e"/>
<rect x="33.3" y="175.6" width="2.1" height="2.1" fill="#1e1e1e"/>
<rect x="29.2" y="181.7" width="2.1" height="2.1" fill="#1e1e1e"/>
<rect x="32.0" y="184.5" width="1.7" height="1.7" fill="#fff" stroke="#666" stroke-width="0.5"/>
<rect x="24.3" y="185.0" width="1.7" height="1.7" fill="#fff" stroke="#b0b0b0" stroke-width="0.5"/>
<rect x="37.9" y="178.7" width="2.1" height="2.1" fill="#1e1e1e"/>
<rect x="37.4" y="180.7" width="2.1" height="2.1" fill="#1e1e1e"/>
<rect x="36.4" y="186.3" width="2.1" height="2.1" fill="#8a8a8a"/>
<rect x="33.5" y="190.4" width="1.7" height="1.7" fill="#fff" stroke="#666" stroke-width="0.5"/>
<rect x="37.9" y="192.7" width="2.1" height="2.1" fill="#1e1e1e"/>
<rect x="43.5" y="183.8" width="2.1" height="2.1" fill="#8a8a8a"/>
<rect x="43.0" y="188.9" width="2.1" height="2.1" fill="#1e1e1e"/>
<rect x="44.7" y="176.8" width="1.7" height="1.7" fill="#fff" stroke="#b0b0b0" stroke-width="0.5"/>
<rect x="48.1" y="190.4" width="2.1" height="2.1" fill="#8a8a8a"/>
<rect x="53.4" y="192.7" width="1.7" height="1.7" fill="#fff" stroke="#666" stroke-width="0.5"/>
<rect x="57.0" y="188.6" width="1.7" height="1.7" fill="#fff" stroke="#b0b0b0" stroke-width="0.5"/>
<rect x="59.1" y="192.7" width="1.7" height="1.7" fill="#fff" stroke="#b0b0b0" stroke-width="0.5"/>
<rect x="60.1" y="176.3" width="1.7" height="1.7" fill="#fff" stroke="#b0b0b0" stroke-width="0.5"/>
<rect x="61.9" y="178.0" width="2.1" height="2.1" fill="#8a8a8a"/>
<rect x="59.9" y="183.1" width="2.1" height="2.1" fill="#1e1e1e"/>
<rect x="62.7" y="184.8" width="2.1" height="2.1" fill="#1e1e1e"/>
<rect x="61.1" y="189.6" width="1.7" height="1.7" fill="#fff" stroke="#b0b0b0" stroke-width="0.5"/>
<rect x="70.3" y="181.4" width="1.7" height="1.7" fill="#fff" stroke="#b0b0b0" stroke-width="0.5"/>
<rect x="69.3" y="185.5" width="1.7" height="1.7" fill="#fff" stroke="#666" stroke-width="0.5"/>
<rect x="78.5" y="182.6" width="1.7" height="1.7" fill="#fff" stroke="#b0b0b0" stroke-width="0.5"/>
<rect x="73.2" y="188.9" width="2.1" height="2.1" fill="#8a8a8a"/>
<rect x="81.5" y="187.9" width="2.1" height="2.1" fill="#1e1e1e"/>
<rect x="50.1" y="177.1" width="5.7" height="10.2" fill="#262626"/>
<rect x="52.0" y="177.4" width="0.9" height="0.9" fill="#e8e8e8"/>
<rect x="50.4" y="179.0" width="0.9" height="0.9" fill="#e8e8e8"/>
<rect x="50.4" y="180.6" width="0.9" height="0.9" fill="#e8e8e8"/>
<rect x="52.0" y="180.6" width="0.9" height="0.9" fill="#e8e8e8"/>
<rect x="50.4" y="182.2" width="0.9" height="0.9" fill="#e8e8e8"/>
<rect x="52.0" y="182.2" width="0.9" height="0.9" fill="#e8e8e8"/>
<rect x="52.0" y="183.8" width="0.9" height="0.9" fill="#e8e8e8"/>
<rect x="53.6" y="183.8" width="0.9" height="0.9" fill="#e8e8e8"/>
<rect x="52.0" y="185.4" width="0.9" height="0.9" fill="#e8e8e8"/>
<rect x="130.1" y="188.9" width="2.1" height="2.1" fill="#1e1e1e"/>
<rect x="133.7" y="185.8" width="2.1" height="2.1" fill="#1e1e1e"/>
<rect x="138.8" y="182.8" width="2.1" height="2.1" fill="#1e1e1e"/>
<rect x="143.6" y="179.9" width="1.7" height="1.7" fill="#fff" stroke="#666" stroke-width="0.5"/>
<rect x="147.7" y="175.8" width="1.7" height="1.7" fill="#fff" stroke="#b0b0b0" stroke-width="0.5"/>
<rect x="152.6" y="174.6" width="2.1" height="2.1" fill="#8a8a8a"/>
<rect x="157.4" y="173.2" width="1.7" height="1.7" fill="#fff" stroke="#666" stroke-width="0.5"/>
<rect x="162.0" y="174.3" width="1.7" height="1.7" fill="#fff" stroke="#666" stroke-width="0.5"/>
<rect x="156.7" y="176.8" width="3" height="3" fill="#1e1e1e"/>
<rect x="151.3" y="179.9" width="1.7" height="1.7" fill="#fff" stroke="#666" stroke-width="0.5"/>
<rect x="157.4" y="181.4" width="1.7" height="1.7" fill="#fff" stroke="#666" stroke-width="0.5"/>
<rect x="162.3" y="179.2" width="2.1" height="2.1" fill="#8a8a8a"/>
<rect x="166.1" y="179.9" width="1.7" height="1.7" fill="#fff" stroke="#666" stroke-width="0.5"/>
<rect x="167.4" y="177.1" width="2.1" height="2.1" fill="#1e1e1e"/>
<rect x="173.2" y="180.4" width="1.7" height="1.7" fill="#fff" stroke="#b0b0b0" stroke-width="0.5"/>
<rect x="178.2" y="186.8" width="2.1" height="2.1" fill="#8a8a8a"/>
<rect x="154.9" y="184.5" width="1.7" height="1.7" fill="#fff" stroke="#666" stroke-width="0.5"/>
<rect x="159.3" y="186.8" width="2.1" height="2.1" fill="#8a8a8a"/>
<rect x="163.9" y="188.4" width="2.1" height="2.1" fill="#1e1e1e"/>
<rect x="155.7" y="189.9" width="2.1" height="2.1" fill="#1e1e1e"/>
<rect x="160.8" y="190.9" width="2.1" height="2.1" fill="#1e1e1e"/>
<rect x="165.4" y="192.0" width="3" height="3" fill="#1e1e1e"/>
<rect x="151.3" y="193.2" width="1.7" height="1.7" fill="#fff" stroke="#666" stroke-width="0.5"/>
<rect x="154.7" y="194.7" width="2.1" height="2.1" fill="#1e1e1e"/>
<rect x="158.9" y="194.7" width="1.7" height="1.7" fill="#fff" stroke="#666" stroke-width="0.5"/>
<rect x="163.0" y="184.0" width="1.7" height="1.7" fill="#fff" stroke="#b0b0b0" stroke-width="0.5"/>
<rect x="143.4" y="184.0" width="9.7" height="7.9" fill="#262626"/>
<rect x="146.9" y="184.3" width="0.9" height="0.9" fill="#e8e8e8"/>
<rect x="148.5" y="184.3" width="0.9" height="0.9" fill="#e8e8e8"/>
<rect x="150.1" y="184.3" width="0.9" height="0.9" fill="#e8e8e8"/>
<rect x="151.7" y="185.9" width="0.9" height="0.9" fill="#e8e8e8"/>
<rect x="148.5" y="187.5" width="0.9" height="0.9" fill="#e8e8e8"/>
<rect x="143.7" y="189.1" width="0.9" height="0.9" fill="#e8e8e8"/>
<rect x="146.9" y="189.1" width="0.9" height="0.9" fill="#e8e8e8"/>
<rect x="148.5" y="189.1" width="0.9" height="0.9" fill="#e8e8e8"/>
<rect x="151.7" y="189.1" width="0.9" height="0.9" fill="#e8e8e8"/>
<rect x="234.1" y="181.2" width="2.1" height="2.1" fill="#1e1e1e"/>
<rect x="237.7" y="176.6" width="2.1" height="2.1" fill="#1e1e1e"/>
<rect x="241.5" y="182.4" width="1.7" height="1.7" fill="#fff" stroke="#666" stroke-width="0.5"/>
<rect x="241.8" y="187.3" width="2.1" height="2.1" fill="#8a8a8a"/>
<rect x="247.4" y="177.7" width="3" height="3" fill="#1e1e1e"/>
<rect x="251.5" y="186.3" width="2.1" height="2.1" fill="#8a8a8a"/>
<rect x="253.2" y="181.4" width="1.7" height="1.7" fill="#fff" stroke="#b0b0b0" stroke-width="0.5"/>
<rect x="255.3" y="176.3" width="1.7" height="1.7" fill="#fff" stroke="#666" stroke-width="0.5"/>
<rect x="250.0" y="193.0" width="2.1" height="2.1" fill="#1e1e1e"/>
<rect x="255.8" y="191.1" width="1.7" height="1.7" fill="#fff" stroke="#b0b0b0" stroke-width="0.5"/>
<rect x="259.7" y="180.7" width="2.1" height="2.1" fill="#1e1e1e"/>
<rect x="259.7" y="185.8" width="2.1" height="2.1" fill="#8a8a8a"/>
<rect x="263.4" y="175.5" width="1.7" height="1.7" fill="#fff" stroke="#666" stroke-width="0.5"/>
<rect x="262.7" y="192.0" width="2.1" height="2.1" fill="#1e1e1e"/>
<rect x="267.3" y="189.9" width="2.1" height="2.1" fill="#1e1e1e"/>
<rect x="269.6" y="173.2" width="1.7" height="1.7" fill="#fff" stroke="#b0b0b0" stroke-width="0.5"/>
<rect x="272.4" y="188.9" width="2.1" height="2.1" fill="#1e1e1e"/>
<rect x="276.2" y="177.3" width="1.7" height="1.7" fill="#fff" stroke="#666" stroke-width="0.5"/>
<rect x="276.5" y="190.4" width="2.1" height="2.1" fill="#8a8a8a"/>
<rect x="275.7" y="193.2" width="1.7" height="1.7" fill="#fff" stroke="#b0b0b0" stroke-width="0.5"/>
<rect x="280.1" y="181.7" width="2.1" height="2.1" fill="#1e1e1e"/>
<rect x="268.9" y="195.5" width="2.1" height="2.1" fill="#8a8a8a"/>
<rect x="256.3" y="196.2" width="1.7" height="1.7" fill="#fff" stroke="#b0b0b0" stroke-width="0.5"/>
<rect x="265.8" y="178.1" width="9.0" height="10.0" fill="#262626"/>
<rect x="269.3" y="178.4" width="0.9" height="0.9" fill="#e8e8e8"/>
<rect x="272.5" y="178.4" width="0.9" height="0.9" fill="#e8e8e8"/>
<rect x="269.3" y="180.0" width="0.9" height="0.9" fill="#e8e8e8"/>
<rect x="266.1" y="181.6" width="0.9" height="0.9" fill="#e8e8e8"/>
<rect x="269.3" y="181.6" width="0.9" height="0.9" fill="#e8e8e8"/>
<rect x="270.9" y="181.6" width="0.9" height="0.9" fill="#e8e8e8"/>
<rect x="267.7" y="183.2" width="0.9" height="0.9" fill="#e8e8e8"/>
<rect x="272.5" y="183.2" width="0.9" height="0.9" fill="#e8e8e8"/>
<rect x="266.1" y="184.8" width="0.9" height="0.9" fill="#e8e8e8"/>
<rect x="269.3" y="184.8" width="0.9" height="0.9" fill="#e8e8e8"/>
<rect x="270.9" y="184.8" width="0.9" height="0.9" fill="#e8e8e8"/>
<rect x="272.5" y="184.8" width="0.9" height="0.9" fill="#e8e8e8"/>
<rect x="267.7" y="186.4" width="0.9" height="0.9" fill="#e8e8e8"/>
<rect x="270.9" y="186.4" width="0.9" height="0.9" fill="#e8e8e8"/>
<rect x="272.5" y="186.4" width="0.9" height="0.9" fill="#e8e8e8"/>
<line x1="53.2" y1="197.5" x2="53.20" y2="205.60" stroke="#231f20" stroke-width="0.75"/>
<polygon points="53.20,208.80 51.80,205.60 54.60,205.60" fill="#231f20"/>
<line x1="156.0" y1="199.5" x2="156.00" y2="205.80" stroke="#231f20" stroke-width="0.75"/>
<polygon points="156.00,209.00 154.60,205.80 157.40,205.80" fill="#231f20"/>
<line x1="264.9" y1="199.5" x2="264.90" y2="206.30" stroke="#231f20" stroke-width="0.75"/>
<polygon points="264.90,209.50 263.50,206.30 266.30,206.30" fill="#231f20"/>
<rect x="13.5" y="213.5" width="43.9" height="51" fill="#fff" stroke="#231f20" stroke-width="0.75"/>
<line x1="11.5" y1="219.5" x2="13.5" y2="219.5" stroke="#231f20" stroke-width="0.75"/>
<text x="11.2" y="222.1" font-size="7.4" text-anchor="end" fill="#231f20" >1.0</text>
<line x1="11.5" y1="242.0" x2="13.5" y2="242.0" stroke="#231f20" stroke-width="0.75"/>
<text x="11.2" y="244.6" font-size="7.4" text-anchor="end" fill="#231f20" >0.8</text>
<line x1="11.5" y1="264.5" x2="13.5" y2="264.5" stroke="#231f20" stroke-width="0.75"/>
<text x="11.2" y="267.1" font-size="7.4" text-anchor="end" fill="#231f20" >0.6</text>
<line x1="28.5" y1="264.5" x2="28.5" y2="261" stroke="#231f20" stroke-width="0.75"/>
<line x1="43.4" y1="264.5" x2="43.4" y2="261" stroke="#231f20" stroke-width="0.75"/>
<text x="19.6" y="273.2" font-size="7.6" fill="#231f20" textLength="12.9" lengthAdjust="spacing">60 h</text>
<text x="36.5" y="273.2" font-size="7.6" fill="#231f20" textLength="17.3" lengthAdjust="spacing">120 h</text>
<path d="M13.9,235.6 L14.2,233.6 L14.6,230.8 L15.5,229.9 L16.4,229.8 L17.3,229.4 L18.2,229.3 L19.1,229.1 L20.0,228.1 L20.8,227.7 L21.7,228.2 L22.5,227.4 L23.3,227.4 L24.2,226.3 L25.0,226.4 L25.8,226.4 L26.7,225.6 L27.5,225.9 L28.3,225.6 L29.2,224.4 L30.0,224.0 L30.8,224.3 L31.6,224.5 L32.4,223.7 L33.3,223.4 L34.1,223.4 L34.9,222.7 L35.7,222.7 L36.5,222.7 L37.3,222.6 L38.1,222.1 L39.0,221.9 L39.8,221.6 L40.6,221.7 L41.4,221.3 L42.3,220.9 L43.1,221.5 L44.0,221.0 L44.8,221.0 L45.7,220.3 L46.6,221.0 L47.4,220.7 L48.3,219.8 L49.1,219.8 L50.0,220.0 L50.9,219.9 L51.7,220.0 L52.5,219.3 L53.4,219.6 L54.2,219.3 L55.1,218.9 L55.9,219.0 L56.8,218.8" fill="none" stroke="#1b9e77" stroke-width="1.7" stroke-linejoin="round"/>
<path d="M13.9,238.0 L14.2,234.2 L14.6,229.6 L15.5,229.2 L16.4,229.6 L17.3,229.1 L18.2,228.7 L19.1,228.0 L20.0,227.9 L20.8,227.6 L21.7,227.2 L22.5,226.4 L23.3,226.3 L24.2,225.9 L25.0,225.9 L25.8,225.8 L26.7,225.4 L27.5,224.7 L28.3,224.2 L29.2,223.7 L30.0,223.1 L30.8,222.9 L31.7,223.0 L32.5,222.6 L33.3,222.4 L34.2,222.6 L35.0,222.0 L35.8,221.7 L36.7,221.1 L37.5,220.6 L38.3,220.7 L39.2,220.2 L40.0,220.3 L40.8,220.6 L41.7,220.2 L42.5,219.5 L43.3,220.1 L44.2,219.8 L45.0,219.6 L45.8,219.9 L46.7,219.9 L47.5,220.1 L48.3,219.8 L49.2,220.5 L50.0,220.7 L50.9,220.2 L51.7,221.2 L52.5,221.5 L53.4,221.6 L54.2,222.0 L55.1,222.3 L55.9,223.1 L56.8,223.0" fill="none" stroke="#1170bd" stroke-width="1.7" stroke-linejoin="round"/>
<path d="M13.9,222.0 L15.2,219.0 L19.0,218.8 L22.6,219.3 L26.7,223.2 L30.9,230.9 L34.0,238.0 L39.3,246.0 L45.6,251.2 L50.0,253.6 L56.8,255.8" fill="none" stroke="#d95f02" stroke-width="1.3" stroke-linejoin="round"/>
<circle cx="30.3" cy="230.3" r="4.2" fill="#d95f02"/>
<rect x="57.4" y="212.8" width="46.199999999999996" height="59.3" fill="#1c1c1c"/>
<rect x="57.4" y="212.8" width="46.199999999999996" height="59.3" fill="url(#afmn)" opacity="0.45"/>
<rect x="119.2" y="213.5" width="43.999999999999986" height="51" fill="#fff" stroke="#231f20" stroke-width="0.75"/>
<line x1="117.2" y1="219.5" x2="119.2" y2="219.5" stroke="#231f20" stroke-width="0.75"/>
<text x="116.9" y="222.1" font-size="7.4" text-anchor="end" fill="#231f20" >1.0</text>
<line x1="117.2" y1="242.0" x2="119.2" y2="242.0" stroke="#231f20" stroke-width="0.75"/>
<text x="116.9" y="244.6" font-size="7.4" text-anchor="end" fill="#231f20" >0.8</text>
<line x1="117.2" y1="264.5" x2="119.2" y2="264.5" stroke="#231f20" stroke-width="0.75"/>
<text x="116.9" y="267.1" font-size="7.4" text-anchor="end" fill="#231f20" >0.6</text>
<line x1="134.2" y1="264.5" x2="134.2" y2="261" stroke="#231f20" stroke-width="0.75"/>
<line x1="149.1" y1="264.5" x2="149.1" y2="261" stroke="#231f20" stroke-width="0.75"/>
<text x="125.3" y="273.2" font-size="7.6" fill="#231f20" textLength="12.9" lengthAdjust="spacing">60 h</text>
<text x="142.2" y="273.2" font-size="7.6" fill="#231f20" textLength="17.3" lengthAdjust="spacing">120 h</text>
<path d="M119.6,223.8 L120.5,223.3 L121.5,222.4 L122.3,222.5 L123.2,222.5 L124.0,222.0 L124.9,221.9 L125.8,222.5 L126.6,222.0 L127.4,221.9 L128.3,222.4 L129.1,222.0 L130.0,222.2 L130.8,221.8 L131.7,221.9 L132.5,221.5 L133.4,221.8 L134.2,221.9 L135.0,221.6 L135.9,221.7 L136.7,221.6 L137.5,221.0 L138.3,221.5 L139.2,221.3 L140.0,221.0 L140.8,220.7 L141.7,221.3 L142.5,221.0 L143.3,221.1 L144.2,221.2 L145.0,221.0 L145.8,221.1 L146.7,220.6 L147.5,220.9 L148.3,220.6 L149.2,221.0 L150.0,220.9 L150.8,220.2 L151.7,220.2 L152.5,220.3 L153.3,220.8 L154.2,220.4 L155.0,220.5 L155.8,220.2 L156.7,220.3 L157.5,220.2 L158.3,220.1 L159.2,220.3 L160.0,220.3 L160.8,220.5 L161.7,220.2 L162.5,220.0" fill="none" stroke="#d95f02" stroke-width="1.7" stroke-linejoin="round"/>
<path d="M119.6,232.7 L120.3,231.4 L121.0,230.4 L121.8,230.0 L122.6,229.8 L123.5,230.0 L124.3,230.4 L125.1,230.1 L125.9,229.9 L126.7,229.3 L127.5,229.4 L128.4,229.0 L129.2,228.8 L130.0,228.6 L130.8,228.2 L131.7,228.4 L132.5,227.8 L133.3,227.3 L134.2,226.8 L135.0,225.7 L135.8,225.3 L136.7,225.1 L137.5,224.7 L138.3,224.4 L139.2,223.9 L140.0,222.6 L140.8,223.0 L141.7,222.9 L142.5,222.6 L143.3,222.1 L144.2,222.2 L145.0,221.7 L145.8,222.4 L146.7,222.2 L147.5,221.7 L148.3,221.3 L149.2,221.8 L150.0,221.3 L150.8,221.5 L151.7,221.4 L152.5,221.0 L153.3,220.8 L154.2,221.0 L155.0,220.7 L155.8,220.4 L156.7,220.5 L157.5,220.9 L158.3,220.1 L159.2,220.0 L160.0,220.5 L160.8,220.1 L161.7,220.3 L162.5,220.2" fill="none" stroke="#1170bd" stroke-width="1.7" stroke-linejoin="round"/>
<path d="M119.6,226.1 L120.4,224.6 L121.3,223.2 L122.2,223.0 L123.0,222.6 L123.9,222.5 L124.8,221.7 L125.6,221.7 L126.5,221.8 L127.4,221.3 L128.2,221.2 L129.1,220.5 L130.0,220.5 L130.8,220.1 L131.7,220.0 L132.5,220.3 L133.3,220.3 L134.1,220.7 L134.9,221.1 L135.8,222.8 L136.7,224.0 L137.6,225.0 L138.5,226.7 L139.4,227.6 L140.3,229.2 L141.2,230.3 L142.0,230.9 L142.8,232.1 L143.6,232.4 L144.4,233.1 L145.3,234.3 L146.1,234.9 L146.9,235.3 L147.7,236.4 L148.5,236.8 L149.3,237.4 L150.1,237.5 L150.9,238.5 L151.8,238.8 L152.6,239.4 L153.4,239.8 L154.2,239.9 L155.0,240.4 L155.8,240.7 L156.6,241.2 L157.4,241.6 L158.2,242.2 L159.1,242.8 L159.9,242.9 L160.7,243.7 L161.5,244.0 L162.3,244.5" fill="none" stroke="#1b9e77" stroke-width="1.7" stroke-linejoin="round"/>
<circle cx="140.1" cy="230.3" r="4.2" fill="#1b9e77"/>
<rect x="163.2" y="212.8" width="45.400000000000006" height="59.3" fill="#0d0d0d"/>
<rect x="163.2" y="212.8" width="45.400000000000006" height="59.3" fill="url(#afmn)" opacity="0.35"/>
<rect x="225.0" y="213.5" width="43.19999999999999" height="51" fill="#fff" stroke="#231f20" stroke-width="0.75"/>
<line x1="223.0" y1="219.5" x2="225.0" y2="219.5" stroke="#231f20" stroke-width="0.75"/>
<text x="222.7" y="222.1" font-size="7.4" text-anchor="end" fill="#231f20" >1.0</text>
<line x1="223.0" y1="242.0" x2="225.0" y2="242.0" stroke="#231f20" stroke-width="0.75"/>
<text x="222.7" y="244.6" font-size="7.4" text-anchor="end" fill="#231f20" >0.8</text>
<line x1="223.0" y1="264.5" x2="225.0" y2="264.5" stroke="#231f20" stroke-width="0.75"/>
<text x="222.7" y="267.1" font-size="7.4" text-anchor="end" fill="#231f20" >0.6</text>
<line x1="240.0" y1="264.5" x2="240.0" y2="261" stroke="#231f20" stroke-width="0.75"/>
<line x1="254.9" y1="264.5" x2="254.9" y2="261" stroke="#231f20" stroke-width="0.75"/>
<text x="231.1" y="273.2" font-size="7.6" fill="#231f20" textLength="12.9" lengthAdjust="spacing">60 h</text>
<text x="248.0" y="273.2" font-size="7.6" fill="#231f20" textLength="17.3" lengthAdjust="spacing">120 h</text>
<path d="M225.4,231.8 L226.2,228.1 L227.0,225.2 L228.0,223.8 L229.0,223.7 L230.0,222.8 L230.8,222.4 L231.7,222.9 L232.5,222.3 L233.4,222.7 L234.2,222.2 L235.1,222.1 L235.9,222.5 L236.8,222.9 L237.6,222.0 L238.5,222.1 L239.3,222.5 L240.2,222.8 L241.0,222.3 L241.8,222.1 L242.6,222.8 L243.5,221.7 L244.3,222.6 L245.1,221.9 L245.9,221.8 L246.8,221.7 L247.6,222.0 L248.4,222.6 L249.2,221.8 L250.1,222.3 L250.9,222.4 L251.7,222.0 L252.5,222.3 L253.4,221.7 L254.2,221.7 L255.0,221.8 L255.8,222.5 L256.6,222.4 L257.4,222.3 L258.2,222.8 L259.0,222.7 L259.8,222.7 L260.6,223.4 L261.4,223.4 L262.2,223.0 L263.0,223.5 L263.8,223.6 L264.6,224.1 L265.4,224.0 L266.2,223.6 L267.0,224.0" fill="none" stroke="#1b9e77" stroke-width="1.7" stroke-linejoin="round"/>
<path d="M225.4,226.3 L226.2,224.3 L227.0,222.0 L227.8,221.6 L228.7,221.1 L229.5,221.6 L230.3,221.2 L231.2,221.3 L232.0,220.7 L232.8,221.0 L233.6,220.5 L234.5,221.0 L235.3,220.9 L236.1,220.5 L236.9,220.6 L237.7,220.7 L238.5,220.2 L239.4,220.5 L240.2,220.7 L241.0,220.2 L241.8,220.7 L242.6,220.6 L243.5,220.7 L244.3,220.2 L245.1,219.9 L245.9,220.6 L246.8,220.6 L247.6,220.3 L248.4,219.9 L249.2,220.0 L250.1,220.4 L250.9,220.1 L251.7,220.7 L252.5,220.3 L253.4,219.9 L254.2,220.4 L255.0,220.1 L255.8,220.7 L256.6,220.7 L257.4,220.4 L258.2,220.6 L259.0,220.7 L259.8,220.9 L260.6,221.1 L261.4,220.3 L262.2,220.7 L263.0,221.0 L263.8,220.7 L264.6,221.1 L265.4,220.7 L266.2,221.5 L267.0,221.2" fill="none" stroke="#d95f02" stroke-width="1.7" stroke-linejoin="round"/>
<path d="M225.4,219.6 L233.0,219.4 L239.9,219.9 L244.0,225.7 L247.2,233.5 L251.4,243.2 L257.7,250.6 L262.0,253.8 L267.3,255.8" fill="none" stroke="#1170bd" stroke-width="1.3" stroke-linejoin="round"/>
<circle cx="246.2" cy="230.3" r="4.2" fill="#1170bd"/>
<rect x="268.2" y="212.8" width="46.400000000000034" height="59.3" fill="#2a2a2a"/>
<rect x="268.2" y="212.8" width="46.400000000000034" height="59.3" fill="url(#afmn)" opacity="1.0"/>
<svg x="57.4" y="212.8" width="46" height="59.5" overflow="hidden"><g transform="translate(-57.4,-212.8)" filter="url(#pblur)">
<polygon points="-4.00,-2.50 -1.04,-2.50 -1.04,-0.80 1.04,-0.80 1.04,-2.50 4.00,-2.50 4.00,2.50 1.04,2.50 1.04,0.80 -1.04,0.80 -1.04,2.50 -4.00,2.50" fill="#b4b4b4" transform="translate(81.3,213.5) rotate(0)"/>
<ellipse cx="0" cy="0" rx="1.7" ry="2.0" fill="#b8b8b8" transform="translate(89.5,220.9) rotate(0)"/>
<ellipse cx="0" cy="0" rx="1.7" ry="1.4" fill="#b8b8b8" transform="translate(91.8,215.6) rotate(0)"/>
<polygon points="-2.75,-4.75 -0.72,-4.75 -0.72,-1.52 0.72,-1.52 0.72,-4.75 2.75,-4.75 2.75,4.75 0.72,4.75 0.72,1.52 -0.72,1.52 -0.72,4.75 -2.75,4.75" fill="#b4b4b4" transform="translate(65,233.4) rotate(12)"/>
<polygon points="-3.25,-5.00 -0.84,-5.00 -0.84,-1.60 0.84,-1.60 0.84,-5.00 3.25,-5.00 3.25,5.00 0.84,5.00 0.84,1.60 -0.84,1.60 -0.84,5.00 -3.25,5.00" fill="#b4b4b4" transform="translate(60.5,242.3) rotate(-28)"/>
<polygon points="-4.50,-3.50 -1.17,-3.50 -1.17,-1.12 1.17,-1.12 1.17,-3.50 4.50,-3.50 4.50,3.50 1.17,3.50 1.17,1.12 -1.17,1.12 -1.17,3.50 -4.50,3.50" fill="#b4b4b4" transform="translate(99.5,241) rotate(28)"/>
<polygon points="-3.50,-5.50 -0.91,-5.50 -0.91,-1.76 0.91,-1.76 0.91,-5.50 3.50,-5.50 3.50,5.50 0.91,5.50 0.91,1.76 -0.91,1.76 -0.91,5.50 -3.50,5.50" fill="#b4b4b4" transform="translate(69.6,259.2) rotate(-22)"/>
<polygon points="-3.50,-5.25 -0.91,-5.25 -0.91,-1.68 0.91,-1.68 0.91,-5.25 3.50,-5.25 3.50,5.25 0.91,5.25 0.91,1.68 -0.91,1.68 -0.91,5.25 -3.50,5.25" fill="#b4b4b4" transform="translate(85.5,253.9) rotate(-18)"/>
<ellipse cx="0" cy="0" rx="2.8" ry="3.5" fill="#b8b8b8" transform="translate(85.5,263.9) rotate(35)"/>
<polygon points="-5.50,-3.25 -1.43,-3.25 -1.43,-1.04 1.43,-1.04 1.43,-3.25 5.50,-3.25 5.50,3.25 1.43,3.25 1.43,1.04 -1.43,1.04 -1.43,3.25 -5.50,3.25" fill="#b4b4b4" transform="translate(95.3,264.5) rotate(-22)"/>
</g></svg>
<rect x="94.1" y="269.1" width="7.1" height="1.4" fill="#f4f4f4"/>
<rect x="57.4" y="250.2" width="46" height="0.6" fill="#555" opacity="0.5"/>
<path d="M180.5,226.5 L189,225 L191.2,227 L187.5,231.5 L181,231.5 Z M183.5,227.8 L187.5,227.5 L186,229.8 L183.5,229.8 Z" fill="#a8a8a8" fill-rule="evenodd"/>
<ellipse cx="0" cy="0" rx="0.8" ry="0.6" fill="#777" transform="translate(176,215.2) rotate(0)"/>
<polygon points="205.5,223.5 208.6,223.5 208.6,229.5 206,228.5" fill="#8a8a8a"/>
<polygon points="202,247 205,246.6 207,250 206,254 208.6,257 205,258.5 201,255 203,251" fill="#8c8c8c"/>
<ellipse cx="0" cy="0" rx="1" ry="0.5" fill="#666" transform="translate(174,264) rotate(0)"/>
<rect x="200.5" y="268.2" width="5.8" height="1.3" fill="#fff"/>
<path d="M284.5,223.2 L281.2,232.2 M284.5,223.2 L276.8,226.6 M282.9,227.7 L275.8,230.8 M281.2,232.2 L275.2,234.6" fill="none" stroke="#cfcfcf" stroke-width="1.8" stroke-linecap="round" stroke-linejoin="round"/>
<ellipse cx="0" cy="0" rx="1.7" ry="1.4" fill="#c8c8c8" transform="translate(273,235.3) rotate(30)"/>
<path d="M293,223.5 L293.8,228.3 L297.8,227.8 L298.8,222.5" fill="none" stroke="#cfcfcf" stroke-width="1.7" stroke-linecap="round" stroke-linejoin="round"/>
<path d="M278.3,249.6 L283,253 L286.3,251 M279,254.2 L283,253" fill="none" stroke="#cfcfcf" stroke-width="1.8" stroke-linecap="round" stroke-linejoin="round"/>
<path d="M291.6,257 L296.3,248.8 Q297,247.6 299,248 M293.5,251.8 L298.6,250.6" fill="none" stroke="#cfcfcf" stroke-width="1.6" stroke-linecap="round" stroke-linejoin="round"/>
<path d="M311.8,246.8 L312.3,255.6 M306.8,247.2 L311.8,246.8 M307,251.2 L312,251 M307.2,255.8 L312.3,255.6" fill="none" stroke="#cfcfcf" stroke-width="1.8" stroke-linecap="round" stroke-linejoin="round"/>
<ellipse cx="0" cy="0" rx="3.2" ry="1.1" fill="#b8b8b8" transform="translate(293.5,269.3) rotate(0)"/>
<ellipse cx="0" cy="0" rx="0.8" ry="0.8" fill="#999" transform="translate(299,266.4) rotate(0)"/>
<rect x="305.4" y="268.4" width="7.1" height="1.3" fill="#fff"/>
<text x="414.1" y="9.7" font-size="7.8" fill="#231f20" textLength="171.3" lengthAdjust="spacingAndGlyphs">Fraction AFM counts (left) and growth time (right)</text>
<line x1="314.2" y1="17.8" x2="316.4" y2="17.8" stroke="#231f20" stroke-width="0.75"/>
<text x="312.59999999999997" y="20.5" font-size="7.8" text-anchor="end" fill="#231f20" >1.0</text>
<line x1="314.2" y1="35.0" x2="316.4" y2="35.0" stroke="#231f20" stroke-width="0.75"/>
<text x="312.59999999999997" y="37.7" font-size="7.8" text-anchor="end" fill="#231f20" >0.8</text>
<line x1="314.2" y1="52.2" x2="316.4" y2="52.2" stroke="#231f20" stroke-width="0.75"/>
<text x="312.59999999999997" y="54.900000000000006" font-size="7.8" text-anchor="end" fill="#231f20" >0.6</text>
<line x1="314.2" y1="69.4" x2="316.4" y2="69.4" stroke="#231f20" stroke-width="0.75"/>
<text x="312.59999999999997" y="72.10000000000001" font-size="7.8" text-anchor="end" fill="#231f20" >0.4</text>
<line x1="314.2" y1="86.6" x2="316.4" y2="86.6" stroke="#231f20" stroke-width="0.75"/>
<text x="312.59999999999997" y="89.3" font-size="7.8" text-anchor="end" fill="#231f20" >0.2</text>
<line x1="314.2" y1="103.8" x2="316.4" y2="103.8" stroke="#231f20" stroke-width="0.75"/>
<text x="312.59999999999997" y="106.5" font-size="7.8" text-anchor="end" fill="#231f20" >0</text>
<line x1="325.50" y1="13.3" x2="325.50" y2="108.3" stroke="#d95f02" stroke-opacity="0.62" stroke-width="1"/>
<line x1="335.22" y1="13.3" x2="335.22" y2="108.3" stroke="#1b9e77" stroke-opacity="0.78" stroke-width="1"/>
<line x1="344.94" y1="13.3" x2="344.94" y2="108.3" stroke="#1170bd" stroke-opacity="0.62" stroke-width="1"/>
<line x1="354.66" y1="13.3" x2="354.66" y2="108.3" stroke="#d95f02" stroke-opacity="0.45" stroke-width="1"/>
<line x1="364.38" y1="13.3" x2="364.38" y2="108.3" stroke="#1b9e77" stroke-opacity="0.78" stroke-width="1"/>
<line x1="374.10" y1="13.3" x2="374.10" y2="108.3" stroke="#1170bd" stroke-opacity="0.62" stroke-width="1"/>
<line x1="383.82" y1="13.3" x2="383.82" y2="108.3" stroke="#d95f02" stroke-opacity="0.45" stroke-width="1"/>
<line x1="393.54" y1="13.3" x2="393.54" y2="108.3" stroke="#1b9e77" stroke-opacity="0.78" stroke-width="1"/>
<line x1="403.26" y1="13.3" x2="403.26" y2="108.3" stroke="#1170bd" stroke-opacity="0.62" stroke-width="1"/>
<line x1="412.98" y1="13.3" x2="412.98" y2="108.3" stroke="#d95f02" stroke-opacity="0.45" stroke-width="1"/>
<line x1="422.70" y1="13.3" x2="422.70" y2="108.3" stroke="#1b9e77" stroke-opacity="0.78" stroke-width="1"/>
<line x1="432.42" y1="13.3" x2="432.42" y2="108.3" stroke="#1170bd" stroke-opacity="0.62" stroke-width="1"/>
<line x1="442.14" y1="13.3" x2="442.14" y2="108.3" stroke="#d95f02" stroke-opacity="0.62" stroke-width="1"/>
<line x1="451.86" y1="13.3" x2="451.86" y2="108.3" stroke="#1b9e77" stroke-opacity="0.78" stroke-width="1"/>
<line x1="461.58" y1="13.3" x2="461.58" y2="108.3" stroke="#1170bd" stroke-opacity="0.62" stroke-width="1"/>
<line x1="471.30" y1="13.3" x2="471.30" y2="108.3" stroke="#d95f02" stroke-opacity="0.62" stroke-width="1"/>
<line x1="481.02" y1="13.3" x2="481.02" y2="108.3" stroke="#1b9e77" stroke-opacity="0.78" stroke-width="1"/>
<line x1="490.74" y1="13.3" x2="490.74" y2="108.3" stroke="#1170bd" stroke-opacity="0.62" stroke-width="1"/>
<line x1="500.46" y1="13.3" x2="500.46" y2="108.3" stroke="#1b9e77" stroke-opacity="0.78" stroke-width="1"/>
<line x1="510.18" y1="13.3" x2="510.18" y2="108.3" stroke="#1b9e77" stroke-opacity="0.78" stroke-width="1"/>
<line x1="519.90" y1="13.3" x2="519.90" y2="108.3" stroke="#1b9e77" stroke-opacity="0.78" stroke-width="1"/>
<line x1="529.62" y1="13.3" x2="529.62" y2="108.3" stroke="#d95f02" stroke-opacity="0.62" stroke-width="1"/>
<line x1="539.34" y1="13.3" x2="539.34" y2="108.3" stroke="#d95f02" stroke-opacity="0.62" stroke-width="1"/>
<line x1="549.06" y1="13.3" x2="549.06" y2="108.3" stroke="#d95f02" stroke-opacity="0.62" stroke-width="1"/>
<line x1="558.78" y1="13.3" x2="558.78" y2="108.3" stroke="#1170bd" stroke-opacity="0.62" stroke-width="1"/>
<line x1="568.50" y1="13.3" x2="568.50" y2="108.3" stroke="#1170bd" stroke-opacity="0.62" stroke-width="1" stroke-dasharray="2.6,2.2"/>
<line x1="578.22" y1="13.3" x2="578.22" y2="108.3" stroke="#1170bd" stroke-opacity="0.45" stroke-width="1"/>
<line x1="587.94" y1="13.3" x2="587.94" y2="108.3" stroke="#d95f02" stroke-opacity="0.62" stroke-width="1"/>
<line x1="597.66" y1="13.3" x2="597.66" y2="108.3" stroke="#d95f02" stroke-opacity="0.62" stroke-width="1"/>
<line x1="607.38" y1="13.3" x2="607.38" y2="108.3" stroke="#d95f02" stroke-opacity="0.45" stroke-width="1"/>
<line x1="617.10" y1="13.3" x2="617.10" y2="108.3" stroke="#d95f02" stroke-opacity="0.62" stroke-width="1" stroke-dasharray="2.6,2.2"/>
<line x1="626.82" y1="13.3" x2="626.82" y2="108.3" stroke="#d95f02" stroke-opacity="0.62" stroke-width="1"/>
<line x1="636.54" y1="13.3" x2="636.54" y2="108.3" stroke="#d95f02" stroke-opacity="0.62" stroke-width="1" stroke-dasharray="2.6,2.2"/>
<line x1="646.26" y1="13.3" x2="646.26" y2="108.3" stroke="#d95f02" stroke-opacity="0.45" stroke-width="1"/>
<line x1="655.98" y1="13.3" x2="655.98" y2="108.3" stroke="#d95f02" stroke-opacity="0.62" stroke-width="1"/>
<line x1="665.70" y1="13.3" x2="665.70" y2="108.3" stroke="#d95f02" stroke-opacity="0.62" stroke-width="1" stroke-dasharray="2.6,2.2"/>
<line x1="675.42" y1="13.3" x2="675.42" y2="108.3" stroke="#b070c8" stroke-opacity="0.8" stroke-width="1"/>
<polygon points="324.81,92.80 321.45,90.18 321.45,95.42" fill="none" stroke="#1b9e77" stroke-width="0.8"/>
<polygon points="324.81,101.50 321.45,98.88 321.45,104.12" fill="none" stroke="#1170bd" stroke-width="0.8"/>
<polygon points="326.19,101.80 329.55,99.18 329.55,104.42" fill="none" stroke="#1170bd" stroke-width="0.8"/>
<polygon points="326.19,103.60 329.55,100.98 329.55,106.22" fill="none" stroke="#1b9e77" stroke-width="0.8"/>
<polygon points="325.30,31.90 321.20,28.70 321.20,35.10" fill="#d95f02"/>
<polygon points="325.70,19.50 329.80,16.30 329.80,22.70" fill="#d95f02"/>
<polygon points="334.53,102.10 331.17,99.48 331.17,104.72" fill="none" stroke="#d95f02" stroke-width="0.8"/>
<polygon points="334.53,103.60 331.17,100.98 331.17,106.22" fill="none" stroke="#1170bd" stroke-width="0.8"/>
<polygon points="335.91,101.80 339.27,99.18 339.27,104.42" fill="none" stroke="#1170bd" stroke-width="0.8"/>
<polygon points="335.91,103.60 339.27,100.98 339.27,106.22" fill="none" stroke="#d95f02" stroke-width="0.8"/>
<polygon points="335.02,19.90 330.92,16.70 330.92,23.10" fill="#1b9e77"/>
<polygon points="335.42,19.90 339.52,16.70 339.52,23.10" fill="#1b9e77"/>
<polygon points="344.25,103.90 340.89,101.28 340.89,106.52" fill="none" stroke="#1b9e77" stroke-width="0.8"/>
<polygon points="345.63,103.60 348.99,100.98 348.99,106.22" fill="none" stroke="#1b9e77" stroke-width="0.8"/>
<polygon points="344.74,18.00 340.64,14.80 340.64,21.20" fill="#1170bd"/>
<polygon points="345.14,18.00 349.24,14.80 349.24,21.20" fill="#1170bd"/>
<polygon points="353.97,94.10 350.61,91.48 350.61,96.72" fill="none" stroke="#1b9e77" stroke-width="0.8"/>
<polygon points="353.97,104.20 350.61,101.58 350.61,106.82" fill="none" stroke="#1170bd" stroke-width="0.8"/>
<polygon points="355.35,104.00 358.71,101.38 358.71,106.62" fill="none" stroke="#1170bd" stroke-width="0.8"/>
<polygon points="354.46,27.80 350.36,24.60 350.36,31.00" fill="#d95f02"/>
<polygon points="354.86,18.50 358.96,15.30 358.96,21.70" fill="#d95f02"/>
<polygon points="363.69,104.00 360.33,101.38 360.33,106.62" fill="none" stroke="#1170bd" stroke-width="0.8"/>
<polygon points="365.07,102.10 368.43,99.48 368.43,104.72" fill="none" stroke="#d95f02" stroke-width="0.8"/>
<polygon points="365.07,104.00 368.43,101.38 368.43,106.62" fill="none" stroke="#1170bd" stroke-width="0.8"/>
<polygon points="364.18,18.00 360.08,14.80 360.08,21.20" fill="#1b9e77"/>
<polygon points="364.58,19.50 368.68,16.30 368.68,22.70" fill="#1b9e77"/>
<polygon points="373.41,104.00 370.05,101.38 370.05,106.62" fill="none" stroke="#1b9e77" stroke-width="0.8"/>
<polygon points="374.79,104.00 378.15,101.38 378.15,106.62" fill="none" stroke="#1b9e77" stroke-width="0.8"/>
<polygon points="373.90,18.00 369.80,14.80 369.80,21.20" fill="#1170bd"/>
<polygon points="374.30,18.00 378.40,14.80 378.40,21.20" fill="#1170bd"/>
<polygon points="383.13,104.00 379.77,101.38 379.77,106.62" fill="none" stroke="#1170bd" stroke-width="0.8"/>
<polygon points="384.51,104.00 387.87,101.38 387.87,106.62" fill="none" stroke="#1170bd" stroke-width="0.8"/>
<polygon points="383.62,18.00 379.52,14.80 379.52,21.20" fill="#d95f02"/>
<polygon points="384.02,18.00 388.12,14.80 388.12,21.20" fill="#d95f02"/>
<polygon points="392.85,104.40 389.49,101.78 389.49,107.02" fill="none" stroke="#1170bd" stroke-width="0.8"/>
<polygon points="394.23,104.40 397.59,101.78 397.59,107.02" fill="none" stroke="#1170bd" stroke-width="0.8"/>
<polygon points="394.23,103.00 397.59,100.38 397.59,105.62" fill="none" stroke="#d95f02" stroke-width="0.8"/>
<polygon points="393.34,18.00 389.24,14.80 389.24,21.20" fill="#1b9e77"/>
<polygon points="393.74,18.80 397.84,15.60 397.84,22.00" fill="#1b9e77"/>
<polygon points="402.57,73.50 399.21,70.88 399.21,76.12" fill="none" stroke="#1b9e77" stroke-width="0.8"/>
<polygon points="403.95,80.80 407.31,78.18 407.31,83.42" fill="none" stroke="#1b9e77" stroke-width="0.8"/>
<polygon points="402.57,87.40 399.21,84.78 399.21,90.02" fill="none" stroke="#d95f02" stroke-width="0.8"/>
<polygon points="403.95,86.00 407.31,83.38 407.31,88.62" fill="none" stroke="#d95f02" stroke-width="0.8"/>
<polygon points="403.06,64.70 398.96,61.50 398.96,67.90" fill="#1170bd"/>
<polygon points="403.46,60.00 407.56,56.80 407.56,63.20" fill="#1170bd"/>
<polygon points="412.29,98.70 408.93,96.08 408.93,101.32" fill="none" stroke="#1b9e77" stroke-width="0.8"/>
<polygon points="412.29,104.10 408.93,101.48 408.93,106.72" fill="none" stroke="#1170bd" stroke-width="0.8"/>
<polygon points="413.67,98.70 417.03,96.08 417.03,101.32" fill="none" stroke="#1b9e77" stroke-width="0.8"/>
<polygon points="413.67,104.10 417.03,101.48 417.03,106.72" fill="none" stroke="#1170bd" stroke-width="0.8"/>
<polygon points="412.78,22.80 408.68,19.60 408.68,26.00" fill="#d95f02"/>
<polygon points="413.18,22.80 417.28,19.60 417.28,26.00" fill="#d95f02"/>
<polygon points="422.01,104.10 418.65,101.48 418.65,106.72" fill="none" stroke="#1170bd" stroke-width="0.8"/>
<polygon points="423.39,104.00 426.75,101.38 426.75,106.62" fill="none" stroke="#1170bd" stroke-width="0.8"/>
<polygon points="422.50,17.30 418.40,14.10 418.40,20.50" fill="#1b9e77"/>
<polygon points="422.90,17.30 427.00,14.10 427.00,20.50" fill="#1b9e77"/>
<polygon points="431.73,76.40 428.37,73.78 428.37,79.02" fill="none" stroke="#1b9e77" stroke-width="0.8"/>
<polygon points="431.73,96.40 428.37,93.78 428.37,99.02" fill="none" stroke="#d95f02" stroke-width="0.8"/>
<polygon points="433.11,92.10 436.47,89.48 436.47,94.72" fill="none" stroke="#1b9e77" stroke-width="0.8"/>
<polygon points="433.11,100.30 436.47,97.68 436.47,102.92" fill="none" stroke="#d95f02" stroke-width="0.8"/>
<polygon points="432.22,52.30 428.12,49.10 428.12,55.50" fill="#1170bd"/>
<polygon points="432.62,34.10 436.72,30.90 436.72,37.30" fill="#1170bd"/>
<polygon points="441.45,92.10 438.09,89.48 438.09,94.72" fill="none" stroke="#1b9e77" stroke-width="0.8"/>
<polygon points="441.45,104.20 438.09,101.58 438.09,106.82" fill="none" stroke="#1170bd" stroke-width="0.8"/>
<polygon points="442.83,102.00 446.19,99.38 446.19,104.62" fill="none" stroke="#1170bd" stroke-width="0.8"/>
<polygon points="441.94,29.70 437.84,26.50 437.84,32.90" fill="#d95f02"/>
<polygon points="442.34,21.70 446.44,18.50 446.44,24.90" fill="#d95f02"/>
<polygon points="451.17,65.70 447.81,63.08 447.81,68.32" fill="none" stroke="#1170bd" stroke-width="0.8"/>
<polygon points="452.55,79.00 455.91,76.38 455.91,81.62" fill="none" stroke="#1170bd" stroke-width="0.8"/>
<polygon points="451.17,104.20 447.81,101.58 447.81,106.82" fill="none" stroke="#d95f02" stroke-width="0.8"/>
<polygon points="452.55,102.00 455.91,99.38 455.91,104.62" fill="none" stroke="#d95f02" stroke-width="0.8"/>
<polygon points="451.66,56.00 447.56,52.80 447.56,59.20" fill="#1b9e77"/>
<polygon points="452.06,45.70 456.16,42.50 456.16,48.90" fill="#1b9e77"/>
<polygon points="460.89,83.50 457.53,80.88 457.53,86.12" fill="none" stroke="#1b9e77" stroke-width="0.8"/>
<polygon points="460.89,98.60 457.53,95.98 457.53,101.22" fill="none" stroke="#d95f02" stroke-width="0.8"/>
<polygon points="462.27,92.50 465.63,89.88 465.63,95.12" fill="none" stroke="#1b9e77" stroke-width="0.8"/>
<polygon points="462.27,98.60 465.63,95.98 465.63,101.22" fill="none" stroke="#d95f02" stroke-width="0.8"/>
<polygon points="461.38,44.30 457.28,41.10 457.28,47.50" fill="#1170bd"/>
<polygon points="461.78,34.10 465.88,30.90 465.88,37.30" fill="#1170bd"/>
<polygon points="470.61,72.40 467.25,69.78 467.25,75.02" fill="none" stroke="#1170bd" stroke-width="0.8"/>
<polygon points="470.61,104.20 467.25,101.58 467.25,106.82" fill="none" stroke="#1b9e77" stroke-width="0.8"/>
<polygon points="471.99,99.90 475.35,97.28 475.35,102.52" fill="none" stroke="#1170bd" stroke-width="0.8"/>
<polygon points="471.99,102.00 475.35,99.38 475.35,104.62" fill="none" stroke="#1b9e77" stroke-width="0.8"/>
<polygon points="471.10,48.70 467.00,45.50 467.00,51.90" fill="#d95f02"/>
<polygon points="471.50,24.60 475.60,21.40 475.60,27.80" fill="#d95f02"/>
<polygon points="480.33,99.00 476.97,96.38 476.97,101.62" fill="none" stroke="#1170bd" stroke-width="0.8"/>
<polygon points="480.33,104.60 476.97,101.98 476.97,107.22" fill="none" stroke="#d95f02" stroke-width="0.8"/>
<polygon points="481.71,95.10 485.07,92.48 485.07,97.72" fill="none" stroke="#1170bd" stroke-width="0.8"/>
<polygon points="481.71,101.60 485.07,98.98 485.07,104.22" fill="none" stroke="#d95f02" stroke-width="0.8"/>
<polygon points="480.82,22.80 476.72,19.60 476.72,26.00" fill="#1b9e77"/>
<polygon points="481.22,29.00 485.32,25.80 485.32,32.20" fill="#1b9e77"/>
<polygon points="490.05,99.40 486.69,96.78 486.69,102.02" fill="none" stroke="#1b9e77" stroke-width="0.8"/>
<polygon points="490.05,104.20 486.69,101.58 486.69,106.82" fill="none" stroke="#d95f02" stroke-width="0.8"/>
<polygon points="491.43,91.20 494.79,88.58 494.79,93.82" fill="none" stroke="#1b9e77" stroke-width="0.8"/>
<polygon points="491.43,103.70 494.79,101.08 494.79,106.32" fill="none" stroke="#d95f02" stroke-width="0.8"/>
<polygon points="490.54,22.00 486.44,18.80 486.44,25.20" fill="#1170bd"/>
<polygon points="490.94,31.60 495.04,28.40 495.04,34.80" fill="#1170bd"/>
<polygon points="501.15,86.30 504.51,83.68 504.51,88.92" fill="none" stroke="#1170bd" stroke-width="0.8"/>
<polygon points="500.66,52.20 504.76,49.00 504.76,55.40" fill="#1b9e77"/>
<polygon points="510.87,70.90 514.23,68.28 514.23,73.52" fill="none" stroke="#1170bd" stroke-width="0.8"/>
<polygon points="509.49,103.30 506.13,100.68 506.13,105.92" fill="none" stroke="#1170bd" stroke-width="0.8"/>
<polygon points="510.87,103.30 514.23,100.68 514.23,105.92" fill="none" stroke="#d95f02" stroke-width="0.8"/>
<polygon points="509.98,18.00 505.88,14.80 505.88,21.20" fill="#1b9e77"/>
<polygon points="510.38,52.20 514.48,49.00 514.48,55.40" fill="#1b9e77"/>
<polygon points="519.21,103.30 515.85,100.68 515.85,105.92" fill="none" stroke="#1170bd" stroke-width="0.8"/>
<polygon points="520.59,103.30 523.95,100.68 523.95,105.92" fill="none" stroke="#d95f02" stroke-width="0.8"/>
<polygon points="520.59,102.00 523.95,99.38 523.95,104.62" fill="none" stroke="#1170bd" stroke-width="0.8"/>
<polygon points="519.70,18.00 515.60,14.80 515.60,21.20" fill="#1b9e77"/>
<polygon points="520.10,18.00 524.20,14.80 524.20,21.20" fill="#1b9e77"/>
<polygon points="528.93,103.50 525.57,100.88 525.57,106.12" fill="none" stroke="#1170bd" stroke-width="0.8"/>
<polygon points="530.31,103.50 533.67,100.88 533.67,106.12" fill="none" stroke="#1170bd" stroke-width="0.8"/>
<polygon points="529.42,18.00 525.32,14.80 525.32,21.20" fill="#d95f02"/>
<polygon points="529.82,18.00 533.92,14.80 533.92,21.20" fill="#d95f02"/>
<polygon points="538.65,103.50 535.29,100.88 535.29,106.12" fill="none" stroke="#1170bd" stroke-width="0.8"/>
<polygon points="538.65,103.00 535.29,100.38 535.29,105.62" fill="none" stroke="#1b9e77" stroke-width="0.8"/>
<polygon points="540.03,103.50 543.39,100.88 543.39,106.12" fill="none" stroke="#1170bd" stroke-width="0.8"/>
<polygon points="540.03,103.00 543.39,100.38 543.39,105.62" fill="none" stroke="#1b9e77" stroke-width="0.8"/>
<polygon points="539.14,18.00 535.04,14.80 535.04,21.20" fill="#d95f02"/>
<polygon points="539.54,18.00 543.64,14.80 543.64,21.20" fill="#d95f02"/>
<polygon points="548.37,103.50 545.01,100.88 545.01,106.12" fill="none" stroke="#1170bd" stroke-width="0.8"/>
<polygon points="549.75,103.50 553.11,100.88 553.11,106.12" fill="none" stroke="#1170bd" stroke-width="0.8"/>
<polygon points="548.86,18.00 544.76,14.80 544.76,21.20" fill="#d95f02"/>
<polygon points="549.26,18.00 553.36,14.80 553.36,21.20" fill="#d95f02"/>
<polygon points="558.09,103.50 554.73,100.88 554.73,106.12" fill="none" stroke="#1b9e77" stroke-width="0.8"/>
<polygon points="559.47,103.50 562.83,100.88 562.83,106.12" fill="none" stroke="#1b9e77" stroke-width="0.8"/>
<polygon points="558.58,18.00 554.48,14.80 554.48,21.20" fill="#1170bd"/>
<polygon points="558.98,18.00 563.08,14.80 563.08,21.20" fill="#1170bd"/>
<polygon points="577.53,103.50 574.17,100.88 574.17,106.12" fill="none" stroke="#1b9e77" stroke-width="0.8"/>
<polygon points="578.91,94.00 582.27,91.38 582.27,96.62" fill="none" stroke="#1b9e77" stroke-width="0.8"/>
<polygon points="578.91,103.50 582.27,100.88 582.27,106.12" fill="none" stroke="#d95f02" stroke-width="0.8"/>
<polygon points="578.02,18.00 573.92,14.80 573.92,21.20" fill="#1170bd"/>
<polygon points="578.42,27.50 582.52,24.30 582.52,30.70" fill="#1170bd"/>
<polygon points="587.25,103.50 583.89,100.88 583.89,106.12" fill="none" stroke="#1170bd" stroke-width="0.8"/>
<polygon points="588.63,97.60 591.99,94.98 591.99,100.22" fill="none" stroke="#1170bd" stroke-width="0.8"/>
<polygon points="588.63,103.50 591.99,100.88 591.99,106.12" fill="none" stroke="#1b9e77" stroke-width="0.8"/>
<polygon points="587.74,18.00 583.64,14.80 583.64,21.20" fill="#d95f02"/>
<polygon points="588.14,24.30 592.24,21.10 592.24,27.50" fill="#d95f02"/>
<polygon points="596.97,88.40 593.61,85.78 593.61,91.02" fill="none" stroke="#1170bd" stroke-width="0.8"/>
<polygon points="596.97,103.50 593.61,100.88 593.61,106.12" fill="none" stroke="#1b9e77" stroke-width="0.8"/>
<polygon points="598.35,94.00 601.71,91.38 601.71,96.62" fill="none" stroke="#1170bd" stroke-width="0.8"/>
<polygon points="598.35,101.60 601.71,98.98 601.71,104.22" fill="none" stroke="#1b9e77" stroke-width="0.8"/>
<polygon points="597.46,33.60 593.36,30.40 593.36,36.80" fill="#d95f02"/>
<polygon points="597.86,30.40 601.96,27.20 601.96,33.60" fill="#d95f02"/>
<polygon points="606.69,103.50 603.33,100.88 603.33,106.12" fill="none" stroke="#1170bd" stroke-width="0.8"/>
<polygon points="608.07,93.20 611.43,90.58 611.43,95.82" fill="none" stroke="#1170bd" stroke-width="0.8"/>
<polygon points="608.07,103.50 611.43,100.88 611.43,106.12" fill="none" stroke="#1b9e77" stroke-width="0.8"/>
<polygon points="607.18,18.00 603.08,14.80 603.08,21.20" fill="#d95f02"/>
<polygon points="607.58,28.20 611.68,25.00 611.68,31.40" fill="#d95f02"/>
<polygon points="627.51,103.50 630.87,100.88 630.87,106.12" fill="none" stroke="#1170bd" stroke-width="0.8"/>
<polygon points="627.02,18.00 631.12,14.80 631.12,21.20" fill="#d95f02"/>
<polygon points="646.95,101.30 650.31,98.68 650.31,103.92" fill="none" stroke="#1170bd" stroke-width="0.8"/>
<polygon points="646.95,103.50 650.31,100.88 650.31,106.12" fill="none" stroke="#1b9e77" stroke-width="0.8"/>
<polygon points="646.46,20.20 650.56,17.00 650.56,23.40" fill="#d95f02"/>
<polygon points="656.67,74.20 660.03,71.58 660.03,76.82" fill="none" stroke="#1b9e77" stroke-width="0.8"/>
<polygon points="656.67,96.60 660.03,93.98 660.03,99.22" fill="none" stroke="#1170bd" stroke-width="0.8"/>
<polygon points="656.18,55.20 660.28,52.00 660.28,58.40" fill="#d95f02"/>
<polygon points="674.73,73.00 671.37,70.38 671.37,75.62" fill="none" stroke="#1170bd" stroke-width="0.8"/>
<polygon points="674.73,75.00 671.37,72.38 671.37,77.62" fill="none" stroke="#d95f02" stroke-width="0.8"/>
<polygon points="674.73,75.50 671.37,72.88 671.37,78.12" fill="none" stroke="#1b9e77" stroke-width="0.8"/>
<polygon points="676.11,71.50 679.47,68.88 679.47,74.12" fill="none" stroke="#d95f02" stroke-width="0.8"/>
<polygon points="676.11,75.00 679.47,72.38 679.47,77.62" fill="none" stroke="#1b9e77" stroke-width="0.8"/>
<polygon points="676.11,78.50 679.47,75.88 679.47,81.12" fill="none" stroke="#1170bd" stroke-width="0.8"/>
<polygon points="676.11,81.10 679.47,78.48 679.47,83.72" fill="none" stroke="#1170bd" stroke-width="0.8"/>
<path d="M316.4,13.3 H684.2 V108.3 H316.4 Z" fill="none" stroke="#231f20" stroke-width="0.8"/>
<line x1="316.4" y1="13.3" x2="684.2" y2="13.3" stroke="#231f20" stroke-width="0.8"/>
<text transform="translate(327.90,110.8) rotate(-90)" font-size="8" text-anchor="end" fill="#231f20">Hodgkin</text>
<text transform="translate(337.62,110.8) rotate(-90)" font-size="8" text-anchor="end" fill="#231f20">Avogadro</text>
<text transform="translate(347.34,110.8) rotate(-90)" font-size="8" text-anchor="end" fill="#231f20">Mitscherlich</text>
<text transform="translate(357.06,110.8) rotate(-90)" font-size="8" text-anchor="end" fill="#231f20">Hopfield</text>
<text transform="translate(366.78,110.8) rotate(-90)" font-size="8" text-anchor="end" fill="#231f20">Abbott</text>
<text transform="translate(376.50,110.8) rotate(-90)" font-size="8" text-anchor="end" fill="#231f20">Moser</text>
<text transform="translate(386.22,110.8) rotate(-90)" font-size="8" text-anchor="end" fill="#231f20">Horse</text>
<text transform="translate(395.94,110.8) rotate(-90)" font-size="8" text-anchor="end" fill="#231f20">Anchovy</text>
<text transform="translate(405.66,110.8) rotate(-90)" font-size="8" text-anchor="end" fill="#231f20">Mockingbird</text>
<text transform="translate(415.38,110.8) rotate(-90)" font-size="8" text-anchor="end" fill="#231f20">Hazelnuts</text>
<text transform="translate(425.10,110.8) rotate(-90)" font-size="8" text-anchor="end" fill="#231f20">Apples</text>
<text transform="translate(434.82,110.8) rotate(-90)" font-size="8" text-anchor="end" fill="#231f20">Magnolia</text>
<text transform="translate(444.54,110.8) rotate(-90)" font-size="8" text-anchor="end" fill="#231f20">Harom</text>
<text transform="translate(454.26,110.8) rotate(-90)" font-size="8" text-anchor="end" fill="#231f20">Aon</text>
<text transform="translate(463.98,110.8) rotate(-90)" font-size="8" text-anchor="end" fill="#231f20">Mbili</text>
<text transform="translate(473.70,110.8) rotate(-90)" font-size="8" text-anchor="end" fill="#231f20">LetterH</text>
<text transform="translate(483.42,110.8) rotate(-90)" font-size="8" text-anchor="end" fill="#231f20">LetterA</text>
<text transform="translate(493.14,110.8) rotate(-90)" font-size="8" text-anchor="end" fill="#231f20">LetterM</text>
<text transform="translate(502.86,110.8) rotate(-90)" font-size="8" text-anchor="end" fill="#231f20">NoisyApple1</text>
<text transform="translate(512.58,110.8) rotate(-90)" font-size="8" text-anchor="end" fill="#231f20">NoisyApple2</text>
<text transform="translate(522.30,110.8) rotate(-90)" font-size="8" text-anchor="end" fill="#231f20">NoisyApple3</text>
<text transform="translate(532.02,110.8) rotate(-90)" font-size="8" text-anchor="end" fill="#231f20">NoisyHorse1</text>
<text transform="translate(541.74,110.8) rotate(-90)" font-size="8" text-anchor="end" fill="#231f20">NoisyHorse2</text>
<text transform="translate(551.46,110.8) rotate(-90)" font-size="8" text-anchor="end" fill="#231f20">NoisyHorse3</text>
<text transform="translate(561.18,110.8) rotate(-90)" font-size="8" text-anchor="end" fill="#231f20">ObscMagn1</text>
<text transform="translate(570.90,110.8) rotate(-90)" font-size="8" text-anchor="end" fill="#231f20">ObscMagn2</text>
<text transform="translate(580.62,110.8) rotate(-90)" font-size="8" text-anchor="end" fill="#231f20">ObscMagn3</text>
<text transform="translate(590.34,110.8) rotate(-90)" font-size="8" text-anchor="end" fill="#231f20">ObscHazeln1</text>
<text transform="translate(600.06,110.8) rotate(-90)" font-size="8" text-anchor="end" fill="#231f20">ObscHazeln2</text>
<text transform="translate(609.78,110.8) rotate(-90)" font-size="8" text-anchor="end" fill="#231f20">ObscHazeln3</text>
<text transform="translate(619.50,110.8) rotate(-90)" font-size="8" text-anchor="end" fill="#231f20">VarHarom1</text>
<text transform="translate(629.22,110.8) rotate(-90)" font-size="8" text-anchor="end" fill="#231f20">VarHarom2</text>
<text transform="translate(638.94,110.8) rotate(-90)" font-size="8" text-anchor="end" fill="#231f20">VarHarom3</text>
<text transform="translate(648.66,110.8) rotate(-90)" font-size="8" text-anchor="end" fill="#231f20">VarHarom4</text>
<text transform="translate(658.38,110.8) rotate(-90)" font-size="8" text-anchor="end" fill="#231f20">VarHarom5</text>
<text transform="translate(668.10,110.8) rotate(-90)" font-size="8" text-anchor="end" fill="#231f20">VarHarom6</text>
<text transform="translate(677.82,110.8) rotate(-90)" font-size="8" text-anchor="end" fill="#231f20">SHAM80</text>
<text x="342" y="171.5" font-size="7.2" text-anchor="middle" fill="#231f20" >Target</text>
<text x="341.4" y="257.2" font-size="7.2" text-anchor="middle" fill="#231f20" >Other</text>
<line x1="337.5" y1="176" x2="337.50" y2="195.60" stroke="#231f20" stroke-width="0.6"/>
<polygon points="337.50,198.00 336.40,195.60 338.60,195.60" fill="#231f20"/>
<line x1="337.5" y1="248.3" x2="337.50" y2="228.40" stroke="#231f20" stroke-width="0.6"/>
<polygon points="337.50,226.00 338.60,228.40 336.40,228.40" fill="#231f20"/>
<line x1="344.5" y1="176" x2="344.50" y2="195.60" stroke="#231f20" stroke-width="0.6"/>
<polygon points="344.50,198.00 343.40,195.60 345.60,195.60" fill="#231f20"/>
<line x1="344.5" y1="248.3" x2="344.50" y2="228.40" stroke="#231f20" stroke-width="0.6"/>
<polygon points="344.50,226.00 345.60,228.40 343.40,228.40" fill="#231f20"/>
<line x1="341.3" y1="176" x2="341.30" y2="179.90" stroke="#231f20" stroke-width="0.6"/>
<polygon points="341.30,182.30 340.20,179.90 342.40,179.90" fill="#231f20"/>
<line x1="341.3" y1="185.5" x2="341.3" y2="241" stroke="#231f20" stroke-width="0.6"/>
<polygon points="336.8,200.5 341.2,204.1 336.8,207.8" fill="#4a4a4a"/><polygon points="345.8,200.5 341.4,204.1 345.8,207.8" fill="#4a4a4a"/>
<polygon points="337.3,217.8 340.9,220.8 337.3,223.9" fill="#fff" stroke="#666" stroke-width="0.75"/><polygon points="345.4,217.8 341.8,220.8 345.4,223.9" fill="#fff" stroke="#666" stroke-width="0.75"/>
<text transform="translate(333.9,235) rotate(-90)" font-size="7.4" fill="#231f20">AFM counts</text>
<text transform="translate(354.5,236) rotate(-90)" font-size="7.4" fill="#231f20">Fluorescence</text>
<text transform="translate(361.8,236) rotate(-90)" font-size="7.4" fill="#231f20">time quenched</text>
<text x="370.4" y="173.2" font-size="7.6" text-anchor="start" fill="#231f20" >Target</text>
<text x="370.4" y="179.9" font-size="7.6" text-anchor="start" fill="#231f20" >shape</text>
<polygon points="370.7,189.70000000000002 374.9,192.3 370.7,194.9" fill="#d95f02"/>
<circle cx="382" cy="192.3" r="3.2" fill="none" stroke="#d95f02" stroke-width="0.8"/>
<text x="388.3" y="194.9" font-size="7.4" text-anchor="start" fill="#231f20" >H</text>
<polygon points="370.7,200.3 374.9,202.9 370.7,205.5" fill="#1b9e77"/>
<circle cx="382" cy="202.9" r="3.2" fill="none" stroke="#1b9e77" stroke-width="0.8"/>
<text x="388.3" y="205.5" font-size="7.4" text-anchor="start" fill="#231f20" >A</text>
<polygon points="370.7,211.3 374.9,213.9 370.7,216.5" fill="#1170bd"/>
<circle cx="382" cy="213.9" r="3.2" fill="none" stroke="#1170bd" stroke-width="0.8"/>
<text x="388.3" y="216.5" font-size="7.4" text-anchor="start" fill="#231f20" >M</text>
<circle cx="382" cy="224.8" r="3.2" fill="none" stroke="#8b2095" stroke-width="0.8"/>
<text x="388.3" y="227.4" font-size="7.4" text-anchor="start" fill="#231f20" >All</text>
<text x="420.2" y="174.8" font-size="7.2" text-anchor="start" fill="#231f20" >Total</text>
<text x="407.2" y="189" font-size="7.7" text-anchor="start" fill="#231f20" >More</text>
<text x="407.4" y="202.4" font-size="7.8" text-anchor="start" fill="#231f20" >Less</text>
<line x1="430.6" y1="190.8" x2="430.60" y2="185.30" stroke="#231f20" stroke-width="0.75"/>
<polygon points="430.60,182.40 432.10,185.30 429.10,185.30" fill="#231f20"/>
<line x1="430.6" y1="195.8" x2="430.60" y2="201.30" stroke="#231f20" stroke-width="0.75"/>
<polygon points="430.60,204.20 429.10,201.30 432.10,201.30" fill="#231f20"/>
<circle cx="439.3" cy="186.3" r="4.6" fill="none" stroke="#231f20" stroke-width="0.75"/>
<circle cx="439.3" cy="200.2" r="1.7" fill="none" stroke="#231f20" stroke-width="0.7"/>
<g clip-path="url(#tri480)">
<circle cx="480.4" cy="164.3" r="52.2" fill="#c8e9df"/>
<circle cx="423.59999999999997" cy="262.2" r="54" fill="#f7dcc8"/>
<circle cx="537.1999999999999" cy="262.2" r="56" fill="#c7deee"/>
</g>
<polygon points="480.4,164.3 423.59999999999997,262.2 537.1999999999999,262.2" fill="none" stroke="#2a2a2a" stroke-width="0.8" stroke-linejoin="miter"/>
<circle cx="480.8" cy="170.6" r="2.5" fill="#1b9e77"/>
<circle cx="481" cy="169" r="1.6" fill="none" stroke="#1b9e77" stroke-width="0.9"/>
<circle cx="484" cy="182" r="2.0" fill="none" stroke="#1b9e77" stroke-width="0.9"/>
<circle cx="480.6" cy="205.5" r="0.7" fill="#1b9e77"/>
<circle cx="500.3" cy="203.8" r="0.7" fill="#1b9e77"/>
<circle cx="494.2" cy="198.2" r="2.0" fill="none" stroke="#1b9e77" stroke-width="0.9"/>
<circle cx="455.9" cy="228" r="0.8" fill="#d95f02"/>
<circle cx="428.5" cy="259.5" r="3.0" fill="#d95f02"/>
<circle cx="430.8" cy="254.9" r="2.3" fill="none" stroke="#d95f02" stroke-width="0.9"/>
<circle cx="426.5" cy="260.5" r="2.2" fill="#d95f02"/>
<circle cx="433" cy="257.5" r="2.3" fill="none" stroke="#d95f02" stroke-width="0.9"/>
<circle cx="436.2" cy="256.3" r="2.2" fill="none" stroke="#d95f02" stroke-width="0.9"/>
<circle cx="441.6" cy="257.6" r="1.2" fill="none" stroke="#d95f02" stroke-width="0.9"/>
<circle cx="496" cy="233.8" r="1.4" fill="none" stroke="#1170bd" stroke-width="0.9"/>
<circle cx="520" cy="246.6" r="2.4" fill="none" stroke="#1170bd" stroke-width="0.9"/>
<circle cx="523" cy="244.8" r="2.0" fill="none" stroke="#1170bd" stroke-width="0.9"/>
<circle cx="526.2" cy="247.8" r="2.0" fill="none" stroke="#1170bd" stroke-width="0.9"/>
<circle cx="519" cy="248.5" r="1.8" fill="none" stroke="#1170bd" stroke-width="0.9"/>
<circle cx="532.2" cy="258.8" r="2.4" fill="none" stroke="#1170bd" stroke-width="0.9"/>
<circle cx="474.6" cy="227.7" r="5.9" fill="none" stroke="#8b2095" stroke-width="1.2"/>
<text x="480.2" y="252.8" font-size="7.7" text-anchor="middle" fill="#231f20" >AFM</text>
<g transform="translate(464.69,183.40) rotate(-60)">
<text x="-17.41" y="0" font-size="7.8" fill="#231f20">More A</text>
<line x1="9.11" y1="-2.7" x2="15.01" y2="-2.7" stroke="#231f20" stroke-width="0.8"/>
<polygon points="17.41,-2.7 14.41,-4.2 14.41,-1.2000000000000002" fill="#231f20"/>
</g>
<g transform="translate(427.31,249.01) rotate(-60)">
<line x1="-15.43" y1="-2.7" x2="-9.53" y2="-2.7" stroke="#231f20" stroke-width="0.8"/>
<polygon points="-17.83,-2.7 -14.83,-4.2 -14.83,-1.2000000000000002" fill="#231f20"/>
<text x="-7.73" y="0" font-size="7.8" fill="#231f20">More H</text>
</g>
<g transform="translate(495.25,182.51) rotate(60)">
<line x1="-15.01" y1="-2.7" x2="-9.11" y2="-2.7" stroke="#231f20" stroke-width="0.8"/>
<polygon points="-17.41,-2.7 -14.41,-4.2 -14.41,-1.2000000000000002" fill="#231f20"/>
<text x="-7.31" y="0" font-size="7.8" fill="#231f20">More A</text>
</g>
<g transform="translate(533.68,246.93) rotate(60)">
<text x="-18.27" y="0" font-size="7.8" fill="#231f20">More M</text>
<line x1="9.97" y1="-2.7" x2="15.87" y2="-2.7" stroke="#231f20" stroke-width="0.8"/>
<polygon points="18.27,-2.7 15.27,-4.2 15.27,-1.2000000000000002" fill="#231f20"/>
</g>
<g transform="translate(442.70,271.20) rotate(0)">
<line x1="-15.43" y1="-2.7" x2="-9.53" y2="-2.7" stroke="#231f20" stroke-width="0.8"/>
<polygon points="-17.83,-2.7 -14.83,-4.2 -14.83,-1.2000000000000002" fill="#231f20"/>
<text x="-7.73" y="0" font-size="7.8" fill="#231f20">More H</text>
</g>
<g transform="translate(519.40,271.20) rotate(0)">
<text x="-18.27" y="0" font-size="7.8" fill="#231f20">More M</text>
<line x1="9.97" y1="-2.7" x2="15.87" y2="-2.7" stroke="#231f20" stroke-width="0.8"/>
<polygon points="18.27,-2.7 15.27,-4.2 15.27,-1.2000000000000002" fill="#231f20"/>
</g>
<g clip-path="url(#tri617)">
<circle cx="617.4" cy="164.0" r="52.2" fill="#c8e9df"/>
<circle cx="560.6" cy="262.2" r="54" fill="#f7dcc8"/>
<circle cx="674.1999999999999" cy="262.2" r="56" fill="#c7deee"/>
</g>
<polygon points="617.4,164.0 560.6,262.2 674.1999999999999,262.2" fill="none" stroke="#2a2a2a" stroke-width="0.8" stroke-linejoin="miter"/>
<circle cx="616.7" cy="168.1" r="2.4" fill="none" stroke="#1b9e77" stroke-width="0.9"/>
<circle cx="619.8" cy="174.4" r="2.4" fill="none" stroke="#1b9e77" stroke-width="0.9"/>
<circle cx="617.5" cy="166" r="1.4" fill="#1b9e77"/>
<circle cx="640.3" cy="209.2" r="2.4" fill="none" stroke="#1b9e77" stroke-width="0.9"/>
<circle cx="576.3" cy="246.3" r="3.5" fill="none" stroke="#d95f02" stroke-width="0.9"/>
<circle cx="573.6" cy="248.6" r="2.5" fill="none" stroke="#d95f02" stroke-width="0.9"/>
<circle cx="569.6" cy="252.6" r="3.0" fill="none" stroke="#d95f02" stroke-width="0.9"/>
<circle cx="566.3" cy="257.5" r="2.5" fill="none" stroke="#d95f02" stroke-width="0.9"/>
<circle cx="563.8" cy="259.8" r="1.8" fill="#d95f02"/>
<circle cx="584.8" cy="258" r="1.5" fill="none" stroke="#d95f02" stroke-width="0.9"/>
<circle cx="602.7" cy="258.2" r="3.7" fill="none" stroke="#d95f02" stroke-width="0.9"/>
<circle cx="631.1" cy="227" r="2.4" fill="none" stroke="#1170bd" stroke-width="0.9"/>
<circle cx="643" cy="230.6" r="3.4" fill="none" stroke="#1170bd" stroke-width="0.9"/>
<circle cx="650" cy="237" r="3.0" fill="none" stroke="#1170bd" stroke-width="0.9"/>
<circle cx="665.3" cy="253.3" r="3.4" fill="none" stroke="#1170bd" stroke-width="0.9"/>
<circle cx="668" cy="258.3" r="2.8" fill="#1170bd"/>
<circle cx="619.4" cy="228.6" r="5.6" fill="none" stroke="#8b2095" stroke-width="1.2"/>
<text x="617.5" y="251.5" font-size="7.7" text-anchor="middle" fill="#231f20" >Fluorescence</text>
<g transform="translate(601.69,183.10) rotate(-60)">
<text x="-17.41" y="0" font-size="7.8" fill="#231f20">More A</text>
<line x1="9.11" y1="-2.7" x2="15.01" y2="-2.7" stroke="#231f20" stroke-width="0.8"/>
<polygon points="17.41,-2.7 14.41,-4.2 14.41,-1.2000000000000002" fill="#231f20"/>
</g>
<g transform="translate(564.31,248.71) rotate(-60)">
<line x1="-15.43" y1="-2.7" x2="-9.53" y2="-2.7" stroke="#231f20" stroke-width="0.8"/>
<polygon points="-17.83,-2.7 -14.83,-4.2 -14.83,-1.2000000000000002" fill="#231f20"/>
<text x="-7.73" y="0" font-size="7.8" fill="#231f20">More H</text>
</g>
<g transform="translate(632.25,182.21) rotate(60)">
<line x1="-15.01" y1="-2.7" x2="-9.11" y2="-2.7" stroke="#231f20" stroke-width="0.8"/>
<polygon points="-17.41,-2.7 -14.41,-4.2 -14.41,-1.2000000000000002" fill="#231f20"/>
<text x="-7.31" y="0" font-size="7.8" fill="#231f20">More A</text>
</g>
<g transform="translate(670.68,246.63) rotate(60)">
<text x="-18.27" y="0" font-size="7.8" fill="#231f20">More M</text>
<line x1="9.97" y1="-2.7" x2="15.87" y2="-2.7" stroke="#231f20" stroke-width="0.8"/>
<polygon points="18.27,-2.7 15.27,-4.2 15.27,-1.2000000000000002" fill="#231f20"/>
</g>
<g transform="translate(579.70,271.20) rotate(0)">
<line x1="-15.43" y1="-2.7" x2="-9.53" y2="-2.7" stroke="#231f20" stroke-width="0.8"/>
<polygon points="-17.83,-2.7 -14.83,-4.2 -14.83,-1.2000000000000002" fill="#231f20"/>
<text x="-7.73" y="0" font-size="7.8" fill="#231f20">More H</text>
</g>
<g transform="translate(656.40,271.20) rotate(0)">
<text x="-18.27" y="0" font-size="7.8" fill="#231f20">More M</text>
<line x1="9.97" y1="-2.7" x2="15.87" y2="-2.7" stroke="#231f20" stroke-width="0.8"/>
<polygon points="18.27,-2.7 15.27,-4.2 15.27,-1.2000000000000002" fill="#231f20"/>
</g>
</svg>
</body></html>
